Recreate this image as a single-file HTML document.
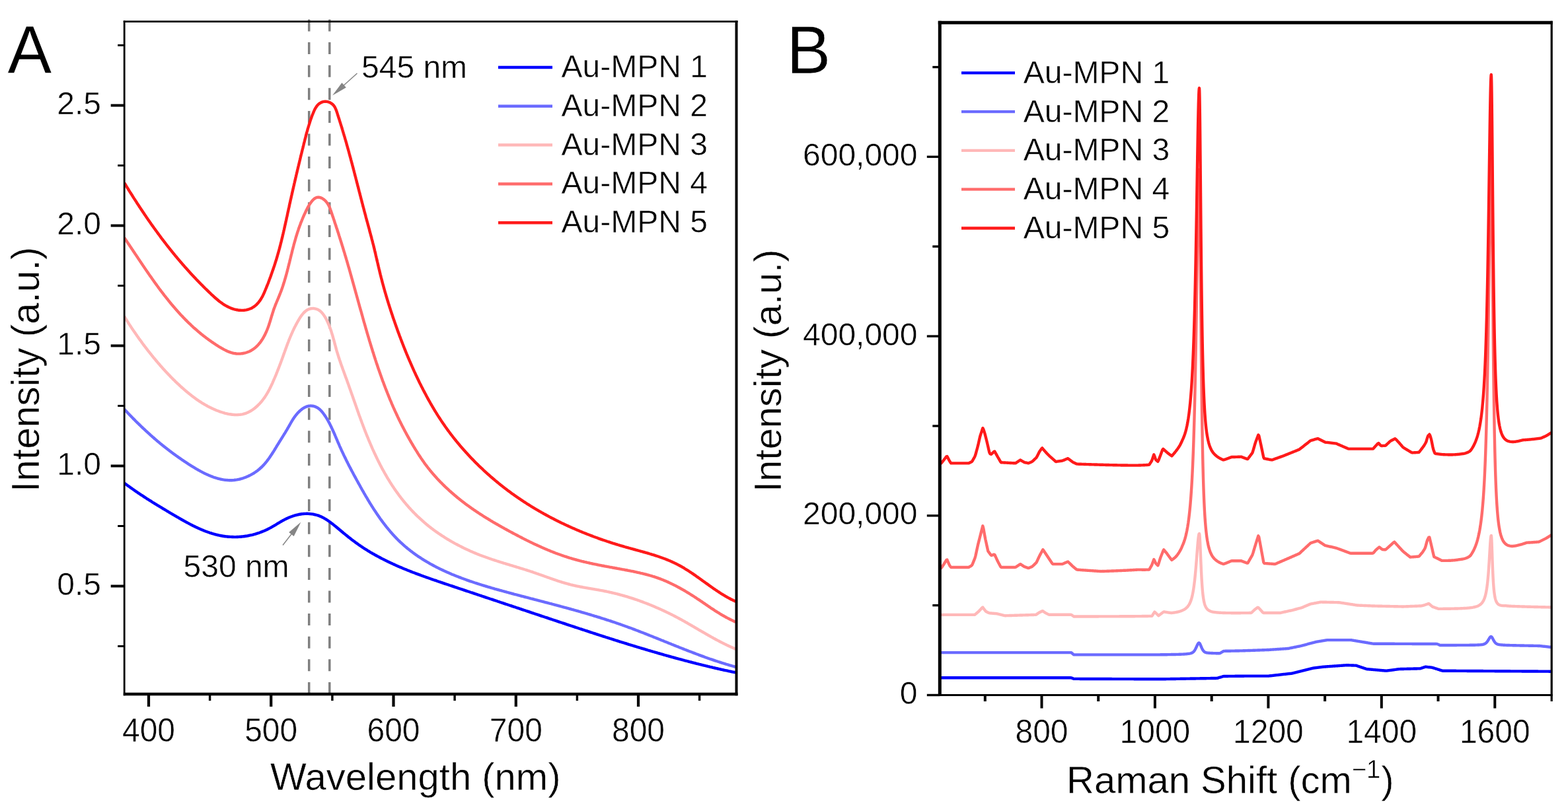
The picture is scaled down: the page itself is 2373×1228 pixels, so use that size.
<!DOCTYPE html>
<html><head><meta charset="utf-8"><title>Au-MPN spectra</title>
<style>html,body{margin:0;padding:0;background:#fff;}svg{display:block;}</style></head><body>
<svg width="2373" height="1228" viewBox="0 0 2373 1228" font-family="&apos;Liberation Sans&apos;, sans-serif">
<rect width="2373" height="1228" fill="#fff"/>
<style>text{stroke:#fff;stroke-width:0.5;stroke-linejoin:round;}</style>
<defs><clipPath id="ca"><rect x="188" y="32.5" width="926.5" height="1018.5"/></clipPath><clipPath id="cb"><rect x="1422.3" y="34" width="925.9" height="1018.5"/></clipPath></defs>
<g stroke="#808080" stroke-width="3.5" stroke-dasharray="18 16.6" fill="none">
<line x1="467.7" y1="29.5" x2="467.7" y2="1051"/>
<line x1="498.8" y1="29.5" x2="498.8" y2="1051"/>
</g>
<g clip-path="url(#ca)" fill="none" stroke-width="4.4" stroke-linejoin="round">
<path d="M188.0,731.3 L189.2,732.2 L190.5,733.2 L191.7,734.1 L193.0,735.0 L194.2,735.9 L195.5,736.8 L196.7,737.7 L198.0,738.6 L199.2,739.4 L200.4,740.3 L201.7,741.2 L202.9,742.1 L204.2,742.9 L205.4,743.8 L206.6,744.6 L207.9,745.5 L209.1,746.3 L210.3,747.1 L211.6,748.0 L212.8,748.8 L214.0,749.6 L215.3,750.4 L216.5,751.2 L217.8,752.1 L219.0,752.9 L220.2,753.7 L221.5,754.5 L222.7,755.3 L223.9,756.0 L225.2,756.8 L226.4,757.6 L227.7,758.4 L228.9,759.2 L230.1,760.0 L231.4,760.8 L232.6,761.5 L233.9,762.3 L235.1,763.1 L236.4,763.8 L237.6,764.6 L238.9,765.4 L240.1,766.1 L241.4,766.9 L242.7,767.7 L243.9,768.4 L245.2,769.2 L246.4,770.0 L247.7,770.7 L249.0,771.5 L250.2,772.2 L251.5,773.0 L252.8,773.8 L254.1,774.5 L255.4,775.3 L256.6,776.0 L257.9,776.8 L259.2,777.6 L260.5,778.3 L261.8,779.1 L263.1,779.9 L264.4,780.6 L265.7,781.4 L267.0,782.2 L268.3,782.9 L269.7,783.7 L271.0,784.5 L272.3,785.2 L273.6,786.0 L274.9,786.7 L276.3,787.5 L277.6,788.2 L278.9,789.0 L280.3,789.7 L281.6,790.5 L283.0,791.2 L284.3,791.9 L285.7,792.6 L287.0,793.4 L288.4,794.1 L289.7,794.8 L291.1,795.5 L292.5,796.2 L293.8,796.8 L295.2,797.5 L296.6,798.2 L298.0,798.8 L299.4,799.5 L300.7,800.1 L302.1,800.7 L303.5,801.3 L304.9,801.9 L306.3,802.5 L307.7,803.1 L309.1,803.7 L310.5,804.2 L311.9,804.7 L313.4,805.3 L314.8,805.8 L316.2,806.3 L317.6,806.8 L319.0,807.2 L320.5,807.7 L321.9,808.1 L323.3,808.5 L324.8,808.9 L326.2,809.3 L327.7,809.7 L329.1,810.0 L330.6,810.4 L332.0,810.7 L333.5,811.0 L334.9,811.3 L336.4,811.5 L337.9,811.8 L339.3,812.0 L340.8,812.2 L342.3,812.4 L343.7,812.5 L345.2,812.7 L346.7,812.8 L348.2,812.9 L349.7,812.9 L351.1,813.0 L352.6,813.0 L354.1,813.1 L355.6,813.1 L357.1,813.1 L358.6,813.0 L360.0,813.0 L361.5,812.9 L363.0,812.8 L364.5,812.7 L366.0,812.5 L367.5,812.4 L368.9,812.2 L370.4,812.0 L371.9,811.8 L373.4,811.6 L374.8,811.3 L376.3,811.0 L377.8,810.7 L379.2,810.4 L380.7,810.1 L382.1,809.8 L383.6,809.4 L385.0,809.0 L386.5,808.6 L387.9,808.2 L389.4,807.7 L390.8,807.2 L392.2,806.8 L393.6,806.3 L395.0,805.7 L396.5,805.2 L397.9,804.6 L399.3,804.0 L400.7,803.4 L402.0,802.8 L403.4,802.2 L404.8,801.5 L406.2,800.8 L407.5,800.1 L408.9,799.4 L410.2,798.7 L411.6,797.9 L412.9,797.1 L414.2,796.4 L415.5,795.6 L416.9,794.8 L418.2,794.0 L419.5,793.2 L420.8,792.4 L422.1,791.6 L423.5,790.8 L424.8,790.0 L426.1,789.3 L427.4,788.5 L428.8,787.8 L430.1,787.1 L431.4,786.4 L432.8,785.7 L434.2,785.0 L435.5,784.4 L436.9,783.8 L438.3,783.2 L439.6,782.7 L441.0,782.2 L442.4,781.7 L443.8,781.2 L445.2,780.8 L446.6,780.3 L448.1,780.0 L449.5,779.6 L450.9,779.3 L452.3,779.0 L453.8,778.7 L455.2,778.5 L456.7,778.3 L458.1,778.1 L459.6,778.0 L461.0,777.9 L462.5,777.9 L463.9,777.8 L465.4,777.8 L466.8,777.9 L468.3,778.0 L469.7,778.1 L471.1,778.3 L472.6,778.4 L474.0,778.7 L475.4,779.0 L476.8,779.3 L478.2,779.6 L479.6,780.0 L481.0,780.4 L482.4,780.9 L483.7,781.4 L485.1,782.0 L486.4,782.6 L487.7,783.2 L489.1,783.9 L490.4,784.6 L491.7,785.4 L493.0,786.1 L494.2,786.9 L495.5,787.7 L496.8,788.6 L498.0,789.5 L499.3,790.4 L500.5,791.3 L501.7,792.2 L503.0,793.1 L504.2,794.1 L505.4,795.1 L506.6,796.1 L507.8,797.0 L509.0,798.0 L510.2,799.0 L511.4,800.0 L512.6,801.0 L513.8,802.0 L515.0,803.0 L516.2,804.0 L517.4,805.0 L518.6,806.0 L519.7,807.0 L520.9,807.9 L522.1,808.9 L523.3,809.9 L524.5,810.8 L525.7,811.8 L526.8,812.7 L528.0,813.7 L529.2,814.6 L530.4,815.5 L531.6,816.5 L532.8,817.4 L534.0,818.3 L535.2,819.2 L536.4,820.1 L537.6,821.0 L538.8,821.9 L540.0,822.7 L541.2,823.6 L542.4,824.5 L543.7,825.3 L544.9,826.2 L546.1,827.0 L547.4,827.8 L548.6,828.7 L549.8,829.5 L551.1,830.3 L552.3,831.1 L553.6,831.9 L554.9,832.7 L556.1,833.5 L557.4,834.3 L558.7,835.0 L559.9,835.8 L561.2,836.6 L562.5,837.3 L563.8,838.1 L565.1,838.8 L566.4,839.5 L567.7,840.3 L569.0,841.0 L570.3,841.7 L571.6,842.4 L572.9,843.1 L574.2,843.8 L575.5,844.5 L576.8,845.2 L578.1,845.9 L579.5,846.6 L580.8,847.2 L582.1,847.9 L583.4,848.6 L584.8,849.2 L586.1,849.9 L587.5,850.5 L588.8,851.2 L590.2,851.8 L591.5,852.5 L592.9,853.1 L594.2,853.7 L595.6,854.3 L596.9,855.0 L598.3,855.6 L599.6,856.2 L601.0,856.8 L602.4,857.4 L603.7,858.0 L605.1,858.6 L606.5,859.1 L607.9,859.7 L609.2,860.3 L610.6,860.9 L612.0,861.5 L613.4,862.0 L614.8,862.6 L616.2,863.2 L617.6,863.7 L618.9,864.3 L620.3,864.8 L621.7,865.4 L623.1,865.9 L624.5,866.5 L625.9,867.0 L627.3,867.5 L628.7,868.1 L630.1,868.6 L631.5,869.1 L632.9,869.6 L634.3,870.2 L635.8,870.7 L637.2,871.2 L638.6,871.7 L640.0,872.2 L641.4,872.8 L642.8,873.3 L644.2,873.8 L645.7,874.3 L647.1,874.8 L648.5,875.3 L649.9,875.8 L651.3,876.3 L652.7,876.8 L654.2,877.3 L655.6,877.8 L657.0,878.3 L658.4,878.7 L659.9,879.2 L661.3,879.7 L662.7,880.2 L664.1,880.7 L665.6,881.2 L667.0,881.7 L668.4,882.1 L669.8,882.6 L671.3,883.1 L672.7,883.6 L674.1,884.1 L675.5,884.5 L677.0,885.0 L678.4,885.5 L679.8,886.0 L681.3,886.5 L682.7,886.9 L684.1,887.4 L685.5,887.9 L687.0,888.4 L688.4,888.9 L689.8,889.3 L691.2,889.8 L692.7,890.3 L694.1,890.8 L695.5,891.2 L696.9,891.7 L698.4,892.2 L699.8,892.7 L701.2,893.1 L702.6,893.6 L704.1,894.1 L705.5,894.6 L706.9,895.1 L708.3,895.5 L709.8,896.0 L711.2,896.5 L712.6,897.0 L714.0,897.4 L715.5,897.9 L716.9,898.4 L718.3,898.9 L719.7,899.3 L721.1,899.8 L722.6,900.3 L724.0,900.8 L725.4,901.2 L726.8,901.7 L728.3,902.2 L729.7,902.7 L731.1,903.2 L732.5,903.6 L733.9,904.1 L735.4,904.6 L736.8,905.1 L738.2,905.5 L739.6,906.0 L741.0,906.5 L742.5,907.0 L743.9,907.4 L745.3,907.9 L746.7,908.4 L748.2,908.9 L749.6,909.3 L751.0,909.8 L752.4,910.3 L753.8,910.8 L755.3,911.2 L756.7,911.7 L758.1,912.2 L759.5,912.7 L760.9,913.1 L762.4,913.6 L763.8,914.1 L765.2,914.6 L766.6,915.0 L768.0,915.5 L769.5,916.0 L770.9,916.5 L772.3,916.9 L773.7,917.4 L775.1,917.9 L776.6,918.4 L778.0,918.8 L779.4,919.3 L780.8,919.8 L782.2,920.3 L783.6,920.7 L785.1,921.2 L786.5,921.7 L787.9,922.1 L789.3,922.6 L790.7,923.1 L792.2,923.6 L793.6,924.0 L795.0,924.5 L796.4,925.0 L797.8,925.5 L799.3,925.9 L800.7,926.4 L802.1,926.9 L803.5,927.4 L804.9,927.8 L806.4,928.3 L807.8,928.8 L809.2,929.3 L810.6,929.7 L812.0,930.2 L813.5,930.7 L814.9,931.2 L816.3,931.6 L817.7,932.1 L819.1,932.6 L820.6,933.1 L822.0,933.5 L823.4,934.0 L824.8,934.5 L826.2,934.9 L827.7,935.4 L829.1,935.9 L830.5,936.4 L831.9,936.8 L833.4,937.3 L834.8,937.8 L836.2,938.3 L837.6,938.7 L839.0,939.2 L840.5,939.7 L841.9,940.2 L843.3,940.6 L844.7,941.1 L846.1,941.6 L847.6,942.1 L849.0,942.5 L850.4,943.0 L851.8,943.5 L853.3,943.9 L854.7,944.4 L856.1,944.9 L857.5,945.4 L858.9,945.8 L860.4,946.3 L861.8,946.8 L863.2,947.2 L864.6,947.7 L866.1,948.2 L867.5,948.7 L868.9,949.1 L870.3,949.6 L871.8,950.1 L873.2,950.5 L874.6,951.0 L876.0,951.5 L877.5,952.0 L878.9,952.4 L880.3,952.9 L881.7,953.4 L883.2,953.8 L884.6,954.3 L886.0,954.8 L887.4,955.2 L888.9,955.7 L890.3,956.2 L891.7,956.6 L893.1,957.1 L894.6,957.6 L896.0,958.0 L897.4,958.5 L898.8,959.0 L900.3,959.4 L901.7,959.9 L903.1,960.3 L904.6,960.8 L906.0,961.3 L907.4,961.7 L908.8,962.2 L910.3,962.7 L911.7,963.1 L913.1,963.6 L914.6,964.0 L916.0,964.5 L917.4,965.0 L918.8,965.4 L920.3,965.9 L921.7,966.3 L923.1,966.8 L924.6,967.2 L926.0,967.7 L927.4,968.1 L928.8,968.6 L930.3,969.1 L931.7,969.5 L933.1,970.0 L934.6,970.4 L936.0,970.9 L937.4,971.3 L938.9,971.8 L940.3,972.2 L941.7,972.7 L943.2,973.1 L944.6,973.5 L946.0,974.0 L947.5,974.4 L948.9,974.9 L950.3,975.3 L951.8,975.8 L953.2,976.2 L954.6,976.7 L956.1,977.1 L957.5,977.5 L958.9,978.0 L960.4,978.4 L961.8,978.8 L963.2,979.3 L964.7,979.7 L966.1,980.2 L967.6,980.6 L969.0,981.0 L970.4,981.5 L971.9,981.9 L973.3,982.3 L974.7,982.7 L976.2,983.2 L977.6,983.6 L979.1,984.0 L980.5,984.5 L981.9,984.9 L983.4,985.3 L984.8,985.7 L986.2,986.2 L987.7,986.6 L989.1,987.0 L990.6,987.4 L992.0,987.8 L993.4,988.2 L994.9,988.7 L996.3,989.1 L997.8,989.5 L999.2,989.9 L1000.7,990.3 L1002.1,990.7 L1003.5,991.1 L1005.0,991.6 L1006.4,992.0 L1007.9,992.4 L1009.3,992.8 L1010.8,993.2 L1012.2,993.6 L1013.7,994.0 L1015.1,994.4 L1016.5,994.8 L1018.0,995.2 L1019.4,995.6 L1020.9,996.0 L1022.3,996.4 L1023.8,996.8 L1025.2,997.2 L1026.7,997.6 L1028.1,997.9 L1029.6,998.3 L1031.0,998.7 L1032.5,999.1 L1033.9,999.5 L1035.4,999.9 L1036.8,1000.3 L1038.3,1000.6 L1039.7,1001.0 L1041.2,1001.4 L1042.6,1001.8 L1044.1,1002.2 L1045.5,1002.5 L1047.0,1002.9 L1048.4,1003.3 L1049.9,1003.7 L1051.3,1004.0 L1052.8,1004.4 L1054.2,1004.8 L1055.7,1005.1 L1057.1,1005.5 L1058.6,1005.9 L1060.0,1006.2 L1061.5,1006.6 L1063.0,1006.9 L1064.4,1007.3 L1065.9,1007.6 L1067.3,1008.0 L1068.8,1008.4 L1070.2,1008.7 L1071.7,1009.1 L1073.2,1009.4 L1074.6,1009.8 L1076.1,1010.1 L1077.5,1010.4 L1079.0,1010.8 L1080.4,1011.1 L1081.9,1011.5 L1083.4,1011.8 L1084.8,1012.1 L1086.3,1012.5 L1087.7,1012.8 L1089.2,1013.1 L1090.7,1013.5 L1092.1,1013.8 L1093.6,1014.1 L1095.1,1014.5 L1096.5,1014.8 L1098.0,1015.1 L1099.5,1015.4 L1100.9,1015.7 L1102.4,1016.1 L1103.8,1016.4 L1105.3,1016.7 L1106.8,1017.0 L1108.2,1017.3 L1109.7,1017.6 L1111.2,1017.9 L1112.6,1018.2 L1114.0,1018.5" stroke="#0000ff"/>
<path d="M188.0,619.5 L189.1,620.6 L190.1,621.8 L191.2,622.9 L192.3,624.0 L193.3,625.2 L194.4,626.3 L195.5,627.4 L196.5,628.5 L197.6,629.6 L198.7,630.7 L199.7,631.8 L200.8,632.9 L201.8,634.0 L202.9,635.0 L204.0,636.1 L205.0,637.2 L206.1,638.3 L207.2,639.3 L208.2,640.4 L209.3,641.4 L210.4,642.5 L211.5,643.5 L212.5,644.5 L213.6,645.6 L214.7,646.6 L215.7,647.6 L216.8,648.7 L217.9,649.7 L219.0,650.7 L220.1,651.7 L221.1,652.7 L222.2,653.7 L223.3,654.7 L224.4,655.7 L225.5,656.7 L226.6,657.7 L227.7,658.7 L228.8,659.6 L229.9,660.6 L231.0,661.6 L232.1,662.5 L233.2,663.5 L234.3,664.5 L235.4,665.4 L236.5,666.4 L237.6,667.3 L238.7,668.3 L239.9,669.2 L241.0,670.1 L242.1,671.1 L243.2,672.0 L244.4,672.9 L245.5,673.9 L246.7,674.8 L247.8,675.7 L248.9,676.6 L250.1,677.5 L251.3,678.4 L252.4,679.3 L253.6,680.2 L254.7,681.1 L255.9,682.0 L257.1,682.9 L258.3,683.8 L259.5,684.7 L260.6,685.6 L261.8,686.5 L263.0,687.4 L264.2,688.2 L265.4,689.1 L266.6,690.0 L267.9,690.8 L269.1,691.7 L270.3,692.6 L271.5,693.4 L272.8,694.3 L274.0,695.2 L275.3,696.0 L276.5,696.9 L277.8,697.7 L279.0,698.6 L280.3,699.4 L281.6,700.2 L282.9,701.1 L284.2,701.9 L285.4,702.8 L286.7,703.6 L288.0,704.4 L289.4,705.3 L290.7,706.1 L292.0,706.9 L293.3,707.7 L294.7,708.5 L296.0,709.3 L297.3,710.1 L298.7,710.9 L300.0,711.7 L301.4,712.4 L302.8,713.2 L304.1,713.9 L305.5,714.6 L306.9,715.4 L308.3,716.1 L309.6,716.8 L311.0,717.4 L312.4,718.1 L313.8,718.7 L315.2,719.3 L316.6,719.9 L318.0,720.5 L319.4,721.1 L320.9,721.6 L322.3,722.2 L323.7,722.7 L325.1,723.2 L326.6,723.6 L328.0,724.0 L329.4,724.5 L330.9,724.8 L332.3,725.2 L333.7,725.5 L335.2,725.8 L336.6,726.1 L338.1,726.4 L339.5,726.6 L341.0,726.8 L342.4,726.9 L343.9,727.0 L345.4,727.1 L346.8,727.2 L348.3,727.2 L349.7,727.2 L351.2,727.2 L352.7,727.1 L354.1,727.0 L355.6,726.8 L357.1,726.6 L358.5,726.4 L360.0,726.1 L361.5,725.8 L362.9,725.5 L364.4,725.1 L365.8,724.7 L367.3,724.3 L368.7,723.8 L370.1,723.3 L371.5,722.8 L372.9,722.2 L374.3,721.6 L375.7,721.0 L377.1,720.3 L378.5,719.6 L379.8,718.9 L381.1,718.2 L382.5,717.4 L383.8,716.7 L385.0,715.8 L386.3,715.0 L387.5,714.2 L388.8,713.3 L390.0,712.4 L391.1,711.4 L392.3,710.5 L393.4,709.5 L394.5,708.5 L395.6,707.5 L396.7,706.5 L397.7,705.4 L398.7,704.4 L399.7,703.3 L400.7,702.2 L401.7,701.0 L402.6,699.9 L403.5,698.8 L404.4,697.6 L405.3,696.4 L406.2,695.2 L407.1,694.0 L408.0,692.8 L408.8,691.5 L409.6,690.3 L410.5,689.0 L411.3,687.8 L412.1,686.5 L412.9,685.2 L413.8,683.9 L414.6,682.6 L415.4,681.3 L416.2,680.0 L417.0,678.7 L417.8,677.4 L418.6,676.0 L419.4,674.7 L420.2,673.4 L421.1,672.0 L421.9,670.7 L422.7,669.3 L423.5,668.0 L424.4,666.7 L425.2,665.3 L426.1,664.0 L426.9,662.6 L427.7,661.3 L428.6,659.9 L429.4,658.6 L430.2,657.2 L431.1,655.9 L431.9,654.6 L432.7,653.2 L433.5,651.9 L434.3,650.6 L435.1,649.2 L435.8,647.9 L436.6,646.6 L437.3,645.3 L438.1,644.0 L438.8,642.7 L439.5,641.5 L440.2,640.2 L441.0,638.9 L441.7,637.7 L442.5,636.4 L443.2,635.2 L444.0,634.0 L444.8,632.8 L445.6,631.6 L446.5,630.4 L447.4,629.2 L448.3,628.0 L449.3,626.9 L450.2,625.7 L451.3,624.6 L452.4,623.5 L453.5,622.5 L454.6,621.4 L455.8,620.5 L457.0,619.5 L458.2,618.7 L459.5,617.9 L460.8,617.1 L462.1,616.5 L463.4,615.9 L464.8,615.4 L466.1,615.0 L467.5,614.8 L468.9,614.6 L470.3,614.5 L471.7,614.6 L473.2,614.8 L474.6,615.0 L476.0,615.4 L477.4,615.9 L478.7,616.5 L480.0,617.2 L481.2,617.9 L482.3,618.7 L483.5,619.6 L484.5,620.5 L485.5,621.5 L486.5,622.6 L487.5,623.7 L488.4,624.8 L489.3,626.0 L490.2,627.2 L491.0,628.4 L491.9,629.6 L492.7,630.9 L493.5,632.1 L494.3,633.4 L495.1,634.7 L495.9,636.1 L496.7,637.4 L497.4,638.8 L498.2,640.2 L498.9,641.6 L499.6,643.0 L500.3,644.4 L501.0,645.8 L501.7,647.3 L502.4,648.7 L503.0,650.2 L503.7,651.6 L504.4,653.1 L505.0,654.6 L505.7,656.0 L506.3,657.5 L507.0,659.0 L507.6,660.5 L508.2,661.9 L508.8,663.4 L509.5,664.9 L510.1,666.3 L510.7,667.8 L511.3,669.2 L511.9,670.7 L512.6,672.1 L513.2,673.5 L513.8,675.0 L514.4,676.4 L515.1,677.8 L515.7,679.2 L516.3,680.5 L516.9,681.9 L517.6,683.3 L518.2,684.6 L518.8,686.0 L519.5,687.3 L520.1,688.7 L520.7,690.0 L521.4,691.3 L522.0,692.6 L522.7,693.9 L523.3,695.2 L523.9,696.6 L524.6,697.8 L525.2,699.1 L525.9,700.4 L526.5,701.7 L527.2,703.0 L527.8,704.3 L528.5,705.6 L529.2,706.8 L529.8,708.1 L530.5,709.4 L531.2,710.7 L531.8,711.9 L532.5,713.2 L533.2,714.5 L533.9,715.7 L534.5,717.0 L535.2,718.3 L535.9,719.6 L536.6,720.8 L537.3,722.1 L538.0,723.4 L538.7,724.7 L539.4,726.0 L540.1,727.3 L540.8,728.5 L541.5,729.8 L542.2,731.1 L542.9,732.4 L543.7,733.7 L544.4,735.0 L545.1,736.3 L545.8,737.6 L546.6,739.0 L547.3,740.3 L548.0,741.6 L548.8,742.9 L549.5,744.2 L550.3,745.5 L551.0,746.8 L551.8,748.1 L552.6,749.5 L553.3,750.8 L554.1,752.1 L554.9,753.4 L555.7,754.7 L556.4,756.0 L557.2,757.3 L558.0,758.6 L558.8,760.0 L559.6,761.3 L560.4,762.6 L561.2,763.9 L562.0,765.2 L562.8,766.5 L563.7,767.8 L564.5,769.1 L565.3,770.4 L566.2,771.7 L567.0,773.0 L567.9,774.2 L568.7,775.5 L569.6,776.8 L570.4,778.1 L571.3,779.4 L572.2,780.6 L573.0,781.9 L573.9,783.1 L574.8,784.4 L575.7,785.7 L576.6,786.9 L577.5,788.1 L578.4,789.4 L579.3,790.6 L580.2,791.8 L581.2,793.0 L582.1,794.3 L583.0,795.5 L584.0,796.7 L584.9,797.9 L585.9,799.1 L586.8,800.2 L587.8,801.4 L588.8,802.6 L589.7,803.7 L590.7,804.9 L591.7,806.0 L592.7,807.2 L593.7,808.3 L594.7,809.4 L595.7,810.5 L596.7,811.6 L597.8,812.7 L598.8,813.8 L599.8,814.9 L600.9,816.0 L601.9,817.0 L603.0,818.1 L604.1,819.1 L605.1,820.1 L606.2,821.2 L607.3,822.2 L608.4,823.2 L609.5,824.2 L610.6,825.2 L611.7,826.1 L612.8,827.1 L614.0,828.1 L615.1,829.0 L616.2,830.0 L617.4,830.9 L618.5,831.8 L619.7,832.7 L620.8,833.7 L622.0,834.6 L623.2,835.4 L624.3,836.3 L625.5,837.2 L626.7,838.1 L627.9,838.9 L629.1,839.8 L630.3,840.6 L631.5,841.5 L632.7,842.3 L633.9,843.1 L635.2,843.9 L636.4,844.7 L637.6,845.5 L638.9,846.3 L640.1,847.1 L641.3,847.9 L642.6,848.7 L643.9,849.4 L645.1,850.2 L646.4,850.9 L647.7,851.7 L648.9,852.4 L650.2,853.2 L651.5,853.9 L652.8,854.6 L654.1,855.3 L655.4,856.0 L656.7,856.7 L658.0,857.4 L659.3,858.1 L660.6,858.8 L661.9,859.4 L663.3,860.1 L664.6,860.8 L665.9,861.4 L667.3,862.1 L668.6,862.7 L669.9,863.3 L671.3,864.0 L672.6,864.6 L674.0,865.2 L675.3,865.8 L676.7,866.4 L678.1,867.0 L679.4,867.6 L680.8,868.2 L682.2,868.8 L683.5,869.4 L684.9,870.0 L686.3,870.5 L687.7,871.1 L689.1,871.7 L690.5,872.2 L691.9,872.8 L693.3,873.3 L694.7,873.9 L696.1,874.4 L697.5,874.9 L698.9,875.5 L700.3,876.0 L701.7,876.5 L703.1,877.0 L704.5,877.5 L705.9,878.1 L707.4,878.6 L708.8,879.1 L710.2,879.6 L711.6,880.1 L713.1,880.5 L714.5,881.0 L715.9,881.5 L717.4,882.0 L718.8,882.5 L720.2,882.9 L721.7,883.4 L723.1,883.9 L724.6,884.3 L726.0,884.8 L727.5,885.2 L728.9,885.7 L730.4,886.2 L731.8,886.6 L733.3,887.0 L734.7,887.5 L736.2,887.9 L737.6,888.4 L739.1,888.8 L740.5,889.2 L742.0,889.6 L743.5,890.1 L744.9,890.5 L746.4,890.9 L747.8,891.3 L749.3,891.8 L750.8,892.2 L752.2,892.6 L753.7,893.0 L755.2,893.4 L756.6,893.8 L758.1,894.2 L759.6,894.6 L761.0,895.0 L762.5,895.4 L763.9,895.8 L765.4,896.2 L766.9,896.6 L768.3,897.0 L769.8,897.4 L771.3,897.8 L772.7,898.2 L774.2,898.6 L775.7,899.0 L777.1,899.4 L778.6,899.8 L780.1,900.1 L781.5,900.5 L783.0,900.9 L784.5,901.3 L785.9,901.7 L787.4,902.1 L788.9,902.5 L790.3,902.8 L791.8,903.2 L793.2,903.6 L794.7,904.0 L796.2,904.4 L797.6,904.7 L799.1,905.1 L800.5,905.5 L802.0,905.9 L803.4,906.3 L804.9,906.6 L806.4,907.0 L807.8,907.4 L809.3,907.8 L810.7,908.2 L812.2,908.5 L813.6,908.9 L815.1,909.3 L816.5,909.7 L818.0,910.1 L819.4,910.4 L820.9,910.8 L822.3,911.2 L823.8,911.6 L825.2,912.0 L826.7,912.3 L828.1,912.7 L829.6,913.1 L831.0,913.5 L832.5,913.9 L833.9,914.2 L835.4,914.6 L836.8,915.0 L838.3,915.4 L839.7,915.8 L841.2,916.2 L842.6,916.5 L844.0,916.9 L845.5,917.3 L846.9,917.7 L848.4,918.1 L849.8,918.5 L851.3,918.9 L852.7,919.3 L854.1,919.7 L855.6,920.0 L857.0,920.4 L858.5,920.8 L859.9,921.2 L861.3,921.6 L862.8,922.0 L864.2,922.4 L865.6,922.8 L867.1,923.2 L868.5,923.6 L869.9,924.0 L871.4,924.4 L872.8,924.8 L874.3,925.2 L875.7,925.6 L877.1,926.0 L878.5,926.4 L880.0,926.9 L881.4,927.3 L882.8,927.7 L884.3,928.1 L885.7,928.5 L887.1,928.9 L888.6,929.3 L890.0,929.8 L891.4,930.2 L892.8,930.6 L894.3,931.0 L895.7,931.5 L897.1,931.9 L898.5,932.3 L900.0,932.8 L901.4,933.2 L902.8,933.6 L904.2,934.1 L905.7,934.5 L907.1,934.9 L908.5,935.4 L909.9,935.8 L911.4,936.3 L912.8,936.7 L914.2,937.2 L915.6,937.6 L917.0,938.1 L918.4,938.6 L919.9,939.0 L921.3,939.5 L922.7,939.9 L924.1,940.4 L925.5,940.9 L926.9,941.4 L928.4,941.8 L929.8,942.3 L931.2,942.8 L932.6,943.3 L934.0,943.7 L935.4,944.2 L936.8,944.7 L938.3,945.2 L939.7,945.7 L941.1,946.2 L942.5,946.7 L943.9,947.2 L945.3,947.7 L946.7,948.2 L948.1,948.7 L949.5,949.2 L950.9,949.8 L952.4,950.3 L953.8,950.8 L955.2,951.3 L956.6,951.8 L958.0,952.4 L959.4,952.9 L960.8,953.4 L962.2,954.0 L963.6,954.5 L965.0,955.0 L966.4,955.6 L967.8,956.1 L969.2,956.7 L970.6,957.2 L972.0,957.7 L973.4,958.3 L974.8,958.8 L976.2,959.4 L977.6,959.9 L979.0,960.5 L980.4,961.1 L981.8,961.6 L983.2,962.2 L984.6,962.7 L986.0,963.3 L987.4,963.8 L988.8,964.4 L990.2,965.0 L991.6,965.5 L993.0,966.1 L994.4,966.6 L995.8,967.2 L997.2,967.8 L998.6,968.3 L1000.0,968.9 L1001.4,969.5 L1002.8,970.0 L1004.2,970.6 L1005.6,971.2 L1007.0,971.7 L1008.4,972.3 L1009.8,972.8 L1011.2,973.4 L1012.6,974.0 L1014.0,974.5 L1015.4,975.1 L1016.8,975.7 L1018.2,976.2 L1019.6,976.8 L1021.0,977.4 L1022.4,977.9 L1023.8,978.5 L1025.2,979.0 L1026.6,979.6 L1028.0,980.2 L1029.4,980.7 L1030.8,981.3 L1032.2,981.8 L1033.6,982.4 L1035.0,982.9 L1036.4,983.5 L1037.8,984.0 L1039.2,984.6 L1040.6,985.1 L1042.1,985.7 L1043.5,986.2 L1044.9,986.8 L1046.3,987.3 L1047.7,987.8 L1049.1,988.4 L1050.5,988.9 L1051.9,989.4 L1053.3,990.0 L1054.7,990.5 L1056.1,991.0 L1057.5,991.6 L1058.9,992.1 L1060.3,992.6 L1061.7,993.1 L1063.1,993.6 L1064.6,994.1 L1066.0,994.7 L1067.4,995.2 L1068.8,995.7 L1070.2,996.2 L1071.6,996.7 L1073.0,997.2 L1074.4,997.7 L1075.8,998.2 L1077.3,998.6 L1078.7,999.1 L1080.1,999.6 L1081.5,1000.1 L1082.9,1000.6 L1084.3,1001.0 L1085.8,1001.5 L1087.2,1002.0 L1088.6,1002.4 L1090.0,1002.9 L1091.4,1003.3 L1092.9,1003.8 L1094.3,1004.2 L1095.7,1004.7 L1097.1,1005.1 L1098.6,1005.6 L1100.0,1006.0 L1101.4,1006.4 L1102.8,1006.8 L1104.3,1007.3 L1105.7,1007.7 L1107.1,1008.1 L1108.5,1008.5 L1110.0,1008.9 L1111.4,1009.3 L1112.8,1009.7 L1114.0,1010.0" stroke="#6b6bff"/>
<path d="M188.0,479.0 L188.8,480.3 L189.6,481.5 L190.4,482.8 L191.2,484.1 L192.0,485.3 L192.8,486.6 L193.6,487.8 L194.4,489.1 L195.2,490.4 L196.0,491.6 L196.9,492.9 L197.7,494.1 L198.5,495.4 L199.3,496.6 L200.2,497.9 L201.0,499.1 L201.9,500.4 L202.7,501.6 L203.5,502.8 L204.4,504.1 L205.2,505.3 L206.1,506.5 L207.0,507.8 L207.8,509.0 L208.7,510.2 L209.6,511.5 L210.4,512.7 L211.3,513.9 L212.2,515.1 L213.1,516.3 L214.0,517.5 L214.8,518.8 L215.7,520.0 L216.6,521.2 L217.5,522.4 L218.4,523.6 L219.3,524.8 L220.2,526.0 L221.2,527.2 L222.1,528.4 L223.0,529.6 L223.9,530.8 L224.8,531.9 L225.8,533.1 L226.7,534.3 L227.6,535.5 L228.6,536.6 L229.5,537.8 L230.4,539.0 L231.4,540.2 L232.3,541.3 L233.3,542.5 L234.3,543.6 L235.2,544.8 L236.2,545.9 L237.1,547.1 L238.1,548.2 L239.1,549.4 L240.1,550.5 L241.1,551.6 L242.0,552.8 L243.0,553.9 L244.0,555.0 L245.0,556.1 L246.0,557.3 L247.0,558.4 L248.0,559.5 L249.0,560.6 L250.0,561.7 L251.0,562.8 L252.1,563.9 L253.1,565.0 L254.1,566.1 L255.1,567.2 L256.2,568.2 L257.2,569.3 L258.2,570.4 L259.3,571.5 L260.3,572.5 L261.4,573.6 L262.4,574.6 L263.5,575.7 L264.6,576.7 L265.6,577.8 L266.7,578.8 L267.8,579.9 L268.9,580.9 L270.0,581.9 L271.1,582.9 L272.1,583.9 L273.3,585.0 L274.4,586.0 L275.5,587.0 L276.6,587.9 L277.7,588.9 L278.8,589.9 L280.0,590.9 L281.1,591.9 L282.3,592.8 L283.4,593.8 L284.6,594.7 L285.7,595.7 L286.9,596.6 L288.1,597.6 L289.3,598.5 L290.4,599.4 L291.6,600.3 L292.8,601.2 L294.0,602.1 L295.3,603.0 L296.5,603.9 L297.7,604.8 L298.9,605.6 L300.2,606.5 L301.4,607.3 L302.7,608.1 L303.9,608.9 L305.2,609.8 L306.5,610.6 L307.8,611.3 L309.1,612.1 L310.4,612.9 L311.7,613.6 L313.0,614.3 L314.3,615.1 L315.6,615.8 L317.0,616.5 L318.3,617.1 L319.7,617.8 L321.0,618.5 L322.4,619.1 L323.8,619.7 L325.2,620.3 L326.6,620.9 L328.0,621.5 L329.4,622.0 L330.8,622.5 L332.2,623.1 L333.7,623.6 L335.1,624.0 L336.6,624.5 L338.0,624.9 L339.5,625.4 L341.0,625.8 L342.5,626.1 L343.9,626.5 L345.4,626.8 L346.9,627.1 L348.4,627.3 L349.9,627.5 L351.4,627.7 L352.9,627.9 L354.4,628.0 L355.9,628.1 L357.4,628.1 L358.8,628.1 L360.3,628.0 L361.8,627.9 L363.3,627.8 L364.7,627.6 L366.2,627.4 L367.6,627.1 L369.0,626.7 L370.4,626.3 L371.8,625.9 L373.2,625.3 L374.6,624.8 L375.9,624.1 L377.3,623.5 L378.6,622.7 L379.9,622.0 L381.2,621.2 L382.5,620.3 L383.7,619.4 L385.0,618.5 L386.2,617.5 L387.3,616.5 L388.5,615.5 L389.6,614.5 L390.7,613.4 L391.8,612.3 L392.9,611.2 L393.9,610.1 L394.9,609.0 L395.9,607.8 L396.8,606.7 L397.7,605.5 L398.6,604.3 L399.5,603.1 L400.4,601.9 L401.2,600.7 L402.0,599.4 L402.8,598.2 L403.6,596.9 L404.3,595.7 L405.1,594.4 L405.8,593.1 L406.5,591.8 L407.2,590.5 L407.9,589.2 L408.6,587.8 L409.2,586.5 L409.9,585.2 L410.5,583.8 L411.2,582.5 L411.8,581.1 L412.4,579.8 L413.0,578.4 L413.6,577.0 L414.2,575.6 L414.8,574.2 L415.4,572.9 L416.0,571.5 L416.6,570.1 L417.2,568.7 L417.8,567.3 L418.3,565.9 L418.9,564.4 L419.5,563.0 L420.0,561.6 L420.6,560.2 L421.1,558.8 L421.7,557.4 L422.2,556.0 L422.8,554.5 L423.3,553.1 L423.9,551.7 L424.4,550.3 L424.9,548.9 L425.4,547.5 L426.0,546.0 L426.5,544.6 L427.0,543.2 L427.5,541.8 L428.0,540.4 L428.5,539.0 L429.0,537.6 L429.5,536.2 L430.0,534.8 L430.5,533.5 L431.0,532.1 L431.5,530.7 L432.0,529.3 L432.5,527.9 L433.0,526.6 L433.5,525.2 L434.0,523.8 L434.5,522.4 L435.0,521.1 L435.5,519.7 L436.1,518.3 L436.6,517.0 L437.1,515.6 L437.7,514.2 L438.2,512.9 L438.8,511.5 L439.3,510.1 L439.9,508.8 L440.5,507.4 L441.1,506.0 L441.7,504.7 L442.3,503.3 L442.9,501.9 L443.5,500.6 L444.2,499.2 L444.8,497.8 L445.5,496.4 L446.2,495.0 L446.9,493.7 L447.6,492.3 L448.4,490.9 L449.1,489.5 L449.9,488.1 L450.7,486.7 L451.5,485.3 L452.3,483.9 L453.2,482.5 L454.0,481.1 L454.9,479.8 L455.8,478.4 L456.8,477.1 L457.8,475.9 L458.8,474.7 L459.8,473.5 L460.9,472.5 L462.0,471.5 L463.1,470.6 L464.3,469.7 L465.6,469.0 L466.8,468.4 L468.2,467.9 L469.5,467.5 L470.9,467.2 L472.3,467.1 L473.7,467.0 L475.1,467.1 L476.4,467.3 L477.8,467.6 L479.1,468.0 L480.4,468.5 L481.7,469.1 L482.9,469.8 L484.0,470.6 L485.2,471.5 L486.2,472.5 L487.3,473.6 L488.3,474.8 L489.2,476.0 L490.2,477.3 L491.0,478.6 L491.9,480.0 L492.7,481.4 L493.5,482.8 L494.3,484.3 L495.0,485.8 L495.7,487.3 L496.4,488.8 L497.0,490.4 L497.7,491.9 L498.3,493.4 L498.9,494.9 L499.4,496.4 L500.0,497.9 L500.5,499.3 L501.0,500.8 L501.5,502.3 L501.9,503.8 L502.4,505.2 L502.8,506.7 L503.3,508.1 L503.7,509.6 L504.1,511.0 L504.5,512.5 L504.9,513.9 L505.3,515.4 L505.7,516.8 L506.1,518.2 L506.4,519.6 L506.8,521.1 L507.2,522.5 L507.6,523.9 L508.0,525.3 L508.3,526.7 L508.7,528.1 L509.1,529.6 L509.5,531.0 L509.9,532.4 L510.4,533.8 L510.8,535.2 L511.2,536.6 L511.7,538.0 L512.1,539.4 L512.5,540.8 L513.0,542.2 L513.5,543.6 L513.9,544.9 L514.4,546.3 L514.9,547.7 L515.3,549.1 L515.8,550.5 L516.3,551.9 L516.8,553.3 L517.3,554.7 L517.8,556.1 L518.3,557.5 L518.8,558.9 L519.3,560.3 L519.8,561.6 L520.3,563.0 L520.8,564.4 L521.3,565.8 L521.8,567.2 L522.3,568.6 L522.8,570.0 L523.3,571.4 L523.9,572.8 L524.4,574.2 L524.9,575.6 L525.4,577.0 L525.9,578.4 L526.4,579.8 L526.9,581.2 L527.4,582.6 L527.9,584.0 L528.4,585.4 L528.9,586.9 L529.4,588.3 L529.9,589.7 L530.4,591.1 L530.9,592.5 L531.4,593.9 L531.9,595.4 L532.4,596.8 L532.9,598.2 L533.4,599.6 L533.9,601.0 L534.4,602.5 L534.9,603.9 L535.4,605.3 L535.9,606.7 L536.4,608.2 L536.9,609.6 L537.4,611.0 L537.9,612.4 L538.4,613.9 L538.9,615.3 L539.4,616.7 L539.9,618.2 L540.4,619.6 L540.9,621.0 L541.4,622.4 L541.9,623.9 L542.4,625.3 L542.9,626.7 L543.4,628.2 L543.9,629.6 L544.5,631.0 L545.0,632.4 L545.5,633.9 L546.0,635.3 L546.5,636.7 L547.1,638.1 L547.6,639.6 L548.1,641.0 L548.7,642.4 L549.2,643.8 L549.7,645.3 L550.3,646.7 L550.8,648.1 L551.3,649.5 L551.9,650.9 L552.4,652.4 L553.0,653.8 L553.6,655.2 L554.1,656.6 L554.7,658.0 L555.2,659.4 L555.8,660.8 L556.4,662.2 L557.0,663.6 L557.5,665.0 L558.1,666.4 L558.7,667.8 L559.3,669.2 L559.9,670.6 L560.5,672.0 L561.1,673.4 L561.7,674.8 L562.3,676.2 L562.9,677.6 L563.5,679.0 L564.1,680.4 L564.7,681.7 L565.4,683.1 L566.0,684.5 L566.6,685.9 L567.3,687.2 L567.9,688.6 L568.6,690.0 L569.2,691.3 L569.9,692.7 L570.5,694.0 L571.2,695.4 L571.8,696.7 L572.5,698.1 L573.2,699.4 L573.9,700.8 L574.5,702.1 L575.2,703.5 L575.9,704.8 L576.6,706.1 L577.3,707.4 L578.0,708.8 L578.7,710.1 L579.4,711.4 L580.2,712.7 L580.9,714.0 L581.6,715.3 L582.3,716.6 L583.1,717.9 L583.8,719.2 L584.6,720.5 L585.3,721.8 L586.1,723.1 L586.8,724.4 L587.6,725.6 L588.4,726.9 L589.2,728.2 L589.9,729.4 L590.7,730.7 L591.5,731.9 L592.3,733.2 L593.1,734.4 L593.9,735.7 L594.8,736.9 L595.6,738.1 L596.4,739.4 L597.2,740.6 L598.1,741.8 L598.9,743.0 L599.8,744.2 L600.6,745.4 L601.5,746.6 L602.4,747.8 L603.2,749.0 L604.1,750.2 L605.0,751.4 L605.9,752.5 L606.8,753.7 L607.7,754.9 L608.6,756.0 L609.5,757.2 L610.4,758.3 L611.4,759.5 L612.3,760.6 L613.2,761.7 L614.2,762.9 L615.1,764.0 L616.1,765.1 L617.1,766.2 L618.0,767.3 L619.0,768.4 L620.0,769.5 L621.0,770.6 L622.0,771.7 L623.0,772.7 L624.0,773.8 L625.0,774.9 L626.0,775.9 L627.1,777.0 L628.1,778.0 L629.2,779.1 L630.2,780.1 L631.3,781.2 L632.3,782.2 L633.4,783.2 L634.5,784.2 L635.6,785.2 L636.7,786.2 L637.8,787.2 L638.9,788.2 L640.0,789.2 L641.1,790.2 L642.2,791.2 L643.4,792.1 L644.5,793.1 L645.6,794.1 L646.8,795.0 L648.0,796.0 L649.1,796.9 L650.3,797.8 L651.5,798.7 L652.7,799.7 L653.9,800.6 L655.1,801.5 L656.3,802.4 L657.5,803.3 L658.8,804.2 L660.0,805.1 L661.2,805.9 L662.5,806.8 L663.7,807.7 L665.0,808.5 L666.3,809.4 L667.5,810.2 L668.8,811.1 L670.1,811.9 L671.4,812.7 L672.6,813.5 L673.9,814.4 L675.2,815.2 L676.5,816.0 L677.9,816.8 L679.2,817.5 L680.5,818.3 L681.8,819.1 L683.1,819.9 L684.5,820.6 L685.8,821.4 L687.1,822.1 L688.5,822.9 L689.8,823.6 L691.2,824.3 L692.5,825.0 L693.9,825.7 L695.2,826.4 L696.6,827.1 L698.0,827.8 L699.3,828.5 L700.7,829.2 L702.1,829.9 L703.4,830.5 L704.8,831.2 L706.2,831.8 L707.6,832.5 L709.0,833.1 L710.3,833.7 L711.7,834.4 L713.1,835.0 L714.5,835.6 L715.9,836.2 L717.3,836.8 L718.7,837.4 L720.1,837.9 L721.4,838.5 L722.8,839.1 L724.2,839.6 L725.6,840.2 L727.0,840.7 L728.4,841.2 L729.8,841.8 L731.2,842.3 L732.6,842.8 L734.0,843.3 L735.4,843.8 L736.8,844.3 L738.2,844.8 L739.6,845.3 L741.0,845.8 L742.4,846.2 L743.8,846.7 L745.2,847.2 L746.6,847.7 L748.0,848.1 L749.4,848.6 L750.8,849.0 L752.2,849.5 L753.6,849.9 L755.0,850.4 L756.4,850.8 L757.8,851.3 L759.2,851.7 L760.6,852.1 L762.0,852.6 L763.4,853.0 L764.8,853.4 L766.2,853.9 L767.7,854.3 L769.1,854.7 L770.5,855.1 L771.9,855.6 L773.3,856.0 L774.7,856.4 L776.1,856.8 L777.5,857.3 L779.0,857.7 L780.4,858.1 L781.8,858.6 L783.2,859.0 L784.6,859.4 L786.0,859.8 L787.5,860.3 L788.9,860.7 L790.3,861.2 L791.7,861.6 L793.1,862.0 L794.6,862.5 L796.0,862.9 L797.4,863.4 L798.8,863.9 L800.3,864.3 L801.7,864.8 L803.1,865.3 L804.5,865.7 L806.0,866.2 L807.4,866.7 L808.8,867.2 L810.3,867.7 L811.7,868.2 L813.1,868.7 L814.6,869.2 L816.0,869.7 L817.4,870.2 L818.9,870.7 L820.3,871.2 L821.8,871.7 L823.2,872.2 L824.6,872.7 L826.1,873.3 L827.5,873.8 L829.0,874.3 L830.4,874.8 L831.8,875.3 L833.3,875.8 L834.7,876.3 L836.2,876.8 L837.6,877.3 L839.1,877.8 L840.5,878.3 L841.9,878.8 L843.4,879.3 L844.8,879.8 L846.3,880.2 L847.7,880.7 L849.2,881.1 L850.6,881.6 L852.1,882.0 L853.5,882.5 L855.0,882.9 L856.4,883.3 L857.9,883.7 L859.3,884.1 L860.8,884.5 L862.2,884.9 L863.7,885.3 L865.1,885.6 L866.6,886.0 L868.1,886.3 L869.5,886.6 L871.0,887.0 L872.4,887.3 L873.9,887.6 L875.3,887.9 L876.8,888.2 L878.2,888.5 L879.7,888.7 L881.1,889.0 L882.6,889.3 L884.1,889.6 L885.5,889.8 L887.0,890.1 L888.4,890.3 L889.9,890.6 L891.3,890.8 L892.8,891.1 L894.3,891.3 L895.7,891.6 L897.2,891.8 L898.6,892.1 L900.1,892.3 L901.5,892.6 L903.0,892.8 L904.5,893.1 L905.9,893.3 L907.4,893.6 L908.8,893.9 L910.3,894.1 L911.7,894.4 L913.2,894.7 L914.6,895.0 L916.1,895.3 L917.6,895.5 L919.0,895.9 L920.5,896.2 L921.9,896.5 L923.4,896.8 L924.8,897.1 L926.3,897.5 L927.7,897.8 L929.2,898.2 L930.6,898.5 L932.1,898.9 L933.5,899.2 L935.0,899.6 L936.5,900.0 L937.9,900.4 L939.3,900.8 L940.8,901.2 L942.2,901.6 L943.7,902.0 L945.1,902.4 L946.6,902.8 L948.0,903.2 L949.5,903.7 L950.9,904.1 L952.3,904.6 L953.8,905.0 L955.2,905.5 L956.7,905.9 L958.1,906.4 L959.5,906.9 L961.0,907.4 L962.4,907.8 L963.8,908.3 L965.3,908.8 L966.7,909.3 L968.1,909.8 L969.5,910.4 L971.0,910.9 L972.4,911.4 L973.8,911.9 L975.2,912.5 L976.6,913.0 L978.0,913.5 L979.4,914.1 L980.9,914.6 L982.3,915.2 L983.7,915.8 L985.1,916.3 L986.5,916.9 L987.9,917.5 L989.3,918.1 L990.7,918.7 L992.1,919.3 L993.4,919.9 L994.8,920.5 L996.2,921.1 L997.6,921.7 L999.0,922.3 L1000.4,922.9 L1001.7,923.6 L1003.1,924.2 L1004.5,924.8 L1005.8,925.5 L1007.2,926.1 L1008.6,926.8 L1009.9,927.4 L1011.3,928.1 L1012.6,928.7 L1014.0,929.4 L1015.3,930.1 L1016.7,930.7 L1018.0,931.4 L1019.4,932.1 L1020.7,932.8 L1022.0,933.5 L1023.4,934.2 L1024.7,934.9 L1026.0,935.6 L1027.3,936.3 L1028.6,937.0 L1030.0,937.7 L1031.3,938.4 L1032.6,939.2 L1033.9,939.9 L1035.2,940.6 L1036.5,941.3 L1037.8,942.1 L1039.1,942.8 L1040.4,943.5 L1041.7,944.3 L1042.9,945.0 L1044.2,945.8 L1045.5,946.5 L1046.8,947.3 L1048.1,948.0 L1049.4,948.8 L1050.7,949.5 L1051.9,950.3 L1053.2,951.0 L1054.5,951.8 L1055.8,952.5 L1057.1,953.3 L1058.3,954.0 L1059.6,954.8 L1060.9,955.5 L1062.2,956.3 L1063.5,957.0 L1064.8,957.7 L1066.1,958.5 L1067.3,959.2 L1068.6,960.0 L1069.9,960.7 L1071.2,961.5 L1072.5,962.2 L1073.8,962.9 L1075.1,963.7 L1076.4,964.4 L1077.7,965.1 L1079.0,965.8 L1080.3,966.6 L1081.6,967.3 L1082.9,968.0 L1084.2,968.7 L1085.5,969.4 L1086.9,970.1 L1088.2,970.8 L1089.5,971.5 L1090.9,972.2 L1092.2,972.9 L1093.5,973.6 L1094.9,974.2 L1096.2,974.9 L1097.6,975.6 L1098.9,976.2 L1100.3,976.9 L1101.7,977.5 L1103.0,978.2 L1104.4,978.8 L1105.8,979.5 L1107.2,980.1 L1108.6,980.7 L1110.0,981.3 L1111.4,981.9 L1112.8,982.5 L1114.0,983.0" stroke="#ffb8b8"/>
<path d="M188.0,359.7 L188.8,360.9 L189.7,362.2 L190.5,363.4 L191.3,364.6 L192.2,365.8 L193.0,367.1 L193.8,368.3 L194.6,369.5 L195.5,370.8 L196.3,372.0 L197.1,373.3 L198.0,374.5 L198.8,375.7 L199.6,377.0 L200.5,378.2 L201.3,379.5 L202.1,380.7 L203.0,382.0 L203.8,383.2 L204.6,384.5 L205.5,385.7 L206.3,386.9 L207.1,388.2 L208.0,389.4 L208.8,390.7 L209.6,391.9 L210.5,393.2 L211.3,394.4 L212.1,395.7 L213.0,396.9 L213.8,398.2 L214.7,399.4 L215.5,400.7 L216.3,401.9 L217.2,403.2 L218.0,404.4 L218.9,405.7 L219.7,406.9 L220.6,408.2 L221.4,409.4 L222.3,410.7 L223.1,411.9 L224.0,413.1 L224.9,414.4 L225.7,415.6 L226.6,416.9 L227.4,418.1 L228.3,419.3 L229.2,420.6 L230.0,421.8 L230.9,423.0 L231.8,424.3 L232.7,425.5 L233.5,426.7 L234.4,427.9 L235.3,429.2 L236.2,430.4 L237.1,431.6 L237.9,432.8 L238.8,434.0 L239.7,435.2 L240.6,436.5 L241.5,437.7 L242.4,438.9 L243.3,440.1 L244.2,441.3 L245.1,442.5 L246.1,443.7 L247.0,444.9 L247.9,446.1 L248.8,447.3 L249.7,448.4 L250.7,449.6 L251.6,450.8 L252.5,452.0 L253.5,453.1 L254.4,454.3 L255.3,455.5 L256.3,456.7 L257.2,457.8 L258.2,459.0 L259.1,460.1 L260.1,461.3 L261.1,462.4 L262.0,463.6 L263.0,464.7 L264.0,465.8 L264.9,467.0 L265.9,468.1 L266.9,469.2 L267.9,470.3 L268.9,471.4 L269.9,472.6 L270.9,473.7 L271.9,474.8 L272.9,475.9 L273.9,477.0 L274.9,478.0 L276.0,479.1 L277.0,480.2 L278.0,481.3 L279.1,482.3 L280.1,483.4 L281.1,484.5 L282.2,485.5 L283.2,486.6 L284.3,487.6 L285.4,488.7 L286.4,489.7 L287.5,490.7 L288.6,491.7 L289.7,492.8 L290.8,493.8 L291.8,494.8 L292.9,495.8 L294.0,496.8 L295.2,497.8 L296.3,498.7 L297.4,499.7 L298.5,500.7 L299.6,501.7 L300.8,502.6 L301.9,503.6 L303.1,504.5 L304.2,505.5 L305.4,506.4 L306.6,507.3 L307.7,508.3 L308.9,509.2 L310.1,510.1 L311.3,511.0 L312.5,511.9 L313.7,512.8 L314.9,513.7 L316.1,514.6 L317.4,515.5 L318.6,516.3 L319.8,517.2 L321.1,518.1 L322.3,518.9 L323.6,519.8 L324.9,520.6 L326.1,521.5 L327.4,522.3 L328.7,523.1 L330.0,524.0 L331.3,524.8 L332.6,525.6 L334.0,526.4 L335.3,527.2 L336.6,527.9 L338.0,528.7 L339.3,529.4 L340.7,530.1 L342.1,530.8 L343.4,531.5 L344.8,532.1 L346.2,532.6 L347.6,533.2 L349.1,533.7 L350.5,534.1 L351.9,534.5 L353.4,534.8 L354.8,535.1 L356.3,535.3 L357.7,535.5 L359.2,535.6 L360.7,535.6 L362.2,535.6 L363.6,535.6 L365.1,535.4 L366.6,535.3 L368.0,535.0 L369.5,534.7 L370.9,534.4 L372.3,534.0 L373.8,533.5 L375.1,533.0 L376.5,532.5 L377.9,531.9 L379.2,531.2 L380.5,530.5 L381.8,529.7 L383.0,528.9 L384.3,528.0 L385.5,527.1 L386.6,526.2 L387.7,525.2 L388.8,524.1 L389.9,523.0 L390.9,521.9 L391.9,520.7 L392.9,519.6 L393.9,518.3 L394.8,517.1 L395.7,515.8 L396.5,514.5 L397.4,513.2 L398.2,511.8 L399.0,510.4 L399.7,509.1 L400.5,507.7 L401.2,506.2 L401.9,504.8 L402.5,503.4 L403.2,502.0 L403.8,500.5 L404.4,499.1 L404.9,497.7 L405.5,496.2 L406.0,494.8 L406.5,493.4 L407.0,492.0 L407.5,490.5 L407.9,489.1 L408.4,487.7 L408.8,486.3 L409.2,484.9 L409.7,483.5 L410.1,482.1 L410.5,480.7 L410.9,479.3 L411.3,477.9 L411.8,476.6 L412.2,475.2 L412.6,473.8 L413.1,472.4 L413.5,471.0 L414.0,469.6 L414.4,468.2 L414.9,466.9 L415.4,465.5 L416.0,464.1 L416.5,462.7 L417.0,461.3 L417.6,459.9 L418.2,458.5 L418.7,457.1 L419.3,455.8 L419.9,454.4 L420.5,453.0 L421.1,451.6 L421.7,450.2 L422.2,448.8 L422.8,447.4 L423.4,445.9 L423.9,444.5 L424.5,443.1 L425.0,441.7 L425.6,440.3 L426.1,438.8 L426.6,437.4 L427.1,436.0 L427.6,434.6 L428.1,433.1 L428.5,431.7 L429.0,430.2 L429.5,428.8 L429.9,427.3 L430.4,425.9 L430.8,424.4 L431.2,423.0 L431.7,421.5 L432.1,420.1 L432.5,418.6 L432.9,417.2 L433.3,415.7 L433.7,414.3 L434.1,412.8 L434.5,411.3 L434.9,409.9 L435.2,408.4 L435.6,407.0 L436.0,405.5 L436.3,404.0 L436.7,402.6 L437.1,401.1 L437.4,399.7 L437.8,398.2 L438.2,396.8 L438.5,395.3 L438.9,393.9 L439.2,392.4 L439.6,391.0 L439.9,389.5 L440.3,388.1 L440.6,386.6 L441.0,385.2 L441.4,383.7 L441.7,382.3 L442.1,380.9 L442.4,379.4 L442.8,378.0 L443.2,376.6 L443.5,375.2 L443.9,373.8 L444.3,372.3 L444.6,370.9 L445.0,369.5 L445.4,368.1 L445.8,366.7 L446.2,365.3 L446.6,363.9 L447.0,362.5 L447.4,361.0 L447.8,359.6 L448.2,358.2 L448.7,356.8 L449.1,355.4 L449.5,354.0 L450.0,352.6 L450.4,351.2 L450.9,349.8 L451.4,348.4 L451.8,347.0 L452.3,345.6 L452.8,344.2 L453.3,342.8 L453.8,341.4 L454.4,340.0 L454.9,338.5 L455.4,337.1 L456.0,335.7 L456.6,334.3 L457.1,332.9 L457.7,331.5 L458.3,330.0 L458.9,328.6 L459.5,327.2 L460.2,325.8 L460.8,324.3 L461.5,322.9 L462.2,321.5 L462.8,320.0 L463.5,318.6 L464.3,317.1 L465.0,315.7 L465.7,314.3 L466.5,312.9 L467.3,311.5 L468.1,310.1 L469.0,308.8 L469.9,307.5 L470.8,306.2 L471.7,305.0 L472.7,303.8 L473.7,302.7 L474.7,301.7 L475.8,300.9 L476.9,300.1 L478.1,299.5 L479.3,299.0 L480.6,298.8 L481.9,298.7 L483.2,298.8 L484.6,299.1 L485.9,299.6 L487.3,300.2 L488.6,301.0 L489.8,301.8 L491.0,302.7 L492.1,303.8 L493.2,304.9 L494.2,306.1 L495.2,307.3 L496.0,308.6 L496.8,310.0 L497.6,311.3 L498.3,312.8 L498.9,314.2 L499.5,315.7 L500.0,317.2 L500.6,318.7 L501.1,320.2 L501.6,321.7 L502.1,323.2 L502.6,324.7 L503.1,326.2 L503.6,327.7 L504.1,329.1 L504.6,330.6 L505.1,332.1 L505.6,333.5 L506.1,335.0 L506.5,336.5 L507.0,337.9 L507.5,339.4 L508.0,340.8 L508.5,342.3 L508.9,343.7 L509.4,345.2 L509.9,346.6 L510.4,348.0 L510.8,349.5 L511.3,350.9 L511.8,352.3 L512.2,353.8 L512.7,355.2 L513.1,356.6 L513.6,358.1 L514.0,359.5 L514.5,360.9 L514.9,362.3 L515.4,363.7 L515.8,365.2 L516.3,366.6 L516.7,368.0 L517.2,369.4 L517.6,370.8 L518.0,372.2 L518.5,373.6 L518.9,375.1 L519.3,376.5 L519.8,377.9 L520.2,379.3 L520.6,380.7 L521.1,382.1 L521.5,383.5 L521.9,384.9 L522.3,386.4 L522.8,387.8 L523.2,389.2 L523.6,390.6 L524.0,392.0 L524.4,393.4 L524.9,394.9 L525.3,396.3 L525.7,397.7 L526.1,399.1 L526.5,400.5 L526.9,402.0 L527.3,403.4 L527.8,404.8 L528.2,406.2 L528.6,407.7 L529.0,409.1 L529.4,410.5 L529.8,412.0 L530.2,413.4 L530.6,414.8 L531.0,416.3 L531.4,417.7 L531.8,419.1 L532.2,420.6 L532.6,422.0 L533.0,423.4 L533.4,424.9 L533.8,426.3 L534.2,427.7 L534.6,429.2 L535.0,430.6 L535.4,432.0 L535.8,433.5 L536.2,434.9 L536.6,436.4 L537.0,437.8 L537.4,439.2 L537.8,440.7 L538.2,442.1 L538.6,443.6 L539.0,445.0 L539.4,446.5 L539.8,447.9 L540.2,449.3 L540.6,450.8 L541.0,452.2 L541.4,453.7 L541.8,455.1 L542.2,456.6 L542.6,458.0 L543.0,459.5 L543.4,460.9 L543.8,462.4 L544.2,463.8 L544.6,465.3 L545.0,466.7 L545.4,468.1 L545.8,469.6 L546.3,471.0 L546.7,472.5 L547.1,473.9 L547.5,475.4 L547.9,476.8 L548.3,478.3 L548.7,479.7 L549.1,481.2 L549.5,482.6 L549.9,484.1 L550.3,485.5 L550.7,487.0 L551.1,488.4 L551.6,489.9 L552.0,491.3 L552.4,492.8 L552.8,494.2 L553.2,495.6 L553.6,497.1 L554.0,498.5 L554.5,500.0 L554.9,501.4 L555.3,502.9 L555.7,504.3 L556.1,505.8 L556.6,507.2 L557.0,508.7 L557.4,510.1 L557.9,511.5 L558.3,513.0 L558.7,514.4 L559.1,515.9 L559.6,517.3 L560.0,518.8 L560.5,520.2 L560.9,521.6 L561.3,523.1 L561.8,524.5 L562.2,526.0 L562.7,527.4 L563.1,528.8 L563.6,530.3 L564.0,531.7 L564.5,533.2 L564.9,534.6 L565.4,536.0 L565.8,537.5 L566.3,538.9 L566.7,540.3 L567.2,541.8 L567.7,543.2 L568.1,544.6 L568.6,546.1 L569.1,547.5 L569.5,548.9 L570.0,550.3 L570.5,551.8 L571.0,553.2 L571.4,554.6 L571.9,556.0 L572.4,557.5 L572.9,558.9 L573.4,560.3 L573.9,561.7 L574.4,563.2 L574.9,564.6 L575.4,566.0 L575.9,567.4 L576.4,568.8 L576.9,570.2 L577.4,571.7 L577.9,573.1 L578.4,574.5 L578.9,575.9 L579.4,577.3 L580.0,578.7 L580.5,580.1 L581.0,581.5 L581.5,582.9 L582.1,584.3 L582.6,585.7 L583.1,587.1 L583.7,588.5 L584.2,589.9 L584.8,591.3 L585.3,592.7 L585.9,594.1 L586.4,595.5 L587.0,596.9 L587.6,598.3 L588.1,599.7 L588.7,601.1 L589.3,602.5 L589.8,603.9 L590.4,605.3 L591.0,606.6 L591.6,608.0 L592.2,609.4 L592.7,610.8 L593.3,612.2 L593.9,613.5 L594.5,614.9 L595.1,616.3 L595.7,617.6 L596.3,619.0 L597.0,620.4 L597.6,621.8 L598.2,623.1 L598.8,624.5 L599.5,625.8 L600.1,627.2 L600.7,628.6 L601.4,629.9 L602.0,631.3 L602.6,632.6 L603.3,634.0 L603.9,635.3 L604.6,636.7 L605.3,638.0 L605.9,639.4 L606.6,640.7 L607.3,642.0 L607.9,643.4 L608.6,644.7 L609.3,646.0 L610.0,647.4 L610.7,648.7 L611.4,650.0 L612.1,651.4 L612.8,652.7 L613.5,654.0 L614.2,655.3 L614.9,656.6 L615.6,657.9 L616.4,659.3 L617.1,660.6 L617.8,661.9 L618.5,663.2 L619.3,664.5 L620.0,665.8 L620.8,667.1 L621.5,668.4 L622.2,669.7 L623.0,670.9 L623.7,672.2 L624.5,673.5 L625.3,674.8 L626.0,676.1 L626.8,677.3 L627.6,678.6 L628.3,679.9 L629.1,681.1 L629.9,682.4 L630.7,683.6 L631.5,684.9 L632.2,686.1 L633.0,687.4 L633.8,688.6 L634.6,689.9 L635.5,691.1 L636.3,692.3 L637.1,693.6 L637.9,694.8 L638.8,696.0 L639.6,697.2 L640.5,698.4 L641.3,699.6 L642.2,700.9 L643.0,702.1 L643.9,703.3 L644.8,704.4 L645.7,705.6 L646.6,706.8 L647.5,708.0 L648.4,709.2 L649.4,710.3 L650.3,711.5 L651.2,712.7 L652.2,713.8 L653.1,715.0 L654.1,716.1 L655.1,717.3 L656.1,718.4 L657.1,719.6 L658.1,720.7 L659.1,721.8 L660.1,722.9 L661.1,724.1 L662.1,725.2 L663.2,726.3 L664.2,727.4 L665.3,728.5 L666.3,729.6 L667.4,730.7 L668.5,731.7 L669.5,732.8 L670.6,733.9 L671.7,735.0 L672.8,736.0 L673.9,737.1 L675.0,738.1 L676.1,739.2 L677.2,740.2 L678.3,741.2 L679.5,742.3 L680.6,743.3 L681.7,744.3 L682.9,745.3 L684.0,746.3 L685.2,747.3 L686.3,748.3 L687.5,749.3 L688.6,750.3 L689.8,751.3 L690.9,752.2 L692.1,753.2 L693.3,754.2 L694.5,755.1 L695.6,756.1 L696.8,757.0 L698.0,757.9 L699.2,758.9 L700.4,759.8 L701.6,760.7 L702.8,761.6 L703.9,762.5 L705.1,763.4 L706.3,764.3 L707.5,765.2 L708.8,766.0 L710.0,766.9 L711.2,767.8 L712.4,768.7 L713.6,769.5 L714.8,770.4 L716.0,771.2 L717.2,772.1 L718.5,772.9 L719.7,773.7 L720.9,774.6 L722.2,775.4 L723.4,776.2 L724.6,777.0 L725.9,777.8 L727.1,778.6 L728.3,779.4 L729.6,780.2 L730.8,781.0 L732.1,781.8 L733.3,782.6 L734.6,783.4 L735.8,784.2 L737.1,784.9 L738.4,785.7 L739.6,786.5 L740.9,787.2 L742.1,788.0 L743.4,788.8 L744.7,789.5 L746.0,790.3 L747.2,791.0 L748.5,791.8 L749.8,792.5 L751.1,793.3 L752.4,794.0 L753.6,794.7 L754.9,795.5 L756.2,796.2 L757.5,796.9 L758.8,797.7 L760.1,798.4 L761.4,799.1 L762.7,799.8 L764.0,800.6 L765.3,801.3 L766.6,802.0 L767.9,802.7 L769.2,803.4 L770.5,804.2 L771.9,804.9 L773.2,805.6 L774.5,806.3 L775.8,807.0 L777.1,807.7 L778.5,808.4 L779.8,809.1 L781.1,809.8 L782.5,810.5 L783.8,811.2 L785.1,811.9 L786.5,812.6 L787.8,813.3 L789.2,814.0 L790.5,814.7 L791.8,815.4 L793.2,816.1 L794.5,816.8 L795.9,817.4 L797.2,818.1 L798.6,818.8 L800.0,819.4 L801.3,820.1 L802.7,820.8 L804.0,821.4 L805.4,822.1 L806.8,822.8 L808.1,823.4 L809.5,824.0 L810.9,824.7 L812.3,825.3 L813.6,826.0 L815.0,826.6 L816.4,827.2 L817.8,827.8 L819.2,828.5 L820.5,829.1 L821.9,829.7 L823.3,830.3 L824.7,830.9 L826.1,831.5 L827.5,832.1 L828.9,832.7 L830.3,833.2 L831.7,833.8 L833.1,834.4 L834.5,835.0 L835.9,835.5 L837.3,836.1 L838.7,836.6 L840.1,837.2 L841.5,837.7 L842.9,838.2 L844.4,838.8 L845.8,839.3 L847.2,839.8 L848.6,840.3 L850.0,840.8 L851.5,841.3 L852.9,841.8 L854.3,842.3 L855.7,842.7 L857.2,843.2 L858.6,843.7 L860.0,844.1 L861.5,844.6 L862.9,845.0 L864.4,845.4 L865.8,845.9 L867.2,846.3 L868.7,846.7 L870.1,847.1 L871.6,847.5 L873.0,847.9 L874.5,848.3 L875.9,848.7 L877.4,849.1 L878.8,849.4 L880.3,849.8 L881.7,850.1 L883.2,850.5 L884.6,850.9 L886.1,851.2 L887.6,851.5 L889.0,851.9 L890.5,852.2 L891.9,852.5 L893.4,852.9 L894.9,853.2 L896.3,853.5 L897.8,853.8 L899.3,854.1 L900.7,854.4 L902.2,854.7 L903.7,855.0 L905.1,855.3 L906.6,855.6 L908.1,855.9 L909.5,856.2 L911.0,856.5 L912.5,856.7 L913.9,857.0 L915.4,857.3 L916.9,857.6 L918.3,857.8 L919.8,858.1 L921.3,858.4 L922.7,858.7 L924.2,858.9 L925.7,859.2 L927.2,859.5 L928.6,859.7 L930.1,860.0 L931.6,860.3 L933.0,860.5 L934.5,860.8 L936.0,861.1 L937.4,861.3 L938.9,861.6 L940.4,861.9 L941.8,862.2 L943.3,862.4 L944.8,862.7 L946.2,863.0 L947.7,863.2 L949.2,863.5 L950.6,863.8 L952.1,864.1 L953.5,864.4 L955.0,864.7 L956.5,864.9 L957.9,865.2 L959.4,865.5 L960.8,865.8 L962.3,866.1 L963.7,866.5 L965.2,866.8 L966.6,867.1 L968.1,867.4 L969.5,867.8 L971.0,868.1 L972.4,868.4 L973.9,868.8 L975.3,869.2 L976.7,869.5 L978.2,869.9 L979.6,870.3 L981.1,870.7 L982.5,871.1 L983.9,871.5 L985.4,871.9 L986.8,872.3 L988.2,872.8 L989.6,873.2 L991.1,873.7 L992.5,874.2 L993.9,874.6 L995.3,875.1 L996.7,875.6 L998.1,876.2 L999.6,876.7 L1001.0,877.2 L1002.4,877.8 L1003.8,878.3 L1005.2,878.9 L1006.6,879.5 L1008.0,880.1 L1009.4,880.7 L1010.8,881.3 L1012.1,882.0 L1013.5,882.6 L1014.9,883.3 L1016.3,883.9 L1017.7,884.6 L1019.0,885.3 L1020.4,885.9 L1021.8,886.6 L1023.1,887.3 L1024.5,888.0 L1025.8,888.8 L1027.2,889.5 L1028.5,890.2 L1029.9,891.0 L1031.2,891.7 L1032.5,892.5 L1033.9,893.2 L1035.2,894.0 L1036.5,894.7 L1037.8,895.5 L1039.1,896.3 L1040.4,897.1 L1041.7,897.9 L1043.0,898.7 L1044.3,899.5 L1045.6,900.3 L1046.9,901.1 L1048.1,901.9 L1049.4,902.7 L1050.7,903.5 L1051.9,904.3 L1053.2,905.1 L1054.4,906.0 L1055.6,906.8 L1056.9,907.6 L1058.1,908.4 L1059.3,909.2 L1060.5,910.1 L1061.8,910.9 L1063.0,911.7 L1064.2,912.6 L1065.4,913.4 L1066.6,914.2 L1067.8,915.0 L1069.0,915.9 L1070.2,916.7 L1071.4,917.5 L1072.6,918.3 L1073.8,919.1 L1075.0,920.0 L1076.2,920.8 L1077.5,921.6 L1078.7,922.4 L1079.9,923.2 L1081.1,924.0 L1082.3,924.8 L1083.6,925.6 L1084.8,926.4 L1086.1,927.2 L1087.3,927.9 L1088.6,928.7 L1089.8,929.5 L1091.1,930.3 L1092.4,931.0 L1093.7,931.8 L1095.0,932.5 L1096.3,933.2 L1097.6,934.0 L1098.9,934.7 L1100.2,935.4 L1101.6,936.1 L1102.9,936.8 L1104.3,937.5 L1105.7,938.2 L1107.1,938.9 L1108.5,939.6 L1109.9,940.2 L1111.4,940.9 L1112.8,941.5 L1114.0,942.0" stroke="#ff6b6b"/>
<path d="M188.0,276.6 L188.8,277.9 L189.6,279.2 L190.4,280.5 L191.2,281.8 L192.0,283.1 L192.8,284.4 L193.6,285.7 L194.4,287.0 L195.2,288.3 L196.0,289.6 L196.8,290.9 L197.7,292.2 L198.5,293.5 L199.3,294.7 L200.1,296.0 L200.9,297.3 L201.7,298.6 L202.5,299.9 L203.3,301.1 L204.2,302.4 L205.0,303.7 L205.8,304.9 L206.6,306.2 L207.4,307.5 L208.2,308.7 L209.1,310.0 L209.9,311.2 L210.7,312.5 L211.5,313.8 L212.4,315.0 L213.2,316.3 L214.0,317.5 L214.9,318.8 L215.7,320.0 L216.5,321.2 L217.4,322.5 L218.2,323.7 L219.0,325.0 L219.9,326.2 L220.7,327.4 L221.5,328.7 L222.4,329.9 L223.2,331.1 L224.1,332.4 L224.9,333.6 L225.8,334.8 L226.6,336.0 L227.5,337.2 L228.3,338.5 L229.2,339.7 L230.0,340.9 L230.9,342.1 L231.8,343.3 L232.6,344.5 L233.5,345.7 L234.4,346.9 L235.2,348.1 L236.1,349.3 L237.0,350.5 L237.9,351.7 L238.7,352.9 L239.6,354.1 L240.5,355.3 L241.4,356.5 L242.3,357.7 L243.1,358.9 L244.0,360.1 L244.9,361.3 L245.8,362.4 L246.7,363.6 L247.6,364.8 L248.5,366.0 L249.4,367.1 L250.3,368.3 L251.2,369.5 L252.1,370.7 L253.0,371.8 L253.9,373.0 L254.9,374.2 L255.8,375.3 L256.7,376.5 L257.6,377.6 L258.6,378.8 L259.5,380.0 L260.4,381.1 L261.3,382.3 L262.3,383.4 L263.2,384.6 L264.2,385.7 L265.1,386.9 L266.0,388.0 L267.0,389.1 L267.9,390.3 L268.9,391.4 L269.9,392.6 L270.8,393.7 L271.8,394.8 L272.7,396.0 L273.7,397.1 L274.7,398.2 L275.7,399.4 L276.6,400.5 L277.6,401.6 L278.6,402.7 L279.6,403.9 L280.6,405.0 L281.6,406.1 L282.6,407.2 L283.6,408.3 L284.6,409.4 L285.6,410.5 L286.6,411.7 L287.6,412.8 L288.6,413.9 L289.6,415.0 L290.6,416.1 L291.7,417.2 L292.7,418.3 L293.7,419.4 L294.8,420.5 L295.8,421.6 L296.8,422.7 L297.9,423.8 L298.9,424.9 L300.0,425.9 L301.0,427.0 L302.1,428.1 L303.2,429.2 L304.2,430.3 L305.3,431.4 L306.4,432.4 L307.4,433.5 L308.5,434.6 L309.6,435.7 L310.7,436.8 L311.8,437.8 L312.9,438.9 L314.0,440.0 L315.1,441.0 L316.2,442.1 L317.3,443.2 L318.4,444.2 L319.5,445.3 L320.6,446.3 L321.8,447.4 L322.9,448.4 L324.0,449.5 L325.2,450.5 L326.3,451.5 L327.5,452.5 L328.7,453.5 L329.9,454.5 L331.0,455.5 L332.2,456.4 L333.4,457.3 L334.7,458.2 L335.9,459.1 L337.1,460.0 L338.4,460.8 L339.6,461.6 L340.9,462.4 L342.2,463.1 L343.5,463.8 L344.8,464.5 L346.1,465.1 L347.5,465.8 L348.8,466.3 L350.2,466.9 L351.6,467.4 L353.0,467.8 L354.4,468.3 L355.9,468.6 L357.3,469.0 L358.8,469.2 L360.3,469.5 L361.8,469.7 L363.3,469.8 L364.8,469.9 L366.2,469.9 L367.7,469.9 L369.2,469.8 L370.7,469.6 L372.1,469.4 L373.6,469.1 L375.0,468.7 L376.4,468.3 L377.8,467.8 L379.2,467.3 L380.5,466.7 L381.8,466.0 L383.1,465.2 L384.3,464.4 L385.5,463.5 L386.6,462.6 L387.8,461.6 L388.8,460.6 L389.8,459.5 L390.8,458.4 L391.7,457.3 L392.6,456.1 L393.5,455.0 L394.3,453.7 L395.1,452.5 L395.8,451.2 L396.6,449.9 L397.3,448.6 L398.0,447.2 L398.6,445.9 L399.3,444.5 L399.9,443.1 L400.5,441.7 L401.1,440.2 L401.7,438.8 L402.3,437.3 L402.9,435.9 L403.5,434.4 L404.1,432.9 L404.7,431.4 L405.3,430.0 L405.9,428.5 L406.4,427.0 L407.0,425.5 L407.5,424.0 L408.1,422.5 L408.6,421.1 L409.2,419.6 L409.7,418.2 L410.2,416.7 L410.7,415.3 L411.2,413.9 L411.7,412.4 L412.2,411.0 L412.7,409.6 L413.2,408.2 L413.7,406.8 L414.1,405.4 L414.6,404.0 L415.1,402.7 L415.5,401.3 L416.0,399.9 L416.4,398.5 L416.9,397.1 L417.3,395.7 L417.7,394.4 L418.2,393.0 L418.6,391.6 L419.0,390.2 L419.4,388.8 L419.8,387.4 L420.2,386.0 L420.6,384.6 L421.0,383.2 L421.4,381.8 L421.8,380.4 L422.2,379.0 L422.6,377.5 L423.0,376.1 L423.4,374.7 L423.7,373.2 L424.1,371.8 L424.5,370.4 L424.8,368.9 L425.2,367.4 L425.6,366.0 L425.9,364.5 L426.3,363.1 L426.6,361.6 L427.0,360.1 L427.4,358.7 L427.7,357.2 L428.0,355.7 L428.4,354.3 L428.7,352.8 L429.1,351.3 L429.4,349.8 L429.8,348.3 L430.1,346.9 L430.4,345.4 L430.8,343.9 L431.1,342.4 L431.4,340.9 L431.8,339.4 L432.1,337.9 L432.4,336.5 L432.7,335.0 L433.1,333.5 L433.4,332.0 L433.7,330.5 L434.0,329.0 L434.4,327.5 L434.7,326.1 L435.0,324.6 L435.3,323.1 L435.6,321.6 L436.0,320.1 L436.3,318.7 L436.6,317.2 L436.9,315.7 L437.3,314.2 L437.6,312.8 L437.9,311.3 L438.2,309.8 L438.5,308.4 L438.9,306.9 L439.2,305.4 L439.5,304.0 L439.8,302.5 L440.2,301.1 L440.5,299.6 L440.8,298.2 L441.1,296.7 L441.5,295.2 L441.8,293.8 L442.1,292.3 L442.5,290.9 L442.8,289.5 L443.1,288.0 L443.4,286.6 L443.8,285.1 L444.1,283.7 L444.4,282.2 L444.8,280.8 L445.1,279.3 L445.4,277.9 L445.8,276.5 L446.1,275.0 L446.4,273.6 L446.8,272.1 L447.1,270.7 L447.4,269.2 L447.8,267.8 L448.1,266.4 L448.4,264.9 L448.8,263.5 L449.1,262.0 L449.5,260.6 L449.8,259.1 L450.1,257.7 L450.5,256.3 L450.8,254.8 L451.2,253.4 L451.5,251.9 L451.9,250.5 L452.2,249.0 L452.6,247.6 L452.9,246.1 L453.3,244.7 L453.6,243.2 L454.0,241.8 L454.3,240.3 L454.7,238.9 L455.0,237.4 L455.4,235.9 L455.7,234.5 L456.1,233.0 L456.5,231.6 L456.8,230.1 L457.2,228.6 L457.5,227.2 L457.9,225.7 L458.3,224.2 L458.6,222.7 L459.0,221.3 L459.4,219.8 L459.7,218.3 L460.1,216.8 L460.5,215.3 L460.9,213.8 L461.2,212.4 L461.6,210.9 L462.0,209.4 L462.4,207.9 L462.8,206.4 L463.1,204.9 L463.5,203.4 L463.9,201.9 L464.3,200.4 L464.8,198.9 L465.2,197.4 L465.6,195.9 L466.0,194.4 L466.5,192.9 L466.9,191.4 L467.4,189.9 L467.8,188.5 L468.3,187.0 L468.8,185.5 L469.2,184.0 L469.7,182.5 L470.2,181.0 L470.7,179.6 L471.3,178.1 L471.8,176.6 L472.3,175.2 L472.9,173.7 L473.5,172.3 L474.1,170.8 L474.7,169.4 L475.3,168.0 L475.9,166.6 L476.6,165.2 L477.3,163.9 L478.1,162.7 L478.9,161.5 L479.7,160.3 L480.6,159.2 L481.6,158.2 L482.6,157.3 L483.7,156.5 L484.9,155.8 L486.1,155.1 L487.4,154.6 L488.8,154.2 L490.2,153.9 L491.6,153.8 L493.0,153.8 L494.5,153.9 L495.9,154.1 L497.2,154.5 L498.6,155.0 L499.9,155.6 L501.1,156.3 L502.3,157.1 L503.3,158.0 L504.3,158.9 L505.2,160.0 L506.0,161.1 L506.8,162.3 L507.4,163.6 L508.0,164.9 L508.6,166.3 L509.1,167.7 L509.6,169.1 L510.1,170.6 L510.6,172.2 L511.1,173.8 L511.6,175.3 L512.1,177.0 L512.6,178.6 L513.2,180.2 L513.7,181.8 L514.2,183.5 L514.7,185.1 L515.2,186.7 L515.7,188.3 L516.2,189.9 L516.7,191.4 L517.2,193.0 L517.7,194.5 L518.1,196.1 L518.6,197.6 L519.0,199.1 L519.5,200.6 L519.9,202.1 L520.4,203.6 L520.8,205.1 L521.3,206.6 L521.7,208.0 L522.1,209.5 L522.5,210.9 L523.0,212.4 L523.4,213.8 L523.8,215.3 L524.2,216.7 L524.6,218.1 L525.0,219.6 L525.4,221.0 L525.8,222.4 L526.2,223.8 L526.6,225.3 L527.0,226.7 L527.4,228.1 L527.8,229.5 L528.2,230.9 L528.5,232.3 L528.9,233.8 L529.3,235.2 L529.7,236.6 L530.1,238.0 L530.5,239.4 L530.9,240.9 L531.2,242.3 L531.6,243.7 L532.0,245.1 L532.4,246.6 L532.8,248.0 L533.1,249.4 L533.5,250.8 L533.9,252.2 L534.3,253.7 L534.6,255.1 L535.0,256.5 L535.4,258.0 L535.8,259.4 L536.1,260.8 L536.5,262.2 L536.9,263.7 L537.2,265.1 L537.6,266.5 L538.0,268.0 L538.4,269.4 L538.7,270.8 L539.1,272.3 L539.5,273.7 L539.8,275.1 L540.2,276.6 L540.6,278.0 L540.9,279.4 L541.3,280.9 L541.7,282.3 L542.1,283.7 L542.4,285.2 L542.8,286.6 L543.2,288.1 L543.5,289.5 L543.9,290.9 L544.3,292.4 L544.7,293.8 L545.0,295.3 L545.4,296.7 L545.8,298.1 L546.1,299.6 L546.5,301.0 L546.9,302.5 L547.3,303.9 L547.6,305.4 L548.0,306.8 L548.4,308.3 L548.8,309.7 L549.1,311.1 L549.5,312.6 L549.9,314.0 L550.3,315.5 L550.7,316.9 L551.0,318.4 L551.4,319.8 L551.8,321.3 L552.2,322.7 L552.6,324.2 L553.0,325.6 L553.4,327.1 L553.7,328.5 L554.1,330.0 L554.5,331.4 L554.9,332.9 L555.3,334.3 L555.7,335.8 L556.1,337.3 L556.5,338.7 L556.9,340.2 L557.3,341.6 L557.7,343.1 L558.1,344.5 L558.5,346.0 L558.9,347.4 L559.2,348.9 L559.6,350.4 L560.0,351.8 L560.4,353.3 L560.8,354.7 L561.2,356.2 L561.6,357.6 L562.0,359.1 L562.4,360.6 L562.7,362.0 L563.1,363.5 L563.5,364.9 L563.9,366.4 L564.2,367.8 L564.6,369.3 L565.0,370.8 L565.4,372.2 L565.7,373.7 L566.1,375.1 L566.4,376.6 L566.8,378.1 L567.1,379.5 L567.5,381.0 L567.8,382.4 L568.2,383.9 L568.5,385.4 L568.8,386.8 L569.2,388.3 L569.5,389.7 L569.9,391.2 L570.2,392.7 L570.5,394.1 L570.9,395.6 L571.2,397.0 L571.6,398.5 L571.9,399.9 L572.2,401.4 L572.6,402.9 L572.9,404.3 L573.3,405.8 L573.6,407.2 L574.0,408.7 L574.3,410.1 L574.7,411.6 L575.0,413.1 L575.4,414.5 L575.7,416.0 L576.1,417.4 L576.5,418.9 L576.8,420.3 L577.2,421.8 L577.6,423.2 L578.0,424.7 L578.3,426.1 L578.7,427.6 L579.1,429.0 L579.5,430.5 L579.9,432.0 L580.3,433.4 L580.7,434.9 L581.1,436.3 L581.5,437.8 L581.9,439.2 L582.3,440.6 L582.7,442.1 L583.1,443.5 L583.6,445.0 L584.0,446.4 L584.4,447.9 L584.8,449.3 L585.3,450.8 L585.7,452.2 L586.1,453.7 L586.6,455.1 L587.0,456.5 L587.5,458.0 L587.9,459.4 L588.4,460.9 L588.8,462.3 L589.3,463.7 L589.7,465.2 L590.2,466.6 L590.7,468.1 L591.1,469.5 L591.6,470.9 L592.1,472.4 L592.5,473.8 L593.0,475.2 L593.5,476.6 L594.0,478.1 L594.4,479.5 L594.9,480.9 L595.4,482.4 L595.9,483.8 L596.4,485.2 L596.9,486.6 L597.4,488.1 L597.9,489.5 L598.4,490.9 L598.9,492.3 L599.4,493.8 L599.9,495.2 L600.4,496.6 L600.9,498.0 L601.4,499.4 L601.9,500.8 L602.4,502.3 L602.9,503.7 L603.5,505.1 L604.0,506.5 L604.5,507.9 L605.0,509.3 L605.6,510.7 L606.1,512.1 L606.6,513.5 L607.2,514.9 L607.7,516.3 L608.2,517.7 L608.8,519.1 L609.3,520.5 L609.9,521.9 L610.4,523.3 L611.0,524.7 L611.5,526.1 L612.1,527.5 L612.6,528.9 L613.2,530.3 L613.7,531.7 L614.3,533.1 L614.9,534.5 L615.4,535.8 L616.0,537.2 L616.6,538.6 L617.2,540.0 L617.7,541.4 L618.3,542.7 L618.9,544.1 L619.5,545.5 L620.1,546.9 L620.7,548.2 L621.3,549.6 L621.9,551.0 L622.5,552.3 L623.1,553.7 L623.7,555.1 L624.3,556.4 L624.9,557.8 L625.5,559.2 L626.1,560.5 L626.7,561.9 L627.3,563.2 L628.0,564.6 L628.6,565.9 L629.2,567.3 L629.8,568.6 L630.5,570.0 L631.1,571.3 L631.8,572.7 L632.4,574.0 L633.0,575.3 L633.7,576.7 L634.3,578.0 L635.0,579.4 L635.6,580.7 L636.3,582.0 L637.0,583.3 L637.6,584.7 L638.3,586.0 L639.0,587.3 L639.6,588.6 L640.3,590.0 L641.0,591.3 L641.7,592.6 L642.4,593.9 L643.1,595.2 L643.8,596.5 L644.5,597.8 L645.2,599.2 L645.9,600.5 L646.6,601.8 L647.3,603.1 L648.0,604.4 L648.7,605.7 L649.4,606.9 L650.2,608.2 L650.9,609.5 L651.6,610.8 L652.4,612.1 L653.1,613.4 L653.9,614.7 L654.6,616.0 L655.4,617.2 L656.1,618.5 L656.9,619.8 L657.6,621.0 L658.4,622.3 L659.2,623.6 L660.0,624.9 L660.8,626.1 L661.5,627.4 L662.3,628.6 L663.1,629.9 L663.9,631.1 L664.7,632.4 L665.6,633.6 L666.4,634.9 L667.2,636.1 L668.0,637.4 L668.8,638.6 L669.7,639.8 L670.5,641.1 L671.4,642.3 L672.2,643.5 L673.1,644.8 L673.9,646.0 L674.8,647.2 L675.7,648.4 L676.6,649.7 L677.4,650.9 L678.3,652.1 L679.2,653.3 L680.1,654.5 L681.0,655.7 L681.9,656.9 L682.8,658.1 L683.8,659.3 L684.7,660.5 L685.6,661.7 L686.5,662.9 L687.5,664.1 L688.4,665.3 L689.4,666.4 L690.3,667.6 L691.3,668.8 L692.2,670.0 L693.2,671.1 L694.2,672.3 L695.2,673.4 L696.1,674.6 L697.1,675.8 L698.1,676.9 L699.1,678.1 L700.1,679.2 L701.1,680.3 L702.1,681.5 L703.1,682.6 L704.1,683.7 L705.1,684.9 L706.2,686.0 L707.2,687.1 L708.2,688.2 L709.2,689.3 L710.3,690.5 L711.3,691.6 L712.4,692.7 L713.4,693.8 L714.5,694.8 L715.5,695.9 L716.6,697.0 L717.6,698.1 L718.7,699.2 L719.7,700.3 L720.8,701.3 L721.9,702.4 L723.0,703.4 L724.0,704.5 L725.1,705.6 L726.2,706.6 L727.3,707.6 L728.4,708.7 L729.5,709.7 L730.6,710.7 L731.7,711.8 L732.8,712.8 L733.9,713.8 L735.0,714.8 L736.1,715.8 L737.2,716.8 L738.3,717.8 L739.4,718.8 L740.6,719.8 L741.7,720.8 L742.8,721.8 L743.9,722.8 L745.1,723.8 L746.2,724.7 L747.4,725.7 L748.5,726.7 L749.6,727.6 L750.8,728.6 L751.9,729.5 L753.1,730.5 L754.2,731.4 L755.4,732.4 L756.6,733.3 L757.7,734.3 L758.9,735.2 L760.1,736.1 L761.2,737.0 L762.4,737.9 L763.6,738.9 L764.8,739.8 L766.0,740.7 L767.2,741.6 L768.3,742.5 L769.5,743.4 L770.7,744.2 L771.9,745.1 L773.1,746.0 L774.3,746.9 L775.5,747.8 L776.8,748.6 L778.0,749.5 L779.2,750.4 L780.4,751.2 L781.6,752.1 L782.8,752.9 L784.1,753.8 L785.3,754.6 L786.5,755.4 L787.8,756.3 L789.0,757.1 L790.2,757.9 L791.5,758.8 L792.7,759.6 L794.0,760.4 L795.2,761.2 L796.5,762.0 L797.7,762.8 L799.0,763.6 L800.3,764.4 L801.5,765.2 L802.8,766.0 L804.1,766.8 L805.3,767.5 L806.6,768.3 L807.9,769.1 L809.2,769.9 L810.4,770.6 L811.7,771.4 L813.0,772.1 L814.3,772.9 L815.6,773.7 L816.9,774.4 L818.2,775.1 L819.5,775.9 L820.8,776.6 L822.1,777.3 L823.4,778.1 L824.7,778.8 L826.0,779.5 L827.3,780.2 L828.6,780.9 L830.0,781.7 L831.3,782.4 L832.6,783.1 L833.9,783.8 L835.2,784.5 L836.6,785.1 L837.9,785.8 L839.2,786.5 L840.6,787.2 L841.9,787.9 L843.2,788.5 L844.6,789.2 L845.9,789.9 L847.3,790.5 L848.6,791.2 L850.0,791.9 L851.3,792.5 L852.7,793.1 L854.0,793.8 L855.4,794.4 L856.7,795.1 L858.1,795.7 L859.5,796.3 L860.8,797.0 L862.2,797.6 L863.6,798.2 L864.9,798.8 L866.3,799.4 L867.7,800.0 L869.1,800.6 L870.4,801.2 L871.8,801.8 L873.2,802.4 L874.6,803.0 L876.0,803.6 L877.3,804.2 L878.7,804.7 L880.1,805.3 L881.5,805.9 L882.9,806.5 L884.3,807.0 L885.7,807.6 L887.1,808.1 L888.5,808.7 L889.9,809.2 L891.3,809.8 L892.7,810.3 L894.1,810.9 L895.5,811.4 L896.9,811.9 L898.3,812.5 L899.7,813.0 L901.1,813.5 L902.6,814.0 L904.0,814.5 L905.4,815.1 L906.8,815.6 L908.2,816.1 L909.6,816.6 L911.1,817.1 L912.5,817.6 L913.9,818.0 L915.3,818.5 L916.8,819.0 L918.2,819.5 L919.6,820.0 L921.0,820.4 L922.5,820.9 L923.9,821.4 L925.3,821.8 L926.8,822.3 L928.2,822.8 L929.6,823.2 L931.1,823.7 L932.5,824.1 L934.0,824.5 L935.4,825.0 L936.8,825.4 L938.3,825.9 L939.7,826.3 L941.2,826.7 L942.6,827.1 L944.1,827.5 L945.5,828.0 L946.9,828.4 L948.4,828.8 L949.8,829.2 L951.3,829.6 L952.7,830.0 L954.2,830.4 L955.6,830.8 L957.1,831.2 L958.5,831.6 L960.0,832.0 L961.4,832.4 L962.9,832.8 L964.3,833.2 L965.8,833.6 L967.2,834.0 L968.7,834.4 L970.1,834.8 L971.6,835.2 L973.0,835.6 L974.5,836.0 L975.9,836.4 L977.3,836.8 L978.8,837.2 L980.2,837.6 L981.7,838.0 L983.1,838.5 L984.5,838.9 L985.9,839.3 L987.4,839.8 L988.8,840.2 L990.2,840.6 L991.6,841.1 L993.1,841.6 L994.5,842.0 L995.9,842.5 L997.3,843.0 L998.7,843.5 L1000.1,844.0 L1001.5,844.5 L1002.9,845.0 L1004.3,845.5 L1005.7,846.0 L1007.1,846.5 L1008.4,847.1 L1009.8,847.6 L1011.2,848.2 L1012.6,848.8 L1013.9,849.3 L1015.3,849.9 L1016.7,850.5 L1018.0,851.2 L1019.4,851.8 L1020.7,852.4 L1022.0,853.1 L1023.4,853.7 L1024.7,854.4 L1026.0,855.1 L1027.3,855.8 L1028.7,856.5 L1030.0,857.2 L1031.3,857.9 L1032.6,858.7 L1033.9,859.4 L1035.2,860.2 L1036.4,861.0 L1037.7,861.8 L1039.0,862.6 L1040.3,863.4 L1041.6,864.2 L1042.8,865.0 L1044.1,865.8 L1045.3,866.7 L1046.6,867.5 L1047.9,868.4 L1049.1,869.2 L1050.4,870.1 L1051.6,870.9 L1052.9,871.8 L1054.1,872.7 L1055.4,873.6 L1056.6,874.4 L1057.8,875.3 L1059.1,876.2 L1060.3,877.1 L1061.6,878.0 L1062.8,878.9 L1064.0,879.8 L1065.3,880.7 L1066.5,881.6 L1067.7,882.5 L1069.0,883.4 L1070.2,884.2 L1071.5,885.1 L1072.7,886.0 L1073.9,886.9 L1075.2,887.8 L1076.4,888.7 L1077.7,889.5 L1078.9,890.4 L1080.1,891.3 L1081.4,892.1 L1082.6,893.0 L1083.9,893.8 L1085.1,894.7 L1086.4,895.5 L1087.7,896.4 L1088.9,897.2 L1090.2,898.0 L1091.4,898.8 L1092.7,899.6 L1094.0,900.4 L1095.3,901.2 L1096.5,901.9 L1097.8,902.7 L1099.1,903.4 L1100.4,904.2 L1101.7,904.9 L1103.0,905.6 L1104.3,906.3 L1105.6,907.0 L1106.9,907.7 L1108.3,908.3 L1109.6,909.0 L1110.9,909.6 L1112.3,910.2 L1113.6,910.8 L1114.0,911.0" stroke="#ff1a1a"/>
</g>
<g stroke="#000" fill="none">
<line x1="186.8" y1="32.6" x2="1116.5" y2="32.6" stroke-width="2.8"/>
<line x1="188.2" y1="31.2" x2="188.2" y2="1053.3" stroke-width="2.8"/>
<line x1="1114.5" y1="31.2" x2="1114.5" y2="1053.3" stroke-width="4"/>
<line x1="186.8" y1="1051.0" x2="1116.5" y2="1051.0" stroke-width="4.6"/>
<line x1="178.2" y1="978.5" x2="188.2" y2="978.5" stroke-width="3"/>
<line x1="167.7" y1="887.5" x2="188.2" y2="887.5" stroke-width="4"/>
<line x1="178.2" y1="796.5" x2="188.2" y2="796.5" stroke-width="3"/>
<line x1="167.7" y1="705.5" x2="188.2" y2="705.5" stroke-width="4"/>
<line x1="178.2" y1="614.5" x2="188.2" y2="614.5" stroke-width="3"/>
<line x1="167.7" y1="523.5" x2="188.2" y2="523.5" stroke-width="4"/>
<line x1="178.2" y1="432.6" x2="188.2" y2="432.6" stroke-width="3"/>
<line x1="167.7" y1="341.6" x2="188.2" y2="341.6" stroke-width="4"/>
<line x1="178.2" y1="250.6" x2="188.2" y2="250.6" stroke-width="3"/>
<line x1="167.7" y1="159.6" x2="188.2" y2="159.6" stroke-width="4"/>
<line x1="178.2" y1="68.6" x2="188.2" y2="68.6" stroke-width="3"/>
<line x1="225.0" y1="1051.0" x2="225.0" y2="1070.0" stroke-width="4.2"/>
<line x1="317.6" y1="1051.0" x2="317.6" y2="1061.0" stroke-width="3.4"/>
<line x1="410.2" y1="1051.0" x2="410.2" y2="1070.0" stroke-width="4.2"/>
<line x1="502.9" y1="1051.0" x2="502.9" y2="1061.0" stroke-width="3.4"/>
<line x1="595.5" y1="1051.0" x2="595.5" y2="1070.0" stroke-width="4.2"/>
<line x1="688.1" y1="1051.0" x2="688.1" y2="1061.0" stroke-width="3.4"/>
<line x1="780.8" y1="1051.0" x2="780.8" y2="1070.0" stroke-width="4.2"/>
<line x1="873.4" y1="1051.0" x2="873.4" y2="1061.0" stroke-width="3.4"/>
<line x1="966.0" y1="1051.0" x2="966.0" y2="1070.0" stroke-width="4.2"/>
<line x1="1058.6" y1="1051.0" x2="1058.6" y2="1061.0" stroke-width="3.4"/>
</g>
<g font-size="48" fill="#000">
<text x="153" y="901.0" text-anchor="end">0.5</text>
<text x="153" y="719.0" text-anchor="end">1.0</text>
<text x="153" y="537.0" text-anchor="end">1.5</text>
<text x="153" y="355.1" text-anchor="end">2.0</text>
<text x="153" y="173.1" text-anchor="end">2.5</text>
<g transform="translate(0,1104.6) scale(1,1.055) translate(0,-1104.6)">
<text x="225.0" y="1121.6" text-anchor="middle">400</text>
<text x="410.2" y="1121.6" text-anchor="middle">500</text>
<text x="595.5" y="1121.6" text-anchor="middle">600</text>
<text x="780.8" y="1121.6" text-anchor="middle">700</text>
<text x="966.0" y="1121.6" text-anchor="middle">800</text>
</g>
</g>
<text x="409" y="1195.5" font-size="58">Wavelength (nm)</text>
<text transform="translate(58.5,745) rotate(-90)" font-size="58.6">Intensity (a.u.)</text>
<text x="11.5" y="111.3" font-size="100" transform="translate(0,111.3) scale(1,1.02) translate(0,-111.3)">A</text>
<line x1="754" y1="102.0" x2="836" y2="102.0" stroke="#0000ff" stroke-width="4.5"/>
<text x="849.5" y="117.0" font-size="48">Au-MPN 1</text>
<line x1="754" y1="160.8" x2="836" y2="160.8" stroke="#6b6bff" stroke-width="4.5"/>
<text x="849.5" y="175.8" font-size="48">Au-MPN 2</text>
<line x1="754" y1="219.6" x2="836" y2="219.6" stroke="#ffb8b8" stroke-width="4.5"/>
<text x="849.5" y="234.6" font-size="48">Au-MPN 3</text>
<line x1="754" y1="278.4" x2="836" y2="278.4" stroke="#ff6b6b" stroke-width="4.5"/>
<text x="849.5" y="293.4" font-size="48">Au-MPN 4</text>
<line x1="754" y1="337.2" x2="836" y2="337.2" stroke="#ff1a1a" stroke-width="4.5"/>
<text x="849.5" y="352.2" font-size="48">Au-MPN 5</text>
<text x="547" y="118.4" font-size="48">545 nm</text>
<text x="277.5" y="873.6" font-size="48">530 nm</text>
<line x1="540.5" y1="111.0" x2="519.1" y2="130.2" stroke="#858585" stroke-width="1.5"/><path d="M503.1,144.6 L517.4,125.3 L523.8,132.5 Z" fill="#858585"/>
<line x1="428.0" y1="825.5" x2="442.2" y2="807.3" stroke="#858585" stroke-width="1.5"/><path d="M455.4,790.4 L444.7,811.9 L437.2,806.0 Z" fill="#858585"/>
<g clip-path="url(#cb)" fill="none" stroke-width="4.4" stroke-linejoin="round">
<path d="M1422.30,1026.30 L1423.30,1026.30 L1424.30,1026.30 L1425.30,1026.30 L1426.30,1026.30 L1427.30,1026.30 L1428.30,1026.30 L1429.30,1026.30 L1430.30,1026.30 L1431.30,1026.30 L1432.30,1026.30 L1433.30,1026.30 L1434.30,1026.30 L1435.30,1026.30 L1436.30,1026.30 L1437.30,1026.30 L1438.30,1026.30 L1439.30,1026.30 L1440.30,1026.30 L1441.30,1026.30 L1442.30,1026.30 L1443.30,1026.30 L1444.30,1026.30 L1445.30,1026.30 L1446.30,1026.30 L1447.30,1026.30 L1448.30,1026.30 L1449.30,1026.30 L1450.30,1026.30 L1451.30,1026.30 L1452.30,1026.30 L1453.30,1026.30 L1454.30,1026.30 L1455.30,1026.30 L1456.30,1026.30 L1457.30,1026.30 L1458.30,1026.30 L1459.30,1026.30 L1460.30,1026.30 L1461.30,1026.30 L1462.30,1026.30 L1463.30,1026.30 L1464.30,1026.30 L1465.30,1026.30 L1466.30,1026.30 L1467.30,1026.30 L1468.30,1026.30 L1469.30,1026.30 L1470.30,1026.30 L1471.30,1026.30 L1472.30,1026.30 L1473.30,1026.30 L1474.30,1026.30 L1475.30,1026.30 L1476.30,1026.30 L1477.30,1026.30 L1478.30,1026.30 L1479.30,1026.30 L1480.30,1026.30 L1481.30,1026.30 L1482.30,1026.30 L1483.30,1026.30 L1484.30,1026.30 L1485.30,1026.30 L1486.30,1026.30 L1487.30,1026.30 L1488.30,1026.30 L1489.30,1026.30 L1490.30,1026.30 L1491.30,1026.30 L1492.30,1026.30 L1493.30,1026.30 L1494.30,1026.30 L1495.30,1026.30 L1496.30,1026.30 L1497.30,1026.30 L1498.30,1026.30 L1499.30,1026.30 L1500.30,1026.30 L1501.30,1026.30 L1502.30,1026.30 L1503.30,1026.30 L1504.30,1026.30 L1505.30,1026.30 L1506.30,1026.30 L1507.30,1026.30 L1508.30,1026.30 L1509.30,1026.30 L1510.30,1026.30 L1511.30,1026.30 L1512.30,1026.30 L1513.30,1026.30 L1514.30,1026.30 L1515.30,1026.30 L1516.30,1026.30 L1517.30,1026.30 L1518.30,1026.30 L1519.30,1026.30 L1520.30,1026.30 L1521.30,1026.30 L1522.30,1026.30 L1523.30,1026.30 L1524.30,1026.30 L1525.30,1026.30 L1526.30,1026.30 L1527.30,1026.30 L1528.30,1026.30 L1529.30,1026.30 L1530.30,1026.30 L1531.30,1026.30 L1532.30,1026.30 L1533.30,1026.30 L1534.30,1026.30 L1535.30,1026.30 L1536.30,1026.30 L1537.30,1026.30 L1538.30,1026.30 L1539.30,1026.30 L1540.30,1026.30 L1541.30,1026.30 L1542.30,1026.30 L1543.30,1026.30 L1544.30,1026.30 L1545.30,1026.30 L1546.30,1026.30 L1547.30,1026.30 L1548.30,1026.30 L1549.30,1026.30 L1550.30,1026.30 L1551.30,1026.30 L1552.30,1026.30 L1553.30,1026.30 L1554.30,1026.30 L1555.30,1026.30 L1556.30,1026.30 L1557.30,1026.30 L1558.30,1026.30 L1559.30,1026.30 L1560.30,1026.30 L1561.30,1026.30 L1562.30,1026.30 L1563.30,1026.30 L1564.30,1026.30 L1565.30,1026.30 L1566.30,1026.30 L1567.30,1026.30 L1568.30,1026.30 L1569.30,1026.30 L1570.30,1026.30 L1571.30,1026.30 L1572.30,1026.30 L1573.30,1026.30 L1574.30,1026.30 L1575.30,1026.30 L1576.30,1026.30 L1577.30,1026.30 L1578.30,1026.30 L1579.30,1026.30 L1580.30,1026.30 L1581.30,1026.30 L1582.30,1026.30 L1583.30,1026.30 L1584.30,1026.30 L1585.30,1026.30 L1586.30,1026.30 L1587.30,1026.30 L1588.30,1026.30 L1589.30,1026.30 L1590.30,1026.30 L1591.30,1026.30 L1592.30,1026.30 L1593.30,1026.30 L1594.30,1026.30 L1595.30,1026.30 L1596.30,1026.30 L1597.30,1026.30 L1598.30,1026.30 L1599.30,1026.30 L1600.30,1026.30 L1601.30,1026.30 L1602.30,1026.30 L1603.30,1026.30 L1604.30,1026.30 L1605.30,1026.30 L1606.30,1026.30 L1607.30,1026.30 L1608.30,1026.30 L1609.30,1026.30 L1610.30,1026.30 L1611.30,1026.30 L1612.30,1026.30 L1613.30,1026.30 L1614.30,1026.30 L1615.30,1026.30 L1616.30,1026.30 L1617.30,1026.30 L1618.30,1026.30 L1619.30,1026.30 L1620.30,1026.30 L1621.30,1026.34 L1622.30,1026.75 L1623.30,1027.16 L1624.30,1027.57 L1625.30,1027.90 L1626.30,1027.90 L1627.30,1027.91 L1628.30,1027.91 L1629.30,1027.91 L1630.30,1027.92 L1631.30,1027.92 L1632.30,1027.92 L1633.30,1027.92 L1634.30,1027.93 L1635.30,1027.93 L1636.30,1027.93 L1637.30,1027.94 L1638.30,1027.94 L1639.30,1027.94 L1640.30,1027.95 L1641.30,1027.95 L1642.30,1027.95 L1643.30,1027.96 L1644.30,1027.96 L1645.30,1027.96 L1646.30,1027.96 L1647.30,1027.97 L1648.30,1027.97 L1649.30,1027.97 L1650.30,1027.98 L1651.30,1027.98 L1652.30,1027.98 L1653.30,1027.99 L1654.30,1027.99 L1655.30,1027.99 L1656.30,1027.99 L1657.30,1028.00 L1658.30,1028.00 L1659.30,1028.00 L1660.30,1028.01 L1661.30,1028.01 L1662.30,1028.01 L1663.30,1028.02 L1664.30,1028.02 L1665.30,1028.02 L1666.30,1028.02 L1667.30,1028.03 L1668.30,1028.03 L1669.30,1028.03 L1670.30,1028.04 L1671.30,1028.04 L1672.30,1028.04 L1673.30,1028.05 L1674.30,1028.05 L1675.30,1028.05 L1676.30,1028.06 L1677.30,1028.06 L1678.30,1028.06 L1679.30,1028.06 L1680.30,1028.07 L1681.30,1028.07 L1682.30,1028.07 L1683.30,1028.08 L1684.30,1028.08 L1685.30,1028.08 L1686.30,1028.09 L1687.30,1028.09 L1688.30,1028.09 L1689.30,1028.09 L1690.30,1028.10 L1691.30,1028.10 L1692.30,1028.10 L1693.30,1028.11 L1694.30,1028.11 L1695.30,1028.11 L1696.30,1028.12 L1697.30,1028.12 L1698.30,1028.12 L1699.30,1028.12 L1700.30,1028.13 L1701.30,1028.13 L1702.30,1028.13 L1703.30,1028.14 L1704.30,1028.14 L1705.30,1028.14 L1706.30,1028.15 L1707.30,1028.15 L1708.30,1028.15 L1709.30,1028.15 L1710.30,1028.16 L1711.30,1028.16 L1712.30,1028.16 L1713.30,1028.17 L1714.30,1028.17 L1715.30,1028.17 L1716.30,1028.18 L1717.30,1028.18 L1718.30,1028.18 L1719.30,1028.19 L1720.30,1028.19 L1721.30,1028.19 L1722.30,1028.19 L1723.30,1028.20 L1724.30,1028.20 L1725.30,1028.20 L1726.30,1028.21 L1727.30,1028.21 L1728.30,1028.21 L1729.30,1028.22 L1730.30,1028.22 L1731.30,1028.22 L1732.30,1028.22 L1733.30,1028.23 L1734.30,1028.23 L1735.30,1028.23 L1736.30,1028.24 L1737.30,1028.24 L1738.30,1028.24 L1739.30,1028.25 L1740.30,1028.25 L1741.30,1028.25 L1742.30,1028.25 L1743.30,1028.26 L1744.30,1028.26 L1745.30,1028.26 L1746.30,1028.27 L1747.30,1028.27 L1748.30,1028.27 L1749.30,1028.28 L1750.30,1028.28 L1751.30,1028.28 L1752.30,1028.29 L1753.30,1028.29 L1754.30,1028.29 L1755.30,1028.29 L1756.30,1028.30 L1757.30,1028.30 L1758.30,1028.28 L1759.30,1028.27 L1760.30,1028.25 L1761.30,1028.23 L1762.30,1028.22 L1763.30,1028.20 L1764.30,1028.18 L1765.30,1028.17 L1766.30,1028.15 L1767.30,1028.13 L1768.30,1028.12 L1769.30,1028.10 L1770.30,1028.08 L1771.30,1028.07 L1772.30,1028.05 L1773.30,1028.03 L1774.30,1028.02 L1775.30,1028.00 L1776.30,1027.98 L1777.30,1027.97 L1778.30,1027.95 L1779.30,1027.94 L1780.30,1027.92 L1781.30,1027.90 L1782.30,1027.89 L1783.30,1027.87 L1784.30,1027.85 L1785.30,1027.84 L1786.30,1027.82 L1787.30,1027.80 L1788.30,1027.79 L1789.30,1027.77 L1790.30,1027.75 L1791.30,1027.74 L1792.30,1027.72 L1793.30,1027.70 L1794.30,1027.69 L1795.30,1027.67 L1796.30,1027.65 L1797.30,1027.64 L1798.30,1027.62 L1799.30,1027.60 L1800.30,1027.59 L1801.30,1027.57 L1802.30,1027.56 L1803.30,1027.54 L1804.30,1027.52 L1805.30,1027.51 L1806.30,1027.49 L1807.30,1027.47 L1808.30,1027.46 L1809.30,1027.44 L1810.30,1027.42 L1811.30,1027.41 L1812.30,1027.39 L1813.30,1027.37 L1814.30,1027.36 L1815.30,1027.34 L1816.30,1027.32 L1817.30,1027.31 L1818.30,1027.29 L1819.30,1027.27 L1820.30,1027.26 L1821.30,1027.24 L1822.30,1027.23 L1823.30,1027.21 L1824.30,1027.19 L1825.30,1027.18 L1826.30,1027.16 L1827.30,1027.14 L1828.30,1027.13 L1829.30,1027.11 L1830.30,1027.09 L1831.30,1027.08 L1832.30,1027.06 L1833.30,1027.04 L1834.30,1027.03 L1835.30,1027.01 L1836.30,1026.99 L1837.30,1026.98 L1838.30,1026.96 L1839.30,1026.94 L1840.30,1026.93 L1841.30,1026.91 L1842.30,1026.81 L1843.30,1026.52 L1844.30,1026.23 L1845.30,1025.93 L1846.30,1025.64 L1847.30,1025.35 L1848.30,1025.05 L1849.30,1024.76 L1850.30,1024.47 L1851.30,1024.18 L1852.30,1024.00 L1853.30,1023.99 L1854.30,1023.97 L1855.30,1023.96 L1856.30,1023.95 L1857.30,1023.94 L1858.30,1023.93 L1859.30,1023.92 L1860.30,1023.91 L1861.30,1023.90 L1862.30,1023.89 L1863.30,1023.88 L1864.30,1023.87 L1865.30,1023.86 L1866.30,1023.85 L1867.30,1023.84 L1868.30,1023.83 L1869.30,1023.82 L1870.30,1023.81 L1871.30,1023.80 L1872.30,1023.79 L1873.30,1023.78 L1874.30,1023.76 L1875.30,1023.75 L1876.30,1023.74 L1877.30,1023.73 L1878.30,1023.72 L1879.30,1023.71 L1880.30,1023.70 L1881.30,1023.69 L1882.30,1023.68 L1883.30,1023.67 L1884.30,1023.66 L1885.30,1023.65 L1886.30,1023.64 L1887.30,1023.63 L1888.30,1023.62 L1889.30,1023.61 L1890.30,1023.60 L1891.30,1023.60 L1892.30,1023.60 L1893.30,1023.60 L1894.30,1023.60 L1895.30,1023.60 L1896.30,1023.60 L1897.30,1023.60 L1898.30,1023.60 L1899.30,1023.60 L1900.30,1023.60 L1901.30,1023.60 L1902.30,1023.60 L1903.30,1023.60 L1904.30,1023.60 L1905.30,1023.60 L1906.30,1023.60 L1907.30,1023.60 L1908.30,1023.60 L1909.30,1023.60 L1910.30,1023.60 L1911.30,1023.60 L1912.30,1023.60 L1913.30,1023.60 L1914.30,1023.60 L1915.30,1023.60 L1916.30,1023.60 L1917.30,1023.60 L1918.30,1023.60 L1919.30,1023.60 L1920.30,1023.52 L1921.30,1023.41 L1922.30,1023.30 L1923.30,1023.19 L1924.30,1023.07 L1925.30,1022.96 L1926.30,1022.85 L1927.30,1022.74 L1928.30,1022.63 L1929.30,1022.51 L1930.30,1022.40 L1931.30,1022.29 L1932.30,1022.18 L1933.30,1022.06 L1934.30,1021.95 L1935.30,1021.84 L1936.30,1021.73 L1937.30,1021.62 L1938.30,1021.50 L1939.30,1021.39 L1940.30,1021.28 L1941.30,1021.17 L1942.30,1021.06 L1943.30,1020.94 L1944.30,1020.83 L1945.30,1020.72 L1946.30,1020.61 L1947.30,1020.50 L1948.30,1020.38 L1949.30,1020.27 L1950.30,1020.16 L1951.30,1020.05 L1952.30,1019.94 L1953.30,1019.82 L1954.30,1019.71 L1955.30,1019.60 L1956.30,1019.35 L1957.30,1019.10 L1958.30,1018.85 L1959.30,1018.60 L1960.30,1018.35 L1961.30,1018.10 L1962.30,1017.86 L1963.30,1017.61 L1964.30,1017.36 L1965.30,1017.11 L1966.30,1016.86 L1967.30,1016.61 L1968.30,1016.36 L1969.30,1016.11 L1970.30,1015.86 L1971.30,1015.61 L1972.30,1015.36 L1973.30,1015.11 L1974.30,1014.86 L1975.30,1014.62 L1976.30,1014.37 L1977.30,1014.12 L1978.30,1013.87 L1979.30,1013.62 L1980.30,1013.37 L1981.30,1013.12 L1982.30,1012.87 L1983.30,1012.62 L1984.30,1012.37 L1985.30,1012.12 L1986.30,1011.87 L1987.30,1011.66 L1988.30,1011.54 L1989.30,1011.41 L1990.30,1011.28 L1991.30,1011.16 L1992.30,1011.03 L1993.30,1010.90 L1994.30,1010.78 L1995.30,1010.65 L1996.30,1010.52 L1997.30,1010.40 L1998.30,1010.27 L1999.30,1010.14 L2000.30,1010.02 L2001.30,1009.89 L2002.30,1009.76 L2003.30,1009.66 L2004.30,1009.59 L2005.30,1009.52 L2006.30,1009.45 L2007.30,1009.38 L2008.30,1009.31 L2009.30,1009.24 L2010.30,1009.17 L2011.30,1009.10 L2012.30,1009.03 L2013.30,1008.96 L2014.30,1008.89 L2015.30,1008.82 L2016.30,1008.75 L2017.30,1008.68 L2018.30,1008.61 L2019.30,1008.54 L2020.30,1008.47 L2021.30,1008.40 L2022.30,1008.33 L2023.30,1008.26 L2024.30,1008.19 L2025.30,1008.12 L2026.30,1008.05 L2027.30,1007.98 L2028.30,1007.91 L2029.30,1007.84 L2030.30,1007.77 L2031.30,1007.70 L2032.30,1007.63 L2033.30,1007.56 L2034.30,1007.49 L2035.30,1007.42 L2036.30,1007.35 L2037.30,1007.28 L2038.30,1007.21 L2039.30,1007.23 L2040.30,1007.27 L2041.30,1007.30 L2042.30,1007.34 L2043.30,1007.38 L2044.30,1007.41 L2045.30,1007.45 L2046.30,1007.48 L2047.30,1007.52 L2048.30,1007.56 L2049.30,1007.59 L2050.30,1007.63 L2051.30,1007.66 L2052.30,1007.70 L2053.30,1008.04 L2054.30,1008.38 L2055.30,1008.72 L2056.30,1009.06 L2057.30,1009.40 L2058.30,1009.74 L2059.30,1010.08 L2060.30,1010.42 L2061.30,1010.76 L2062.30,1011.10 L2063.30,1011.44 L2064.30,1011.78 L2065.30,1012.12 L2066.30,1012.45 L2067.30,1012.79 L2068.30,1013.11 L2069.30,1013.20 L2070.30,1013.28 L2071.30,1013.37 L2072.30,1013.46 L2073.30,1013.55 L2074.30,1013.63 L2075.30,1013.72 L2076.30,1013.81 L2077.30,1013.90 L2078.30,1013.98 L2079.30,1014.07 L2080.30,1014.16 L2081.30,1014.25 L2082.30,1014.33 L2083.30,1014.42 L2084.30,1014.51 L2085.30,1014.60 L2086.30,1014.68 L2087.30,1014.77 L2088.30,1014.86 L2089.30,1014.95 L2090.30,1015.03 L2091.30,1015.12 L2092.30,1015.21 L2093.30,1015.30 L2094.30,1015.38 L2095.30,1015.47 L2096.30,1015.56 L2097.30,1015.65 L2098.30,1015.65 L2099.30,1015.52 L2100.30,1015.38 L2101.30,1015.25 L2102.30,1015.12 L2103.30,1014.99 L2104.30,1014.86 L2105.30,1014.73 L2106.30,1014.60 L2107.30,1014.47 L2108.30,1014.33 L2109.30,1014.20 L2110.30,1014.07 L2111.30,1013.94 L2112.30,1013.81 L2113.30,1013.68 L2114.30,1013.55 L2115.30,1013.42 L2116.30,1013.28 L2117.30,1013.15 L2118.30,1013.08 L2119.30,1013.06 L2120.30,1013.03 L2121.30,1013.01 L2122.30,1012.98 L2123.30,1012.96 L2124.30,1012.93 L2125.30,1012.91 L2126.30,1012.88 L2127.30,1012.86 L2128.30,1012.83 L2129.30,1012.81 L2130.30,1012.78 L2131.30,1012.76 L2132.30,1012.73 L2133.30,1012.71 L2134.30,1012.68 L2135.30,1012.66 L2136.30,1012.63 L2137.30,1012.61 L2138.30,1012.58 L2139.30,1012.55 L2140.30,1012.53 L2141.30,1012.50 L2142.30,1012.48 L2143.30,1012.45 L2144.30,1012.43 L2145.30,1012.40 L2146.30,1012.38 L2147.30,1012.35 L2148.30,1012.33 L2149.30,1012.30 L2150.30,1012.00 L2151.30,1011.67 L2152.30,1011.35 L2153.30,1011.02 L2154.30,1010.69 L2155.30,1010.36 L2156.30,1010.03 L2157.30,1009.70 L2158.30,1009.80 L2159.30,1009.90 L2160.30,1010.00 L2161.30,1010.10 L2162.30,1010.21 L2163.30,1010.31 L2164.30,1010.41 L2165.30,1010.51 L2166.30,1010.61 L2167.30,1010.73 L2168.30,1011.05 L2169.30,1011.36 L2170.30,1011.68 L2171.30,1012.00 L2172.30,1012.31 L2173.30,1012.63 L2174.30,1012.95 L2175.30,1013.26 L2176.30,1013.58 L2177.30,1013.90 L2178.30,1014.21 L2179.30,1014.53 L2180.30,1014.85 L2181.30,1015.16 L2182.30,1015.48 L2183.30,1015.70 L2184.30,1015.71 L2185.30,1015.71 L2186.30,1015.72 L2187.30,1015.73 L2188.30,1015.73 L2189.30,1015.74 L2190.30,1015.74 L2191.30,1015.75 L2192.30,1015.76 L2193.30,1015.76 L2194.30,1015.77 L2195.30,1015.77 L2196.30,1015.78 L2197.30,1015.79 L2198.30,1015.79 L2199.30,1015.80 L2200.30,1015.80 L2201.30,1015.81 L2202.30,1015.82 L2203.30,1015.82 L2204.30,1015.83 L2205.30,1015.84 L2206.30,1015.84 L2207.30,1015.85 L2208.30,1015.85 L2209.30,1015.86 L2210.30,1015.87 L2211.30,1015.87 L2212.30,1015.88 L2213.30,1015.88 L2214.30,1015.89 L2215.30,1015.90 L2216.30,1015.90 L2217.30,1015.91 L2218.30,1015.91 L2219.30,1015.92 L2220.30,1015.93 L2221.30,1015.93 L2222.30,1015.94 L2223.30,1015.94 L2224.30,1015.95 L2225.30,1015.96 L2226.30,1015.96 L2227.30,1015.97 L2228.30,1015.97 L2229.30,1015.98 L2230.30,1015.99 L2231.30,1015.99 L2232.30,1016.00 L2233.30,1016.00 L2234.30,1016.01 L2235.30,1016.02 L2236.30,1016.02 L2237.30,1016.03 L2238.30,1016.04 L2239.30,1016.04 L2240.30,1016.05 L2241.30,1016.05 L2242.30,1016.06 L2243.30,1016.07 L2244.30,1016.07 L2245.30,1016.08 L2246.30,1016.08 L2247.30,1016.09 L2248.30,1016.10 L2249.30,1016.10 L2250.30,1016.11 L2251.30,1016.11 L2252.30,1016.12 L2253.30,1016.13 L2254.30,1016.13 L2255.30,1016.14 L2256.30,1016.14 L2257.30,1016.15 L2258.30,1016.16 L2259.30,1016.16 L2260.30,1016.17 L2261.30,1016.17 L2262.30,1016.18 L2263.30,1016.19 L2264.30,1016.19 L2265.30,1016.20 L2266.30,1016.20 L2267.30,1016.21 L2268.30,1016.22 L2269.30,1016.22 L2270.30,1016.23 L2271.30,1016.24 L2272.30,1016.24 L2273.30,1016.25 L2274.30,1016.25 L2275.30,1016.26 L2276.30,1016.27 L2277.30,1016.27 L2278.30,1016.28 L2279.30,1016.28 L2280.30,1016.29 L2281.30,1016.30 L2282.30,1016.30 L2283.30,1016.31 L2284.30,1016.31 L2285.30,1016.32 L2286.30,1016.33 L2287.30,1016.33 L2288.30,1016.34 L2289.30,1016.34 L2290.30,1016.35 L2291.30,1016.36 L2292.30,1016.36 L2293.30,1016.37 L2294.30,1016.37 L2295.30,1016.38 L2296.30,1016.39 L2297.30,1016.39 L2298.30,1016.40 L2299.30,1016.40 L2300.30,1016.41 L2301.30,1016.42 L2302.30,1016.42 L2303.30,1016.43 L2304.30,1016.44 L2305.30,1016.44 L2306.30,1016.45 L2307.30,1016.45 L2308.30,1016.46 L2309.30,1016.47 L2310.30,1016.47 L2311.30,1016.48 L2312.30,1016.48 L2313.30,1016.49 L2314.30,1016.50 L2315.30,1016.50 L2316.30,1016.51 L2317.30,1016.51 L2318.30,1016.52 L2319.30,1016.53 L2320.30,1016.53 L2321.30,1016.54 L2322.30,1016.54 L2323.30,1016.55 L2324.30,1016.56 L2325.30,1016.56 L2326.30,1016.57 L2327.30,1016.57 L2328.30,1016.58 L2329.30,1016.59 L2330.30,1016.59 L2331.30,1016.60 L2332.30,1016.60 L2333.30,1016.61 L2334.30,1016.62 L2335.30,1016.62 L2336.30,1016.63 L2337.30,1016.64 L2338.30,1016.64 L2339.30,1016.65 L2340.30,1016.65 L2341.30,1016.66 L2342.30,1016.67 L2343.30,1016.67 L2344.30,1016.68 L2345.30,1016.68 L2346.30,1016.69 L2347.30,1016.70 L2348.20,1016.70" stroke="#0000ff"/>
<path d="M1422.30,988.10 L1423.30,988.10 L1424.30,988.10 L1425.30,988.10 L1426.30,988.10 L1427.30,988.10 L1428.30,988.10 L1429.30,988.10 L1430.30,988.10 L1431.30,988.10 L1432.30,988.10 L1433.30,988.10 L1434.30,988.10 L1435.30,988.10 L1436.30,988.10 L1437.30,988.10 L1438.30,988.10 L1439.30,988.10 L1440.30,988.10 L1441.30,988.10 L1442.30,988.10 L1443.30,988.10 L1444.30,988.10 L1445.30,988.10 L1446.30,988.10 L1447.30,988.10 L1448.30,988.10 L1449.30,988.10 L1450.30,988.10 L1451.30,988.10 L1452.30,988.10 L1453.30,988.10 L1454.30,988.10 L1455.30,988.10 L1456.30,988.10 L1457.30,988.10 L1458.30,988.10 L1459.30,988.10 L1460.30,988.10 L1461.30,988.10 L1462.30,988.10 L1463.30,988.10 L1464.30,988.10 L1465.30,988.10 L1466.30,988.10 L1467.30,988.10 L1468.30,988.10 L1469.30,988.10 L1470.30,988.10 L1471.30,988.10 L1472.30,988.10 L1473.30,988.10 L1474.30,988.10 L1475.30,988.10 L1476.30,988.10 L1477.30,988.10 L1478.30,988.10 L1479.30,988.10 L1480.30,988.10 L1481.30,988.10 L1482.30,988.10 L1483.30,988.10 L1484.30,988.10 L1485.30,988.10 L1486.30,988.10 L1487.30,988.10 L1488.30,988.10 L1489.30,988.10 L1490.30,988.10 L1491.30,988.10 L1492.30,988.10 L1493.30,988.10 L1494.30,988.10 L1495.30,988.10 L1496.30,988.10 L1497.30,988.10 L1498.30,988.10 L1499.30,988.10 L1500.30,988.10 L1501.30,988.10 L1502.30,988.10 L1503.30,988.10 L1504.30,988.10 L1505.30,988.10 L1506.30,988.10 L1507.30,988.10 L1508.30,988.10 L1509.30,988.10 L1510.30,988.10 L1511.30,988.10 L1512.30,988.10 L1513.30,988.10 L1514.30,988.10 L1515.30,988.10 L1516.30,988.10 L1517.30,988.10 L1518.30,988.10 L1519.30,988.10 L1520.30,988.10 L1521.30,988.10 L1522.30,988.10 L1523.30,988.10 L1524.30,988.10 L1525.30,988.10 L1526.30,988.10 L1527.30,988.10 L1528.30,988.10 L1529.30,988.10 L1530.30,988.10 L1531.30,988.10 L1532.30,988.10 L1533.30,988.10 L1534.30,988.10 L1535.30,988.10 L1536.30,988.10 L1537.30,988.10 L1538.30,988.10 L1539.30,988.10 L1540.30,988.10 L1541.30,988.10 L1542.30,988.10 L1543.30,988.10 L1544.30,988.10 L1545.30,988.10 L1546.30,988.10 L1547.30,988.10 L1548.30,988.10 L1549.30,988.10 L1550.30,988.10 L1551.30,988.10 L1552.30,988.10 L1553.30,988.10 L1554.30,988.10 L1555.30,988.10 L1556.30,988.10 L1557.30,988.10 L1558.30,988.10 L1559.30,988.10 L1560.30,988.10 L1561.30,988.10 L1562.30,988.10 L1563.30,988.10 L1564.30,988.10 L1565.30,988.10 L1566.30,988.10 L1567.30,988.10 L1568.30,988.10 L1569.30,988.10 L1570.30,988.10 L1571.30,988.10 L1572.30,988.10 L1573.30,988.10 L1574.30,988.10 L1575.30,988.10 L1576.30,988.10 L1577.30,988.10 L1578.30,988.10 L1579.30,988.09 L1580.30,988.09 L1581.30,988.09 L1582.30,988.09 L1583.30,988.09 L1584.30,988.09 L1585.30,988.09 L1586.30,988.09 L1587.30,988.09 L1588.30,988.09 L1589.30,988.09 L1590.30,988.09 L1591.30,988.09 L1592.30,988.09 L1593.30,988.09 L1594.30,988.09 L1595.30,988.09 L1596.30,988.09 L1597.30,988.09 L1598.30,988.09 L1599.30,988.09 L1600.30,988.09 L1601.30,988.09 L1602.30,988.09 L1603.30,988.09 L1604.30,988.09 L1605.30,988.09 L1606.30,988.09 L1607.30,988.09 L1608.30,988.09 L1609.30,988.09 L1610.30,988.09 L1611.30,988.09 L1612.30,988.09 L1613.30,988.09 L1614.30,988.09 L1615.30,988.09 L1616.30,988.09 L1617.30,988.09 L1618.30,988.09 L1619.30,988.09 L1620.30,988.09 L1621.30,988.18 L1622.30,989.02 L1623.30,989.87 L1624.30,990.72 L1625.30,991.39 L1626.30,991.39 L1627.30,991.39 L1628.30,991.39 L1629.30,991.39 L1630.30,991.39 L1631.30,991.39 L1632.30,991.39 L1633.30,991.39 L1634.30,991.39 L1635.30,991.39 L1636.30,991.39 L1637.30,991.39 L1638.30,991.39 L1639.30,991.39 L1640.30,991.39 L1641.30,991.39 L1642.30,991.39 L1643.30,991.39 L1644.30,991.39 L1645.30,991.39 L1646.30,991.39 L1647.30,991.39 L1648.30,991.39 L1649.30,991.39 L1650.30,991.39 L1651.30,991.39 L1652.30,991.39 L1653.30,991.39 L1654.30,991.39 L1655.30,991.39 L1656.30,991.39 L1657.30,991.39 L1658.30,991.39 L1659.30,991.39 L1660.30,991.39 L1661.30,991.39 L1662.30,991.39 L1663.30,991.39 L1664.30,991.39 L1665.30,991.39 L1666.30,991.39 L1667.30,991.39 L1668.30,991.39 L1669.30,991.39 L1670.30,991.39 L1671.30,991.39 L1672.30,991.39 L1673.30,991.39 L1674.30,991.39 L1675.30,991.39 L1676.30,991.39 L1677.30,991.39 L1678.30,991.39 L1679.30,991.39 L1680.30,991.39 L1681.30,991.39 L1682.30,991.38 L1683.30,991.38 L1684.30,991.38 L1685.30,991.38 L1686.30,991.38 L1687.30,991.38 L1688.30,991.38 L1689.30,991.38 L1690.30,991.38 L1691.30,991.38 L1692.30,991.38 L1693.30,991.38 L1694.30,991.38 L1695.30,991.38 L1696.30,991.38 L1697.30,991.38 L1698.30,991.38 L1699.30,991.38 L1700.30,991.38 L1701.30,991.38 L1702.30,991.38 L1703.30,991.38 L1704.30,991.38 L1705.30,991.38 L1706.30,991.38 L1707.30,991.38 L1708.30,991.38 L1709.30,991.38 L1710.30,991.38 L1711.30,991.38 L1712.30,991.37 L1713.30,991.37 L1714.30,991.37 L1715.30,991.37 L1716.30,991.37 L1717.30,991.37 L1718.30,991.37 L1719.30,991.37 L1720.30,991.37 L1721.30,991.37 L1722.30,991.37 L1723.30,991.37 L1724.30,991.37 L1725.30,991.37 L1726.30,991.37 L1727.30,991.37 L1728.30,991.37 L1729.30,991.36 L1730.30,991.36 L1731.30,991.36 L1732.30,991.36 L1733.30,991.36 L1734.30,991.36 L1735.30,991.36 L1736.30,991.36 L1737.30,991.36 L1738.30,991.36 L1739.30,991.35 L1740.30,991.35 L1741.30,991.35 L1742.30,991.35 L1743.30,991.35 L1744.30,991.35 L1745.30,991.35 L1746.30,991.34 L1747.30,991.34 L1748.30,991.34 L1749.30,991.34 L1750.30,991.34 L1751.30,991.34 L1752.30,991.33 L1753.30,991.33 L1754.30,991.33 L1755.30,991.33 L1756.30,991.32 L1757.30,991.32 L1758.30,991.31 L1759.30,991.29 L1760.30,991.28 L1761.30,991.26 L1762.30,991.24 L1763.30,991.23 L1764.30,991.21 L1765.30,991.20 L1766.30,991.18 L1767.30,991.16 L1768.30,991.15 L1769.30,991.13 L1770.30,991.11 L1771.30,991.09 L1772.30,991.07 L1773.30,991.05 L1774.30,991.04 L1775.30,991.02 L1776.30,990.99 L1777.30,990.97 L1778.30,990.95 L1779.30,990.93 L1780.30,990.90 L1781.30,990.88 L1782.30,990.85 L1783.30,990.83 L1784.30,990.80 L1785.30,990.77 L1786.30,990.73 L1787.30,990.70 L1788.30,990.66 L1789.30,990.62 L1790.30,990.58 L1791.30,990.52 L1792.30,990.46 L1793.30,990.39 L1794.30,990.32 L1795.30,990.24 L1796.30,990.15 L1797.30,990.05 L1798.30,989.93 L1799.30,989.80 L1800.30,989.63 L1801.30,989.43 L1802.30,989.17 L1802.50,989.10 L1802.75,989.02 L1803.00,988.93 L1803.25,988.84 L1803.30,988.82 L1803.50,988.73 L1803.75,988.62 L1804.00,988.50 L1804.25,988.37 L1804.30,988.35 L1804.50,988.23 L1804.75,988.08 L1805.00,987.92 L1805.25,987.74 L1805.30,987.70 L1805.50,987.55 L1805.75,987.35 L1806.00,987.13 L1806.25,986.89 L1806.30,986.84 L1806.50,986.64 L1806.75,986.37 L1807.00,986.08 L1807.25,985.77 L1807.30,985.70 L1807.50,985.44 L1807.75,985.09 L1808.00,984.72 L1808.25,984.34 L1808.30,984.26 L1808.50,983.93 L1808.75,983.50 L1809.00,983.05 L1809.25,982.58 L1809.30,982.48 L1809.50,982.09 L1809.75,981.59 L1810.00,981.07 L1810.25,980.53 L1810.30,980.43 L1810.50,979.99 L1810.75,979.43 L1811.00,978.87 L1811.25,978.31 L1811.30,978.20 L1811.50,977.75 L1811.75,977.20 L1812.00,976.66 L1812.25,976.14 L1812.30,976.04 L1812.50,975.65 L1812.75,975.19 L1813.00,974.77 L1813.25,974.40 L1813.30,974.34 L1813.50,974.09 L1813.75,973.83 L1814.00,973.65 L1814.25,973.52 L1814.30,973.50 L1814.50,973.47 L1814.75,973.50 L1815.00,973.62 L1815.25,973.83 L1815.30,973.88 L1815.50,974.12 L1815.75,974.48 L1816.00,974.90 L1816.25,975.38 L1816.30,975.48 L1816.50,975.90 L1816.75,976.45 L1817.00,977.03 L1817.25,977.62 L1817.30,977.74 L1817.50,978.22 L1817.75,978.83 L1818.00,979.43 L1818.25,980.01 L1818.30,980.13 L1818.50,980.59 L1818.75,981.15 L1819.00,981.69 L1819.25,982.21 L1819.30,982.31 L1819.50,982.71 L1819.75,983.18 L1820.00,983.62 L1820.25,984.05 L1820.30,984.13 L1820.50,984.44 L1820.75,984.81 L1821.00,985.16 L1821.25,985.48 L1821.30,985.55 L1821.50,985.78 L1821.75,986.06 L1822.00,986.31 L1822.25,986.55 L1822.30,986.59 L1822.50,986.76 L1822.75,986.96 L1823.00,987.14 L1823.25,987.30 L1823.30,987.33 L1823.50,987.45 L1823.75,987.58 L1824.00,987.70 L1824.25,987.81 L1824.30,987.83 L1824.50,987.91 L1824.75,988.00 L1825.00,988.08 L1825.25,988.15 L1825.30,988.17 L1825.50,988.22 L1825.75,988.28 L1826.00,988.33 L1826.25,988.38 L1826.30,988.39 L1827.30,988.53 L1828.30,988.63 L1829.30,988.69 L1830.30,988.73 L1831.30,988.82 L1832.30,988.89 L1833.30,988.95 L1834.30,989.00 L1835.30,989.04 L1836.30,989.08 L1837.30,989.12 L1838.30,989.15 L1839.30,989.17 L1840.30,989.20 L1841.30,989.22 L1842.30,989.24 L1843.30,989.26 L1844.30,989.27 L1845.30,989.29 L1846.30,989.12 L1847.30,988.54 L1848.30,987.96 L1849.30,987.37 L1850.30,986.79 L1851.30,986.20 L1852.30,985.85 L1853.30,985.83 L1854.30,985.82 L1855.30,985.80 L1856.30,985.79 L1857.30,985.77 L1858.30,985.76 L1859.30,985.74 L1860.30,985.72 L1861.30,985.70 L1862.30,985.69 L1863.30,985.67 L1864.30,985.65 L1865.30,985.63 L1866.30,985.61 L1867.30,985.60 L1868.30,985.58 L1869.30,985.56 L1870.30,985.54 L1871.30,985.52 L1872.30,985.50 L1873.30,985.48 L1874.30,985.46 L1875.30,985.44 L1876.30,985.42 L1877.30,985.40 L1878.30,985.38 L1879.30,985.36 L1880.30,985.34 L1881.30,985.31 L1882.30,985.27 L1883.30,985.24 L1884.30,985.20 L1885.30,985.17 L1886.30,985.14 L1887.30,985.10 L1888.30,985.07 L1889.30,985.03 L1890.30,985.00 L1891.30,984.96 L1892.30,984.93 L1893.30,984.90 L1894.30,984.86 L1895.30,984.83 L1896.30,984.79 L1897.30,984.76 L1898.30,984.72 L1899.30,984.69 L1900.30,984.65 L1901.30,984.62 L1902.30,984.58 L1903.30,984.55 L1904.30,984.51 L1905.30,984.48 L1906.30,984.44 L1907.30,984.41 L1908.30,984.37 L1909.30,984.34 L1910.30,984.30 L1911.30,984.27 L1912.30,984.23 L1913.30,984.20 L1914.30,984.17 L1915.30,984.13 L1916.30,984.10 L1917.30,984.06 L1918.30,984.03 L1919.30,983.99 L1920.30,983.93 L1921.30,983.87 L1922.30,983.80 L1923.30,983.73 L1924.30,983.66 L1925.30,983.60 L1926.30,983.53 L1927.30,983.46 L1928.30,983.40 L1929.30,983.33 L1930.30,983.26 L1931.30,983.20 L1932.30,983.13 L1933.30,983.06 L1934.30,982.99 L1935.30,982.93 L1936.30,982.86 L1937.30,982.79 L1938.30,982.73 L1939.30,982.66 L1940.30,982.59 L1941.30,982.52 L1942.30,982.46 L1943.30,982.39 L1944.30,982.32 L1945.30,982.26 L1946.30,982.19 L1947.30,982.12 L1948.30,982.05 L1949.30,981.99 L1950.30,981.78 L1951.30,981.58 L1952.30,981.38 L1953.30,981.18 L1954.30,980.98 L1955.30,980.78 L1956.30,980.57 L1957.30,980.37 L1958.30,980.17 L1959.30,979.97 L1960.30,979.77 L1961.30,979.56 L1962.30,979.36 L1963.30,979.16 L1964.30,978.96 L1965.30,978.76 L1966.30,978.55 L1967.30,978.35 L1968.30,978.15 L1969.30,977.93 L1970.30,977.66 L1971.30,977.39 L1972.30,977.12 L1973.30,976.85 L1974.30,976.58 L1975.30,976.31 L1976.30,976.04 L1977.30,975.77 L1978.30,975.50 L1979.30,975.23 L1980.30,974.96 L1981.30,974.69 L1982.30,974.42 L1983.30,974.15 L1984.30,973.88 L1985.30,973.61 L1986.30,973.34 L1987.30,973.06 L1988.30,972.79 L1989.30,972.52 L1990.30,972.25 L1991.30,972.02 L1992.30,971.85 L1993.30,971.69 L1994.30,971.52 L1995.30,971.35 L1996.30,971.18 L1997.30,971.01 L1998.30,970.84 L1999.30,970.68 L2000.30,970.51 L2001.30,970.34 L2002.30,970.17 L2003.30,970.00 L2004.30,969.83 L2005.30,969.66 L2006.30,969.50 L2007.30,969.33 L2008.30,969.16 L2009.30,969.09 L2010.30,969.09 L2011.30,969.09 L2012.30,969.09 L2013.30,969.09 L2014.30,969.09 L2015.30,969.09 L2016.30,969.09 L2017.30,969.09 L2018.30,969.09 L2019.30,969.09 L2020.30,969.09 L2021.30,969.09 L2022.30,969.09 L2023.30,969.09 L2024.30,969.09 L2025.30,969.09 L2026.30,969.09 L2027.30,969.09 L2028.30,969.09 L2029.30,969.09 L2030.30,969.09 L2031.30,969.09 L2032.30,969.09 L2033.30,969.09 L2034.30,969.09 L2035.30,969.09 L2036.30,969.09 L2037.30,969.09 L2038.30,969.09 L2039.30,969.09 L2040.30,969.09 L2041.30,969.09 L2042.30,969.09 L2043.30,969.09 L2044.30,969.09 L2045.30,969.24 L2046.30,969.41 L2047.30,969.57 L2048.30,969.74 L2049.30,969.90 L2050.30,970.07 L2051.30,970.23 L2052.30,970.40 L2053.30,970.56 L2054.30,970.73 L2055.30,970.89 L2056.30,971.06 L2057.30,971.22 L2058.30,971.39 L2059.30,971.55 L2060.30,971.72 L2061.30,971.88 L2062.30,972.05 L2063.30,972.21 L2064.30,972.38 L2065.30,972.54 L2066.30,972.71 L2067.30,972.88 L2068.30,973.04 L2069.30,973.21 L2070.30,973.38 L2071.30,973.55 L2072.30,973.72 L2073.30,973.88 L2074.30,974.05 L2075.30,974.22 L2076.30,974.39 L2077.30,974.56 L2078.30,974.69 L2079.30,974.70 L2080.30,974.70 L2081.30,974.70 L2082.30,974.71 L2083.30,974.71 L2084.30,974.72 L2085.30,974.72 L2086.30,974.72 L2087.30,974.73 L2088.30,974.73 L2089.30,974.74 L2090.30,974.74 L2091.30,974.74 L2092.30,974.75 L2093.30,974.75 L2094.30,974.76 L2095.30,974.76 L2096.30,974.76 L2097.30,974.77 L2098.30,974.77 L2099.30,974.78 L2100.30,974.78 L2101.30,974.79 L2102.30,974.79 L2103.30,974.79 L2104.30,974.80 L2105.30,974.80 L2106.30,974.81 L2107.30,974.81 L2108.30,974.81 L2109.30,974.82 L2110.30,974.82 L2111.30,974.83 L2112.30,974.83 L2113.30,974.83 L2114.30,974.84 L2115.30,974.84 L2116.30,974.85 L2117.30,974.85 L2118.30,974.85 L2119.30,974.86 L2120.30,974.86 L2121.30,974.87 L2122.30,974.87 L2123.30,974.87 L2124.30,974.88 L2125.30,974.88 L2126.30,974.89 L2127.30,974.89 L2128.30,974.89 L2129.30,974.90 L2130.30,974.90 L2131.30,974.90 L2132.30,974.91 L2133.30,974.91 L2134.30,974.92 L2135.30,974.92 L2136.30,974.92 L2137.30,974.93 L2138.30,974.93 L2139.30,974.94 L2140.30,974.94 L2141.30,974.94 L2142.30,974.95 L2143.30,974.95 L2144.30,974.96 L2145.30,974.96 L2146.30,974.96 L2147.30,974.97 L2148.30,974.97 L2149.30,974.97 L2150.30,974.98 L2151.30,974.98 L2152.30,974.99 L2153.30,974.99 L2154.30,974.99 L2155.30,975.00 L2156.30,975.00 L2157.30,975.01 L2158.30,975.01 L2159.30,975.01 L2160.30,975.02 L2161.30,975.02 L2162.30,975.02 L2163.30,975.03 L2164.30,975.03 L2165.30,975.03 L2166.30,975.04 L2167.30,975.04 L2168.30,975.05 L2169.30,975.05 L2170.30,975.05 L2171.30,975.06 L2172.30,975.06 L2173.30,975.06 L2174.30,975.07 L2175.30,975.16 L2176.30,975.64 L2177.30,976.11 L2178.30,976.59 L2179.30,976.97 L2180.30,976.97 L2181.30,976.96 L2182.30,976.96 L2183.30,976.96 L2184.30,976.96 L2185.30,976.96 L2186.30,976.96 L2187.30,976.96 L2188.30,976.96 L2189.30,976.96 L2190.30,976.95 L2191.30,976.95 L2192.30,976.95 L2193.30,976.95 L2194.30,976.95 L2195.30,976.95 L2196.30,976.95 L2197.30,976.94 L2198.30,976.94 L2199.30,976.94 L2200.30,976.94 L2201.30,976.94 L2202.30,976.93 L2203.30,976.93 L2204.30,976.93 L2205.30,976.92 L2206.30,976.92 L2207.30,976.92 L2208.30,976.92 L2209.30,976.91 L2210.30,976.91 L2211.30,976.90 L2212.30,976.90 L2213.30,976.90 L2214.30,976.89 L2215.30,976.89 L2216.30,976.88 L2217.30,976.87 L2218.30,976.87 L2219.30,976.86 L2220.30,976.85 L2221.30,976.84 L2222.30,976.84 L2223.30,976.83 L2224.30,976.82 L2225.30,976.80 L2226.30,976.79 L2227.30,976.78 L2228.30,976.76 L2229.30,976.74 L2230.30,976.72 L2231.30,976.70 L2232.30,976.68 L2233.30,976.65 L2234.30,976.62 L2235.30,976.59 L2236.30,976.55 L2237.30,976.50 L2238.30,976.45 L2239.30,976.39 L2240.30,976.32 L2241.30,976.23 L2242.30,976.12 L2243.30,975.98 L2244.30,975.79 L2244.50,975.75 L2244.75,975.69 L2245.00,975.63 L2245.25,975.56 L2245.30,975.54 L2245.50,975.48 L2245.75,975.40 L2246.00,975.31 L2246.25,975.22 L2246.30,975.20 L2246.50,975.11 L2246.75,975.00 L2247.00,974.88 L2247.25,974.75 L2247.30,974.72 L2247.50,974.61 L2247.75,974.46 L2248.00,974.29 L2248.25,974.12 L2248.30,974.08 L2248.50,973.93 L2248.75,973.72 L2249.00,973.51 L2249.25,973.27 L2249.30,973.23 L2249.50,973.03 L2249.75,972.77 L2250.00,972.49 L2250.25,972.19 L2250.30,972.13 L2250.50,971.89 L2250.75,971.56 L2251.00,971.22 L2251.25,970.87 L2251.30,970.79 L2251.50,970.50 L2251.75,970.12 L2252.00,969.72 L2252.25,969.32 L2252.30,969.24 L2252.50,968.91 L2252.75,968.49 L2253.00,968.06 L2253.25,967.64 L2253.30,967.55 L2253.50,967.21 L2253.75,966.79 L2254.00,966.39 L2254.25,965.99 L2254.30,965.92 L2254.50,965.62 L2254.75,965.27 L2255.00,964.96 L2255.25,964.68 L2255.30,964.63 L2255.50,964.44 L2255.75,964.25 L2256.00,964.11 L2256.25,964.03 L2256.30,964.02 L2256.50,964.00 L2256.75,964.03 L2257.00,964.14 L2257.25,964.31 L2257.30,964.35 L2257.50,964.54 L2257.75,964.83 L2258.00,965.16 L2258.25,965.54 L2258.30,965.62 L2258.50,965.95 L2258.75,966.39 L2259.00,966.84 L2259.25,967.31 L2259.30,967.40 L2259.50,967.78 L2259.75,968.25 L2260.00,968.72 L2260.25,969.18 L2260.30,969.27 L2260.50,969.63 L2260.75,970.07 L2261.00,970.50 L2261.25,970.91 L2261.30,970.99 L2261.50,971.30 L2261.75,971.67 L2262.00,972.02 L2262.25,972.36 L2262.30,972.42 L2262.50,972.67 L2262.75,972.97 L2263.00,973.25 L2263.25,973.51 L2263.30,973.56 L2263.50,973.75 L2263.75,973.97 L2264.00,974.18 L2264.25,974.37 L2264.30,974.40 L2264.50,974.54 L2264.75,974.70 L2265.00,974.85 L2265.25,974.99 L2265.30,975.02 L2265.50,975.11 L2265.75,975.23 L2266.00,975.33 L2266.25,975.43 L2266.30,975.45 L2266.50,975.52 L2266.75,975.60 L2267.00,975.67 L2267.25,975.74 L2267.30,975.75 L2267.50,975.80 L2267.75,975.85 L2268.00,975.91 L2268.25,975.96 L2268.30,975.97 L2269.30,976.14 L2270.30,976.28 L2271.30,976.39 L2272.30,976.48 L2273.30,976.56 L2274.30,976.63 L2275.30,976.69 L2276.30,976.75 L2277.30,976.80 L2278.30,976.84 L2279.30,976.89 L2280.30,976.93 L2281.30,976.96 L2282.30,977.00 L2283.30,977.03 L2284.30,977.06 L2285.30,977.09 L2286.30,977.12 L2287.30,977.15 L2288.30,977.17 L2289.30,977.20 L2290.30,977.22 L2291.30,977.25 L2292.30,977.27 L2293.30,977.29 L2294.30,977.32 L2295.30,977.34 L2296.30,977.36 L2297.30,977.38 L2298.30,977.40 L2299.30,977.42 L2300.30,977.44 L2301.30,977.46 L2302.30,977.48 L2303.30,977.50 L2304.30,977.52 L2305.30,977.54 L2306.30,977.56 L2307.30,977.58 L2308.30,977.59 L2309.30,977.61 L2310.30,977.63 L2311.30,977.65 L2312.30,977.67 L2313.30,977.69 L2314.30,977.70 L2315.30,977.72 L2316.30,977.74 L2317.30,977.76 L2318.30,977.77 L2319.30,977.79 L2320.30,977.81 L2321.30,977.83 L2322.30,977.84 L2323.30,977.86 L2324.30,977.88 L2325.30,977.90 L2326.30,977.91 L2327.30,977.93 L2328.30,977.95 L2329.30,977.96 L2330.30,978.05 L2331.30,978.16 L2332.30,978.27 L2333.30,978.37 L2334.30,978.48 L2335.30,978.59 L2336.30,978.70 L2337.30,978.81 L2338.30,978.92 L2339.30,979.03 L2340.30,979.14 L2341.30,979.25 L2342.30,979.36 L2343.30,979.47 L2344.30,979.58 L2345.30,979.69 L2346.30,979.79 L2347.30,979.90 L2348.20,979.98" stroke="#6b6bff"/>
<path d="M1422.30,930.87 L1423.30,930.87 L1424.30,930.87 L1425.30,930.87 L1426.30,930.87 L1427.30,930.87 L1428.30,930.87 L1429.30,930.87 L1430.30,930.87 L1431.30,930.87 L1432.30,930.87 L1433.30,930.87 L1434.30,930.87 L1435.30,930.87 L1436.30,930.87 L1437.30,930.87 L1438.30,930.87 L1439.30,930.87 L1440.30,930.87 L1441.30,930.87 L1442.30,930.87 L1443.30,930.87 L1444.30,930.87 L1445.30,930.87 L1446.30,930.87 L1447.30,930.87 L1448.30,930.87 L1449.30,930.87 L1450.30,930.87 L1451.30,930.87 L1452.30,930.87 L1453.30,930.87 L1454.30,930.87 L1455.30,930.87 L1456.30,930.87 L1457.30,930.87 L1458.30,930.87 L1459.30,930.87 L1460.30,930.87 L1461.30,930.87 L1462.30,930.87 L1463.30,930.86 L1464.30,930.86 L1465.30,930.86 L1466.30,930.86 L1467.30,930.86 L1468.30,930.86 L1469.30,930.86 L1470.30,930.86 L1471.30,930.86 L1472.30,930.86 L1473.30,930.86 L1474.30,930.86 L1475.30,930.78 L1476.30,929.93 L1477.30,929.09 L1478.30,928.24 L1479.30,927.40 L1480.30,926.55 L1481.30,925.64 L1482.30,924.55 L1483.30,923.47 L1484.30,922.39 L1485.30,921.31 L1486.30,920.23 L1487.30,919.63 L1488.30,920.98 L1489.30,922.32 L1490.30,923.67 L1491.30,925.02 L1492.30,926.10 L1493.30,926.56 L1494.30,927.02 L1495.30,927.48 L1496.30,927.94 L1497.30,928.28 L1498.30,928.37 L1499.30,928.45 L1500.30,928.54 L1501.30,928.62 L1502.30,928.71 L1503.30,928.79 L1504.30,928.87 L1505.30,928.96 L1506.30,929.04 L1507.30,929.13 L1508.30,929.21 L1509.30,929.38 L1510.30,929.64 L1511.30,929.89 L1512.30,930.14 L1513.30,930.40 L1514.30,930.65 L1515.30,930.90 L1516.30,931.16 L1517.30,931.41 L1518.30,931.67 L1519.30,931.92 L1520.30,932.17 L1521.30,932.23 L1522.30,932.20 L1523.30,932.17 L1524.30,932.14 L1525.30,932.11 L1526.30,932.08 L1527.30,932.05 L1528.30,932.02 L1529.30,931.99 L1530.30,931.96 L1531.30,931.93 L1532.30,931.90 L1533.30,931.87 L1534.30,931.84 L1535.30,931.81 L1536.30,931.78 L1537.30,931.75 L1538.30,931.72 L1539.30,931.69 L1540.30,931.66 L1541.30,931.63 L1542.30,931.60 L1543.30,931.57 L1544.30,931.54 L1545.30,931.51 L1546.30,931.48 L1547.30,931.45 L1548.30,931.42 L1549.30,931.39 L1550.30,931.36 L1551.30,931.33 L1552.30,931.30 L1553.30,931.27 L1554.30,931.24 L1555.30,931.21 L1556.30,931.18 L1557.30,931.15 L1558.30,931.12 L1559.30,931.09 L1560.30,931.06 L1561.30,931.03 L1562.30,931.00 L1563.30,930.97 L1564.30,930.94 L1565.30,930.91 L1566.30,930.88 L1567.30,930.85 L1568.30,930.55 L1569.30,929.84 L1570.30,929.13 L1571.30,928.42 L1572.30,927.77 L1573.30,927.26 L1574.30,926.74 L1575.30,926.22 L1576.30,925.70 L1577.30,925.18 L1578.30,925.28 L1579.30,926.00 L1580.30,926.71 L1581.30,927.42 L1582.30,928.08 L1583.30,928.60 L1584.30,929.11 L1585.30,929.63 L1586.30,930.15 L1587.30,930.66 L1588.30,930.82 L1589.30,930.82 L1590.30,930.82 L1591.30,930.82 L1592.30,930.82 L1593.30,930.82 L1594.30,930.81 L1595.30,930.81 L1596.30,930.81 L1597.30,930.81 L1598.30,930.81 L1599.30,930.81 L1600.30,930.81 L1601.30,930.81 L1602.30,930.81 L1603.30,930.81 L1604.30,930.81 L1605.30,930.81 L1606.30,930.80 L1607.30,930.80 L1608.30,930.80 L1609.30,930.80 L1610.30,930.80 L1611.30,930.80 L1612.30,930.80 L1613.30,930.80 L1614.30,930.80 L1615.30,930.80 L1616.30,930.80 L1617.30,930.79 L1618.30,930.79 L1619.30,930.79 L1620.30,930.79 L1621.30,930.86 L1622.30,931.55 L1623.30,932.24 L1624.30,932.93 L1625.30,933.49 L1626.30,933.48 L1627.30,933.48 L1628.30,933.48 L1629.30,933.48 L1630.30,933.48 L1631.30,933.48 L1632.30,933.48 L1633.30,933.48 L1634.30,933.47 L1635.30,933.47 L1636.30,933.47 L1637.30,933.47 L1638.30,933.47 L1639.30,933.47 L1640.30,933.47 L1641.30,933.46 L1642.30,933.46 L1643.30,933.46 L1644.30,933.46 L1645.30,933.46 L1646.30,933.46 L1647.30,933.45 L1648.30,933.45 L1649.30,933.45 L1650.30,933.45 L1651.30,933.45 L1652.30,933.45 L1653.30,933.44 L1654.30,933.44 L1655.30,933.44 L1656.30,933.44 L1657.30,933.44 L1658.30,933.43 L1659.30,933.43 L1660.30,933.43 L1661.30,933.43 L1662.30,933.43 L1663.30,933.42 L1664.30,933.42 L1665.30,933.42 L1666.30,933.42 L1667.30,933.41 L1668.30,933.41 L1669.30,933.41 L1670.30,933.41 L1671.30,933.40 L1672.30,933.40 L1673.30,933.40 L1674.30,933.39 L1675.30,933.39 L1676.30,933.39 L1677.30,933.39 L1678.30,933.38 L1679.30,933.38 L1680.30,933.38 L1681.30,933.37 L1682.30,933.37 L1683.30,933.37 L1684.30,933.36 L1685.30,933.36 L1686.30,933.36 L1687.30,933.35 L1688.30,933.35 L1689.30,933.34 L1690.30,933.34 L1691.30,933.34 L1692.30,933.33 L1693.30,933.33 L1694.30,933.32 L1695.30,933.32 L1696.30,933.31 L1697.30,933.31 L1698.30,933.30 L1699.30,933.30 L1700.30,933.29 L1701.30,933.29 L1702.30,933.28 L1703.30,933.28 L1704.30,933.27 L1705.30,933.27 L1706.30,933.26 L1707.30,933.25 L1708.30,933.25 L1709.30,933.24 L1710.30,933.23 L1711.30,933.23 L1712.30,933.22 L1713.30,933.21 L1714.30,933.20 L1715.30,933.20 L1716.30,933.19 L1717.30,933.18 L1718.30,933.17 L1719.30,933.16 L1720.30,933.15 L1721.30,933.14 L1722.30,933.14 L1723.30,933.13 L1724.30,933.11 L1725.30,933.10 L1726.30,933.09 L1727.30,933.08 L1728.30,933.07 L1729.30,933.06 L1730.30,933.04 L1731.30,933.03 L1732.30,933.02 L1733.30,933.00 L1734.30,932.99 L1735.30,932.97 L1736.30,932.96 L1737.30,932.94 L1738.30,932.92 L1739.30,932.91 L1740.30,932.89 L1741.30,932.87 L1742.30,932.85 L1743.30,932.83 L1744.30,931.39 L1745.30,929.79 L1746.30,928.19 L1747.30,926.59 L1748.30,927.31 L1749.30,928.28 L1750.30,929.26 L1751.30,930.23 L1752.30,931.20 L1753.30,932.16 L1754.30,931.43 L1755.30,930.70 L1756.30,929.97 L1757.30,929.23 L1758.30,928.50 L1759.30,927.76 L1760.30,927.01 L1761.30,926.36 L1762.30,926.53 L1763.30,926.70 L1764.30,926.86 L1765.30,927.02 L1766.30,927.17 L1767.30,927.33 L1768.30,927.47 L1769.30,927.62 L1770.30,927.75 L1771.30,927.89 L1772.30,928.01 L1773.30,928.06 L1774.30,927.93 L1775.30,927.80 L1776.30,927.66 L1777.30,927.50 L1778.30,927.34 L1779.30,927.16 L1780.30,926.98 L1781.30,926.77 L1782.30,926.55 L1783.30,926.31 L1784.30,926.05 L1785.30,925.77 L1786.30,925.46 L1787.30,925.12 L1788.30,924.74 L1789.30,924.33 L1790.30,923.87 L1791.30,923.38 L1792.30,922.82 L1793.30,922.19 L1794.30,921.48 L1795.30,920.66 L1796.30,919.73 L1797.30,918.64 L1798.30,917.38 L1799.30,915.89 L1800.30,914.12 L1801.30,911.99 L1802.30,909.41 L1803.00,907.27 L1803.25,906.43 L1803.30,906.25 L1803.50,905.54 L1803.75,904.61 L1804.00,903.63 L1804.25,902.59 L1804.30,902.38 L1804.50,901.50 L1804.75,900.36 L1805.00,899.15 L1805.25,897.87 L1805.30,897.61 L1805.50,896.53 L1805.75,895.12 L1806.00,893.64 L1806.25,892.08 L1806.30,891.76 L1806.50,890.44 L1806.75,888.72 L1807.00,886.90 L1807.25,885.00 L1807.30,884.61 L1807.50,883.01 L1807.75,880.92 L1808.00,878.74 L1808.25,876.45 L1808.30,875.98 L1808.50,874.07 L1808.75,871.58 L1809.00,868.99 L1809.25,866.30 L1809.30,865.75 L1809.50,863.51 L1809.75,860.63 L1810.00,857.65 L1810.25,854.59 L1810.30,853.97 L1810.50,851.46 L1810.75,848.26 L1811.00,845.01 L1811.25,841.73 L1811.30,841.07 L1811.50,838.43 L1811.75,835.14 L1812.00,831.89 L1812.25,828.70 L1812.30,828.08 L1812.50,825.62 L1812.75,822.66 L1813.00,819.87 L1813.25,817.30 L1813.30,816.81 L1813.50,814.97 L1813.75,812.92 L1814.00,811.19 L1814.25,809.81 L1814.30,809.58 L1814.50,808.81 L1814.75,808.19 L1815.00,807.99 L1815.25,808.70 L1815.30,809.01 L1815.50,810.79 L1815.75,814.13 L1816.00,818.52 L1816.25,823.70 L1816.30,824.81 L1816.50,829.43 L1816.75,835.48 L1817.00,841.65 L1817.25,847.76 L1817.30,848.97 L1817.50,853.71 L1817.75,859.41 L1818.00,864.80 L1818.25,869.84 L1818.30,870.81 L1818.50,874.53 L1818.75,878.87 L1819.00,882.85 L1819.25,886.50 L1819.30,887.19 L1819.50,889.84 L1819.75,892.87 L1820.00,895.64 L1820.25,898.15 L1820.30,898.62 L1820.50,900.43 L1820.75,902.49 L1821.00,904.37 L1821.25,906.07 L1821.30,906.39 L1821.50,907.61 L1821.75,909.01 L1822.00,910.29 L1822.25,911.45 L1822.30,911.67 L1822.50,912.51 L1822.75,913.48 L1823.00,914.36 L1823.25,915.18 L1823.30,915.33 L1823.50,915.93 L1823.75,916.62 L1824.00,917.26 L1824.25,917.85 L1824.30,917.96 L1824.50,918.39 L1824.75,918.90 L1825.00,919.38 L1825.25,919.82 L1825.30,919.90 L1825.50,920.23 L1825.75,920.62 L1826.00,920.98 L1826.25,921.32 L1826.30,921.38 L1826.50,921.64 L1826.75,921.94 L1827.30,922.54 L1828.30,923.45 L1829.30,924.18 L1830.30,924.78 L1831.30,925.26 L1832.30,925.66 L1833.30,926.00 L1834.30,926.28 L1835.30,926.51 L1836.30,926.71 L1837.30,926.88 L1838.30,927.02 L1839.30,927.15 L1840.30,927.26 L1841.30,927.37 L1842.30,927.47 L1843.30,927.56 L1844.30,927.63 L1845.30,927.70 L1846.30,927.76 L1847.30,927.82 L1848.30,927.87 L1849.30,927.91 L1850.30,927.95 L1851.30,927.98 L1852.30,928.01 L1853.30,928.04 L1854.30,928.06 L1855.30,928.09 L1856.30,928.10 L1857.30,928.12 L1858.30,928.14 L1859.30,928.15 L1860.30,928.16 L1861.30,928.17 L1862.30,928.17 L1863.30,928.18 L1864.30,928.19 L1865.30,928.19 L1866.30,928.19 L1867.30,928.20 L1868.30,928.20 L1869.30,928.20 L1870.30,928.20 L1871.30,928.20 L1872.30,928.19 L1873.30,928.19 L1874.30,928.19 L1875.30,928.18 L1876.30,928.18 L1877.30,928.18 L1878.30,928.17 L1879.30,928.16 L1880.30,928.16 L1881.30,928.15 L1882.30,928.15 L1883.30,928.14 L1884.30,928.13 L1885.30,928.12 L1886.30,928.12 L1887.30,928.11 L1888.30,928.10 L1889.30,928.09 L1890.30,928.07 L1891.30,928.03 L1892.30,927.98 L1893.30,927.93 L1894.30,927.51 L1895.30,926.51 L1896.30,925.52 L1897.30,924.52 L1898.30,923.60 L1899.30,922.84 L1900.30,922.09 L1901.30,921.33 L1902.30,920.58 L1903.30,919.82 L1904.30,919.97 L1905.30,921.02 L1906.30,922.07 L1907.30,923.12 L1908.30,924.19 L1909.30,925.30 L1910.30,926.41 L1911.30,927.52 L1912.30,927.96 L1913.30,927.97 L1914.30,927.97 L1915.30,927.97 L1916.30,927.97 L1917.30,927.98 L1918.30,927.98 L1919.30,927.98 L1920.30,927.98 L1921.30,927.98 L1922.30,927.98 L1923.30,927.99 L1924.30,927.99 L1925.30,927.99 L1926.30,927.99 L1927.30,927.99 L1928.30,927.99 L1929.30,928.00 L1930.30,928.00 L1931.30,928.00 L1932.30,928.00 L1933.30,928.00 L1934.30,928.00 L1935.30,928.00 L1936.30,928.00 L1937.30,928.01 L1938.30,927.81 L1939.30,927.59 L1940.30,927.37 L1941.30,927.15 L1942.30,926.93 L1943.30,926.71 L1944.30,926.49 L1945.30,926.27 L1946.30,926.06 L1947.30,925.84 L1948.30,925.62 L1949.30,925.40 L1950.30,925.18 L1951.30,924.96 L1952.30,924.74 L1953.30,924.52 L1954.30,924.27 L1955.30,924.02 L1956.30,923.76 L1957.30,923.51 L1958.30,923.26 L1959.30,923.00 L1960.30,922.75 L1961.30,922.50 L1962.30,922.25 L1963.30,921.99 L1964.30,921.74 L1965.30,921.49 L1966.30,921.24 L1967.30,920.98 L1968.30,920.73 L1969.30,920.44 L1970.30,920.02 L1971.30,919.60 L1972.30,919.17 L1973.30,918.75 L1974.30,918.32 L1975.30,917.90 L1976.30,917.48 L1977.30,917.05 L1978.30,916.63 L1979.30,916.20 L1980.30,915.78 L1981.30,915.36 L1982.30,914.93 L1983.30,914.58 L1984.30,914.39 L1985.30,914.20 L1986.30,914.01 L1987.30,913.82 L1988.30,913.63 L1989.30,913.44 L1990.30,913.25 L1991.30,913.06 L1992.30,912.87 L1993.30,912.68 L1994.30,912.49 L1995.30,912.30 L1996.30,912.11 L1997.30,911.92 L1998.30,911.73 L1999.30,911.65 L2000.30,911.67 L2001.30,911.69 L2002.30,911.71 L2003.30,911.73 L2004.30,911.76 L2005.30,911.78 L2006.30,911.80 L2007.30,911.82 L2008.30,911.84 L2009.30,911.86 L2010.30,911.89 L2011.30,911.91 L2012.30,911.93 L2013.30,911.95 L2014.30,911.97 L2015.30,911.99 L2016.30,912.02 L2017.30,912.04 L2018.30,912.06 L2019.30,912.08 L2020.30,912.10 L2021.30,912.12 L2022.30,912.15 L2023.30,912.17 L2024.30,912.19 L2025.30,912.21 L2026.30,912.23 L2027.30,912.35 L2028.30,912.50 L2029.30,912.66 L2030.30,912.81 L2031.30,912.97 L2032.30,913.12 L2033.30,913.28 L2034.30,913.43 L2035.30,913.59 L2036.30,913.74 L2037.30,913.90 L2038.30,914.05 L2039.30,914.21 L2040.30,914.36 L2041.30,914.52 L2042.30,914.67 L2043.30,914.83 L2044.30,914.98 L2045.30,915.14 L2046.30,915.29 L2047.30,915.45 L2048.30,915.60 L2049.30,915.76 L2050.30,915.91 L2051.30,916.07 L2052.30,916.22 L2053.30,916.38 L2054.30,916.53 L2055.30,916.57 L2056.30,916.62 L2057.30,916.66 L2058.30,916.70 L2059.30,916.74 L2060.30,916.78 L2061.30,916.82 L2062.30,916.87 L2063.30,916.91 L2064.30,916.95 L2065.30,916.99 L2066.30,917.03 L2067.30,917.07 L2068.30,917.12 L2069.30,917.16 L2070.30,917.20 L2071.30,917.24 L2072.30,917.28 L2073.30,917.32 L2074.30,917.36 L2075.30,917.41 L2076.30,917.45 L2077.30,917.49 L2078.30,917.53 L2079.30,917.55 L2080.30,917.57 L2081.30,917.59 L2082.30,917.61 L2083.30,917.63 L2084.30,917.65 L2085.30,917.68 L2086.30,917.70 L2087.30,917.72 L2088.30,917.74 L2089.30,917.76 L2090.30,917.78 L2091.30,917.80 L2092.30,917.83 L2093.30,917.85 L2094.30,917.87 L2095.30,917.89 L2096.30,917.91 L2097.30,917.93 L2098.30,917.95 L2099.30,917.97 L2100.30,917.99 L2101.30,918.02 L2102.30,918.04 L2103.30,918.06 L2104.30,918.08 L2105.30,918.10 L2106.30,918.12 L2107.30,918.14 L2108.30,918.16 L2109.30,918.18 L2110.30,918.20 L2111.30,918.22 L2112.30,918.25 L2113.30,918.27 L2114.30,918.29 L2115.30,918.31 L2116.30,918.33 L2117.30,918.35 L2118.30,918.37 L2119.30,918.39 L2120.30,918.41 L2121.30,918.43 L2122.30,918.45 L2123.30,918.47 L2124.30,918.45 L2125.30,918.41 L2126.30,918.38 L2127.30,918.34 L2128.30,918.30 L2129.30,918.26 L2130.30,918.22 L2131.30,918.19 L2132.30,918.15 L2133.30,918.11 L2134.30,918.07 L2135.30,918.03 L2136.30,918.00 L2137.30,917.96 L2138.30,917.92 L2139.30,917.88 L2140.30,917.84 L2141.30,917.80 L2142.30,917.77 L2143.30,917.73 L2144.30,917.69 L2145.30,917.65 L2146.30,917.61 L2147.30,917.57 L2148.30,917.53 L2149.30,917.49 L2150.30,917.45 L2151.30,917.41 L2152.30,917.13 L2153.30,916.85 L2154.30,916.56 L2155.30,916.28 L2156.30,915.99 L2157.30,915.68 L2158.30,915.31 L2159.30,914.94 L2160.30,914.57 L2161.30,914.21 L2162.30,913.96 L2163.30,914.80 L2164.30,915.64 L2165.30,916.48 L2166.30,917.32 L2167.30,918.16 L2168.30,918.85 L2169.30,919.19 L2170.30,919.54 L2171.30,919.88 L2172.30,920.23 L2173.30,920.57 L2174.30,920.92 L2175.30,921.26 L2176.30,921.61 L2177.30,921.88 L2178.30,921.87 L2179.30,921.87 L2180.30,921.86 L2181.30,921.85 L2182.30,921.84 L2183.30,921.83 L2184.30,921.82 L2185.30,921.81 L2186.30,921.80 L2187.30,921.79 L2188.30,921.78 L2189.30,921.76 L2190.30,921.75 L2191.30,921.74 L2192.30,921.72 L2193.30,921.71 L2194.30,921.69 L2195.30,921.68 L2196.30,921.66 L2197.30,921.64 L2198.30,921.62 L2199.30,921.60 L2200.30,921.58 L2201.30,921.56 L2202.30,921.54 L2203.30,921.51 L2204.30,921.49 L2205.30,921.46 L2206.30,921.43 L2207.30,921.40 L2208.30,921.37 L2209.30,921.33 L2210.30,921.29 L2211.30,921.26 L2212.30,921.21 L2213.30,921.17 L2214.30,921.12 L2215.30,921.07 L2216.30,921.01 L2217.30,920.95 L2218.30,920.89 L2219.30,920.82 L2220.30,920.74 L2221.30,920.66 L2222.30,920.57 L2223.30,920.48 L2224.30,920.37 L2225.30,920.25 L2226.30,920.13 L2227.30,919.99 L2228.30,919.83 L2229.30,919.66 L2230.30,919.46 L2231.30,919.24 L2232.30,919.00 L2233.30,918.72 L2234.30,918.42 L2235.30,918.07 L2236.30,917.67 L2237.30,917.21 L2238.30,916.68 L2239.30,916.07 L2240.30,915.36 L2241.30,914.51 L2242.30,913.50 L2243.30,912.29 L2244.30,910.82 L2244.80,909.97 L2245.05,909.50 L2245.30,909.01 L2245.55,908.50 L2245.80,907.95 L2246.05,907.37 L2246.30,906.76 L2246.55,906.11 L2246.80,905.42 L2247.05,904.69 L2247.30,903.91 L2247.55,903.09 L2247.80,902.21 L2248.05,901.27 L2248.30,900.27 L2248.55,899.21 L2248.80,898.07 L2249.05,896.85 L2249.30,895.55 L2249.55,894.15 L2249.80,892.66 L2250.05,891.06 L2250.30,889.35 L2250.55,887.51 L2250.80,885.53 L2251.05,883.42 L2251.30,881.15 L2251.55,878.71 L2251.80,876.11 L2252.05,873.32 L2252.30,870.35 L2252.55,867.18 L2252.80,863.82 L2253.05,860.26 L2253.30,856.51 L2253.55,852.59 L2253.80,848.52 L2254.05,844.32 L2254.30,840.05 L2254.55,835.76 L2254.80,831.53 L2255.05,827.43 L2255.30,823.56 L2255.55,820.04 L2255.80,816.96 L2256.05,814.43 L2256.30,812.55 L2256.55,811.39 L2256.80,810.99 L2257.05,812.15 L2257.30,815.53 L2257.55,820.75 L2257.80,827.25 L2258.05,834.48 L2258.30,841.93 L2258.55,849.24 L2258.80,856.16 L2259.05,862.55 L2259.30,868.35 L2259.55,873.56 L2259.80,878.19 L2260.05,882.30 L2260.30,885.93 L2260.55,889.13 L2260.80,891.96 L2261.05,894.47 L2261.30,896.68 L2261.55,898.65 L2261.80,900.40 L2262.05,901.96 L2262.30,903.35 L2262.55,904.59 L2262.80,905.71 L2263.05,906.72 L2263.30,907.62 L2263.55,908.44 L2263.80,909.18 L2264.05,909.86 L2264.30,910.47 L2264.55,911.03 L2264.80,911.53 L2265.05,912.00 L2265.30,912.42 L2265.55,912.81 L2265.80,913.17 L2266.05,913.49 L2266.30,913.80 L2266.55,914.07 L2266.80,914.33 L2267.05,914.56 L2267.30,914.78 L2267.55,914.98 L2267.80,915.17 L2268.05,915.34 L2268.30,915.50 L2268.55,915.65 L2269.30,916.02 L2270.30,916.41 L2271.30,916.69 L2272.30,916.88 L2273.30,917.02 L2274.30,917.11 L2275.30,917.16 L2276.30,917.18 L2277.30,917.17 L2278.30,917.14 L2279.30,917.25 L2280.30,917.36 L2281.30,917.46 L2282.30,917.54 L2283.30,917.62 L2284.30,917.69 L2285.30,917.75 L2286.30,917.81 L2287.30,917.86 L2288.30,917.91 L2289.30,917.96 L2290.30,918.00 L2291.30,918.03 L2292.30,918.07 L2293.30,918.10 L2294.30,918.13 L2295.30,918.16 L2296.30,918.19 L2297.30,918.23 L2298.30,918.27 L2299.30,918.31 L2300.30,918.34 L2301.30,918.38 L2302.30,918.41 L2303.30,918.44 L2304.30,918.47 L2305.30,918.50 L2306.30,918.53 L2307.30,918.56 L2308.30,918.59 L2309.30,918.62 L2310.30,918.65 L2311.30,918.68 L2312.30,918.70 L2313.30,918.73 L2314.30,918.76 L2315.30,918.78 L2316.30,918.81 L2317.30,918.83 L2318.30,918.86 L2319.30,918.88 L2320.30,918.91 L2321.30,918.93 L2322.30,918.95 L2323.30,918.98 L2324.30,919.00 L2325.30,919.02 L2326.30,919.05 L2327.30,919.07 L2328.30,919.09 L2329.30,919.12 L2330.30,919.14 L2331.30,919.16 L2332.30,919.18 L2333.30,919.20 L2334.30,919.23 L2335.30,919.25 L2336.30,919.27 L2337.30,919.29 L2338.30,919.31 L2339.30,919.34 L2340.30,919.36 L2341.30,919.38 L2342.30,919.40 L2343.30,919.42 L2344.30,919.44 L2345.30,919.46 L2346.30,919.48 L2347.30,919.50 L2348.20,919.52" stroke="#ffb8b8"/>
<path d="M1422.30,860.46 L1423.30,860.34 L1424.30,860.21 L1425.30,858.90 L1426.30,857.46 L1427.30,856.01 L1428.30,854.51 L1429.30,852.87 L1430.30,851.23 L1431.30,849.59 L1432.30,847.95 L1433.30,847.49 L1434.30,849.79 L1435.30,852.09 L1436.30,854.39 L1437.30,856.43 L1438.30,857.86 L1439.30,859.00 L1440.30,859.00 L1441.30,859.00 L1442.30,859.00 L1443.30,859.00 L1444.30,859.00 L1445.30,859.00 L1446.30,859.00 L1447.30,859.00 L1448.30,859.00 L1449.30,859.00 L1450.30,859.00 L1451.30,859.00 L1452.30,859.00 L1453.30,859.00 L1454.30,859.00 L1455.30,859.00 L1456.30,859.00 L1457.30,859.00 L1458.30,859.00 L1459.30,859.00 L1460.30,859.00 L1461.30,859.00 L1462.30,859.00 L1463.30,859.00 L1464.30,859.00 L1465.30,859.00 L1466.30,858.82 L1467.30,858.22 L1468.30,857.62 L1469.30,857.02 L1470.30,856.42 L1471.30,855.27 L1472.30,852.83 L1473.30,850.39 L1474.30,847.96 L1475.30,845.52 L1476.30,842.00 L1477.30,837.41 L1478.30,832.81 L1479.30,828.22 L1480.30,823.82 L1481.30,819.89 L1482.30,815.95 L1483.30,812.02 L1484.30,808.09 L1485.30,804.15 L1486.30,800.22 L1487.30,796.29 L1488.30,799.96 L1489.30,805.53 L1490.30,811.10 L1491.30,816.36 L1492.30,820.90 L1493.30,825.43 L1494.30,829.97 L1495.30,834.50 L1496.30,835.88 L1497.30,837.27 L1498.30,838.65 L1499.30,840.03 L1500.30,840.91 L1501.30,840.59 L1502.30,840.28 L1503.30,839.96 L1504.30,839.65 L1505.30,839.83 L1506.30,842.00 L1507.30,844.16 L1508.30,846.32 L1509.30,848.49 L1510.30,850.56 L1511.30,852.44 L1512.30,854.31 L1513.30,856.19 L1514.30,858.06 L1515.30,859.00 L1516.30,859.00 L1517.30,859.00 L1518.30,859.00 L1519.30,859.00 L1520.30,859.00 L1521.30,859.00 L1522.30,859.00 L1523.30,859.00 L1524.30,859.00 L1525.30,859.00 L1526.30,859.00 L1527.30,859.00 L1528.30,859.00 L1529.30,859.00 L1530.30,859.00 L1531.30,859.00 L1532.30,859.00 L1533.30,859.00 L1534.30,859.00 L1535.30,859.00 L1536.30,859.00 L1537.30,858.67 L1538.30,858.01 L1539.30,857.34 L1540.30,856.68 L1541.30,856.02 L1542.30,855.36 L1543.30,854.70 L1544.30,854.17 L1545.30,854.84 L1546.30,855.51 L1547.30,856.18 L1548.30,856.86 L1549.30,857.53 L1550.30,858.10 L1551.30,858.45 L1552.30,858.79 L1553.30,859.13 L1554.30,859.48 L1555.30,859.82 L1556.30,860.17 L1557.30,859.85 L1558.30,859.45 L1559.30,859.06 L1560.30,858.67 L1561.30,858.28 L1562.30,857.71 L1563.30,856.76 L1564.30,855.80 L1565.30,854.85 L1566.30,853.90 L1567.30,852.94 L1568.30,851.99 L1569.30,850.16 L1570.30,847.95 L1571.30,845.75 L1572.30,843.54 L1573.30,841.45 L1574.30,839.62 L1575.30,837.78 L1576.30,835.95 L1577.30,834.12 L1578.30,832.28 L1579.30,833.45 L1580.30,834.95 L1581.30,836.45 L1582.30,837.95 L1583.30,839.45 L1584.30,840.95 L1585.30,842.45 L1586.30,843.97 L1587.30,845.48 L1588.30,846.99 L1589.30,848.50 L1590.30,850.02 L1591.30,851.53 L1592.30,853.04 L1593.30,854.10 L1594.30,854.10 L1595.30,854.10 L1596.30,854.10 L1597.30,854.10 L1598.30,854.10 L1599.30,854.10 L1600.30,854.10 L1601.30,854.10 L1602.30,854.10 L1603.30,854.10 L1604.30,854.10 L1605.30,854.10 L1606.30,854.10 L1607.30,854.10 L1608.30,853.84 L1609.30,853.40 L1610.30,852.97 L1611.30,852.53 L1612.30,852.10 L1613.30,851.66 L1614.30,851.23 L1615.30,850.79 L1616.30,850.50 L1617.30,851.47 L1618.30,852.45 L1619.30,853.42 L1620.30,854.40 L1621.30,855.37 L1622.30,856.34 L1623.30,857.32 L1624.30,858.24 L1625.30,859.05 L1626.30,859.86 L1627.30,860.66 L1628.30,861.47 L1629.30,862.28 L1630.30,862.64 L1631.30,862.71 L1632.30,862.78 L1633.30,862.85 L1634.30,862.92 L1635.30,863.00 L1636.30,863.07 L1637.30,863.14 L1638.30,863.21 L1639.30,863.28 L1640.30,863.34 L1641.30,863.41 L1642.30,863.48 L1643.30,863.55 L1644.30,863.62 L1645.30,863.69 L1646.30,863.76 L1647.30,863.83 L1648.30,863.90 L1649.30,863.97 L1650.30,864.03 L1651.30,864.10 L1652.30,864.17 L1653.30,864.24 L1654.30,864.31 L1655.30,864.37 L1656.30,864.44 L1657.30,864.51 L1658.30,864.57 L1659.30,864.64 L1660.30,864.71 L1661.30,864.77 L1662.30,864.84 L1663.30,864.90 L1664.30,864.97 L1665.30,865.03 L1666.30,865.10 L1667.30,865.07 L1668.30,865.04 L1669.30,865.00 L1670.30,864.97 L1671.30,864.94 L1672.30,864.90 L1673.30,864.87 L1674.30,864.84 L1675.30,864.80 L1676.30,864.77 L1677.30,864.73 L1678.30,864.70 L1679.30,864.66 L1680.30,864.63 L1681.30,864.59 L1682.30,864.56 L1683.30,864.52 L1684.30,864.48 L1685.30,864.44 L1686.30,864.41 L1687.30,864.37 L1688.30,864.33 L1689.30,864.29 L1690.30,864.25 L1691.30,864.21 L1692.30,864.17 L1693.30,864.13 L1694.30,864.08 L1695.30,864.04 L1696.30,864.00 L1697.30,863.95 L1698.30,863.91 L1699.30,863.86 L1700.30,863.82 L1701.30,863.77 L1702.30,863.72 L1703.30,863.68 L1704.30,863.63 L1705.30,863.58 L1706.30,863.53 L1707.30,863.48 L1708.30,863.42 L1709.30,863.37 L1710.30,863.32 L1711.30,863.26 L1712.30,863.21 L1713.30,863.15 L1714.30,863.09 L1715.30,863.03 L1716.30,862.97 L1717.30,862.91 L1718.30,862.85 L1719.30,862.78 L1720.30,862.72 L1721.30,862.65 L1722.30,862.61 L1723.30,862.62 L1724.30,862.64 L1725.30,862.65 L1726.30,862.66 L1727.30,862.67 L1728.30,862.68 L1729.30,862.68 L1730.30,862.69 L1731.30,862.69 L1732.30,862.69 L1733.30,862.68 L1734.30,862.67 L1735.30,862.67 L1736.30,862.65 L1737.30,862.64 L1738.30,862.62 L1739.30,862.26 L1740.30,860.58 L1741.30,858.88 L1742.30,857.19 L1743.30,855.19 L1744.30,852.49 L1745.30,849.78 L1746.30,847.07 L1747.30,848.95 L1748.30,851.33 L1749.30,853.30 L1750.30,854.31 L1751.30,855.31 L1752.30,856.30 L1753.30,853.88 L1754.30,850.60 L1755.30,847.31 L1756.30,844.25 L1757.30,841.74 L1758.30,839.22 L1759.30,836.69 L1760.30,834.14 L1761.30,832.35 L1762.30,833.58 L1763.30,834.80 L1764.30,836.00 L1765.30,837.18 L1766.30,838.44 L1767.30,839.88 L1768.30,841.30 L1769.30,842.70 L1770.30,844.07 L1771.30,845.41 L1772.30,846.72 L1773.30,848.00 L1774.30,847.31 L1775.30,846.57 L1776.30,845.79 L1777.30,844.96 L1778.30,844.07 L1779.30,843.12 L1780.30,842.11 L1781.30,840.88 L1782.30,839.55 L1783.30,838.12 L1784.30,836.59 L1785.30,834.94 L1786.30,833.15 L1787.30,831.20 L1788.30,829.07 L1789.30,826.74 L1790.30,824.41 L1791.30,821.90 L1792.30,819.07 L1793.30,815.87 L1794.30,812.24 L1795.30,808.09 L1796.30,803.34 L1797.30,797.85 L1798.30,791.49 L1799.30,784.06 L1800.30,775.32 L1801.30,764.99 L1802.30,752.68 L1803.00,742.63 L1803.25,738.71 L1803.30,737.90 L1803.50,734.60 L1803.75,730.29 L1804.00,725.77 L1804.25,721.02 L1804.30,720.04 L1804.50,716.03 L1804.75,710.80 L1805.00,705.29 L1805.25,699.51 L1805.30,698.32 L1805.50,693.43 L1805.75,687.03 L1806.00,680.30 L1806.25,673.22 L1806.30,671.76 L1806.50,665.77 L1806.75,657.93 L1807.00,649.69 L1807.25,641.01 L1807.30,639.22 L1807.50,631.88 L1807.75,622.29 L1808.00,612.20 L1808.25,601.61 L1808.30,599.43 L1808.50,590.50 L1808.75,578.85 L1809.00,566.65 L1809.25,553.89 L1809.30,551.28 L1809.50,540.58 L1809.75,526.72 L1810.00,512.32 L1810.25,497.40 L1810.30,494.36 L1810.50,482.00 L1810.75,466.16 L1811.00,449.95 L1811.25,433.45 L1811.30,430.12 L1811.50,416.74 L1811.75,399.96 L1812.00,383.24 L1812.25,366.73 L1812.30,363.47 L1812.50,350.62 L1812.75,335.11 L1813.00,320.40 L1813.25,306.71 L1813.30,304.11 L1813.50,294.27 L1813.75,283.30 L1814.00,273.99 L1814.25,266.55 L1814.30,265.30 L1814.50,261.12 L1814.75,257.81 L1815.00,256.71 L1815.25,260.36 L1815.30,261.95 L1815.50,271.03 L1815.75,287.98 L1816.00,310.13 L1816.25,336.19 L1816.30,341.76 L1816.50,364.86 L1816.75,394.91 L1817.00,425.33 L1817.25,455.30 L1817.30,461.18 L1817.50,484.22 L1817.75,511.70 L1818.00,537.49 L1818.25,561.49 L1818.30,566.07 L1818.50,583.66 L1818.75,604.04 L1819.00,622.72 L1819.25,639.79 L1819.30,643.02 L1819.50,655.38 L1819.75,669.59 L1820.00,682.56 L1820.25,694.38 L1820.30,696.62 L1820.50,705.18 L1820.75,715.05 L1821.00,724.07 L1821.25,732.33 L1821.30,733.90 L1821.50,739.91 L1821.75,746.87 L1822.00,753.27 L1822.25,759.16 L1822.30,760.28 L1822.50,764.60 L1822.75,769.62 L1823.00,774.26 L1823.25,778.56 L1823.30,779.39 L1823.50,782.56 L1823.75,786.27 L1824.00,789.72 L1824.25,792.94 L1824.30,793.55 L1824.50,795.94 L1824.75,798.74 L1825.00,801.36 L1825.25,803.82 L1825.30,804.29 L1825.50,806.12 L1825.75,808.29 L1826.00,810.32 L1826.25,812.23 L1826.30,812.60 L1826.50,814.03 L1826.75,815.73 L1827.30,819.15 L1828.30,824.39 L1829.30,828.65 L1830.30,832.15 L1831.30,835.07 L1832.30,837.53 L1833.30,839.61 L1834.30,841.40 L1835.30,842.94 L1836.30,844.29 L1837.30,845.46 L1838.30,846.50 L1839.30,847.42 L1840.30,848.25 L1841.30,849.03 L1842.30,849.74 L1843.30,850.39 L1844.30,850.98 L1845.30,851.52 L1846.30,852.02 L1847.30,852.48 L1848.30,852.91 L1849.30,853.31 L1850.30,853.68 L1851.30,854.03 L1852.30,853.84 L1853.30,853.50 L1854.30,853.14 L1855.30,852.77 L1856.30,852.38 L1857.30,851.98 L1858.30,851.57 L1859.30,851.15 L1860.30,850.72 L1861.30,850.28 L1862.30,849.84 L1863.30,849.38 L1864.30,849.22 L1865.30,849.25 L1866.30,849.27 L1867.30,849.28 L1868.30,849.29 L1869.30,849.30 L1870.30,849.30 L1871.30,849.30 L1872.30,849.30 L1873.30,849.29 L1874.30,849.28 L1875.30,849.26 L1876.30,849.24 L1877.30,849.22 L1878.30,849.20 L1879.30,849.55 L1880.30,849.94 L1881.30,850.32 L1882.30,850.71 L1883.30,851.09 L1884.30,851.47 L1885.30,851.85 L1886.30,852.22 L1887.30,852.60 L1888.30,852.55 L1889.30,850.81 L1890.30,849.07 L1891.30,847.33 L1892.30,845.59 L1893.30,843.84 L1894.30,842.10 L1895.30,840.35 L1896.30,837.33 L1897.30,834.00 L1898.30,830.67 L1899.30,827.33 L1900.30,824.05 L1901.30,820.88 L1902.30,817.71 L1903.30,814.54 L1904.30,811.37 L1905.30,813.35 L1906.30,818.78 L1907.30,824.20 L1908.30,829.62 L1909.30,835.04 L1910.30,840.45 L1911.30,845.86 L1912.30,851.28 L1913.30,852.95 L1914.30,853.02 L1915.30,853.10 L1916.30,853.17 L1917.30,853.24 L1918.30,853.31 L1919.30,853.38 L1920.30,853.45 L1921.30,853.52 L1922.30,853.59 L1923.30,853.66 L1924.30,853.73 L1925.30,853.80 L1926.30,853.87 L1927.30,853.94 L1928.30,854.00 L1929.30,854.07 L1930.30,853.84 L1931.30,853.41 L1932.30,852.98 L1933.30,852.55 L1934.30,852.11 L1935.30,851.68 L1936.30,851.25 L1937.30,850.81 L1938.30,850.38 L1939.30,849.95 L1940.30,849.51 L1941.30,849.08 L1942.30,848.65 L1943.30,848.21 L1944.30,847.78 L1945.30,847.35 L1946.30,846.91 L1947.30,846.48 L1948.30,846.04 L1949.30,845.61 L1950.30,845.17 L1951.30,844.74 L1952.30,844.30 L1953.30,843.87 L1954.30,843.43 L1955.30,843.00 L1956.30,842.56 L1957.30,842.13 L1958.30,841.69 L1959.30,841.25 L1960.30,840.82 L1961.30,840.38 L1962.30,839.95 L1963.30,839.51 L1964.30,839.07 L1965.30,838.64 L1966.30,838.20 L1967.30,837.27 L1968.30,836.34 L1969.30,835.41 L1970.30,834.48 L1971.30,833.55 L1972.30,832.62 L1973.30,831.69 L1974.30,830.76 L1975.30,829.83 L1976.30,828.90 L1977.30,827.97 L1978.30,827.04 L1979.30,826.11 L1980.30,825.18 L1981.30,824.25 L1982.30,823.32 L1983.30,822.39 L1984.30,822.01 L1985.30,821.68 L1986.30,821.35 L1987.30,821.02 L1988.30,820.70 L1989.30,820.37 L1990.30,820.04 L1991.30,819.72 L1992.30,819.39 L1993.30,819.06 L1994.30,818.73 L1995.30,819.30 L1996.30,819.96 L1997.30,820.63 L1998.30,821.29 L1999.30,821.95 L2000.30,822.62 L2001.30,823.28 L2002.30,823.94 L2003.30,824.61 L2004.30,825.27 L2005.30,825.93 L2006.30,826.20 L2007.30,826.42 L2008.30,826.65 L2009.30,826.87 L2010.30,827.09 L2011.30,827.32 L2012.30,827.54 L2013.30,827.76 L2014.30,827.99 L2015.30,828.21 L2016.30,828.43 L2017.30,828.65 L2018.30,828.88 L2019.30,829.10 L2020.30,829.32 L2021.30,829.54 L2022.30,829.81 L2023.30,830.19 L2024.30,830.56 L2025.30,830.94 L2026.30,831.31 L2027.30,831.68 L2028.30,832.06 L2029.30,832.43 L2030.30,832.81 L2031.30,833.18 L2032.30,833.55 L2033.30,833.93 L2034.30,834.30 L2035.30,834.67 L2036.30,835.05 L2037.30,835.42 L2038.30,835.80 L2039.30,836.17 L2040.30,836.54 L2041.30,836.92 L2042.30,837.29 L2043.30,837.66 L2044.30,837.70 L2045.30,837.70 L2046.30,837.70 L2047.30,837.70 L2048.30,837.71 L2049.30,837.71 L2050.30,837.71 L2051.30,837.71 L2052.30,837.71 L2053.30,837.71 L2054.30,837.71 L2055.30,837.71 L2056.30,837.71 L2057.30,837.71 L2058.30,837.71 L2059.30,837.71 L2060.30,837.71 L2061.30,837.71 L2062.30,837.71 L2063.30,837.71 L2064.30,837.71 L2065.30,837.71 L2066.30,837.71 L2067.30,837.71 L2068.30,837.71 L2069.30,837.71 L2070.30,837.71 L2071.30,837.71 L2072.30,837.71 L2073.30,837.71 L2074.30,837.70 L2075.30,837.70 L2076.30,837.70 L2077.30,837.70 L2078.30,837.46 L2079.30,836.25 L2080.30,835.05 L2081.30,833.84 L2082.30,832.74 L2083.30,831.89 L2084.30,831.04 L2085.30,830.19 L2086.30,829.34 L2087.30,828.49 L2088.30,829.10 L2089.30,829.89 L2090.30,830.67 L2091.30,831.45 L2092.30,832.03 L2093.30,832.11 L2094.30,832.19 L2095.30,832.28 L2096.30,832.36 L2097.30,831.96 L2098.30,831.07 L2099.30,830.18 L2100.30,829.29 L2101.30,828.40 L2102.30,827.51 L2103.30,826.62 L2104.30,825.72 L2105.30,824.81 L2106.30,823.89 L2107.30,822.97 L2108.30,822.05 L2109.30,821.13 L2110.30,820.62 L2111.30,821.72 L2112.30,822.82 L2113.30,823.93 L2114.30,825.03 L2115.30,826.13 L2116.30,827.23 L2117.30,828.32 L2118.30,829.40 L2119.30,830.48 L2120.30,831.56 L2121.30,832.63 L2122.30,833.71 L2123.30,834.78 L2124.30,835.64 L2125.30,836.45 L2126.30,837.25 L2127.30,838.06 L2128.30,838.86 L2129.30,839.67 L2130.30,840.47 L2131.30,841.27 L2132.30,842.08 L2133.30,842.88 L2134.30,843.59 L2135.30,843.51 L2136.30,843.43 L2137.30,843.35 L2138.30,843.27 L2139.30,843.19 L2140.30,843.11 L2141.30,843.02 L2142.30,842.94 L2143.30,842.86 L2144.30,842.77 L2145.30,842.69 L2146.30,842.60 L2147.30,842.52 L2148.30,841.56 L2149.30,840.38 L2150.30,839.19 L2151.30,838.01 L2152.30,836.83 L2153.30,835.52 L2154.30,833.90 L2155.30,832.29 L2156.30,830.67 L2157.30,828.19 L2158.30,824.42 L2159.30,820.64 L2160.30,817.43 L2161.30,815.53 L2162.30,813.63 L2163.30,813.57 L2164.30,817.80 L2165.30,822.04 L2166.30,826.29 L2167.30,830.61 L2168.30,834.92 L2169.30,839.22 L2170.30,843.15 L2171.30,843.64 L2172.30,844.13 L2173.30,844.62 L2174.30,845.10 L2175.30,845.59 L2176.30,846.07 L2177.30,846.55 L2178.30,847.02 L2179.30,847.50 L2180.30,847.97 L2181.30,848.43 L2182.30,848.90 L2183.30,848.91 L2184.30,848.91 L2185.30,848.91 L2186.30,848.91 L2187.30,848.90 L2188.30,848.89 L2189.30,848.88 L2190.30,848.86 L2191.30,848.83 L2192.30,848.80 L2193.30,848.77 L2194.30,848.73 L2195.30,848.68 L2196.30,848.63 L2197.30,848.56 L2198.30,848.50 L2199.30,848.42 L2200.30,848.33 L2201.30,848.24 L2202.30,848.13 L2203.30,848.01 L2204.30,847.89 L2205.30,847.75 L2206.30,847.59 L2207.30,847.42 L2208.30,847.24 L2209.30,847.07 L2210.30,846.97 L2211.30,846.85 L2212.30,846.70 L2213.30,846.54 L2214.30,846.34 L2215.30,846.12 L2216.30,845.86 L2217.30,845.57 L2218.30,845.25 L2219.30,844.88 L2220.30,844.46 L2221.30,843.99 L2222.30,843.46 L2223.30,842.87 L2224.30,842.21 L2225.30,841.29 L2226.30,839.87 L2227.30,838.35 L2228.30,836.71 L2229.30,834.94 L2230.30,833.01 L2231.30,830.91 L2232.30,828.60 L2233.30,826.06 L2234.30,823.24 L2235.30,820.10 L2236.30,816.58 L2237.30,812.60 L2238.30,808.08 L2239.30,802.91 L2240.30,796.95 L2241.30,790.02 L2242.30,781.89 L2243.30,772.27 L2244.30,760.79 L2244.80,754.20 L2245.05,750.66 L2245.30,746.94 L2245.55,743.04 L2245.80,738.93 L2246.05,734.62 L2246.30,730.08 L2246.55,725.30 L2246.80,720.26 L2247.05,714.95 L2247.30,709.35 L2247.55,703.44 L2247.80,697.20 L2248.05,690.61 L2248.30,683.64 L2248.55,676.28 L2248.80,668.50 L2249.05,660.27 L2249.30,651.56 L2249.55,642.35 L2249.80,632.62 L2250.05,622.32 L2250.30,611.43 L2250.55,599.94 L2250.80,587.80 L2251.05,575.00 L2251.30,561.52 L2251.55,547.35 L2251.80,532.48 L2252.05,516.91 L2252.30,500.66 L2252.55,483.76 L2252.80,466.26 L2253.05,448.22 L2253.30,429.73 L2253.55,410.92 L2253.80,391.93 L2254.05,372.95 L2254.30,354.18 L2254.55,335.88 L2254.80,318.31 L2255.05,301.78 L2255.30,286.58 L2255.55,273.04 L2255.80,261.46 L2256.05,252.10 L2256.30,245.21 L2256.55,240.96 L2256.80,239.47 L2257.05,242.83 L2257.30,252.88 L2257.55,268.95 L2257.80,290.06 L2258.05,315.03 L2258.30,342.67 L2258.55,371.82 L2258.80,401.50 L2259.05,430.93 L2259.30,459.50 L2259.55,486.79 L2259.80,512.54 L2260.05,536.61 L2260.30,558.95 L2260.55,579.57 L2260.80,598.53 L2261.05,615.92 L2261.30,631.84 L2261.55,646.40 L2261.80,659.70 L2262.05,671.86 L2262.30,682.98 L2262.55,693.15 L2262.80,702.46 L2263.05,710.99 L2263.30,718.82 L2263.55,726.01 L2263.80,732.63 L2264.05,738.72 L2264.30,744.34 L2264.55,749.53 L2264.80,754.32 L2265.05,758.76 L2265.30,762.88 L2265.55,766.70 L2265.80,770.25 L2266.05,773.55 L2266.30,776.63 L2266.55,779.50 L2266.80,782.17 L2267.05,784.68 L2267.30,787.02 L2267.55,789.22 L2267.80,791.27 L2268.05,793.20 L2268.30,795.02 L2268.55,796.72 L2269.30,801.26 L2270.30,806.20 L2271.30,810.14 L2272.30,813.33 L2273.30,815.92 L2274.30,818.04 L2275.30,819.79 L2276.30,821.23 L2277.30,822.41 L2278.30,823.39 L2279.30,824.20 L2280.30,824.87 L2281.30,825.41 L2282.30,825.85 L2283.30,826.20 L2284.30,826.47 L2285.30,826.68 L2286.30,826.83 L2287.30,826.93 L2288.30,826.98 L2289.30,826.99 L2290.30,826.92 L2291.30,826.81 L2292.30,826.68 L2293.30,826.53 L2294.30,826.35 L2295.30,826.15 L2296.30,825.94 L2297.30,825.71 L2298.30,825.46 L2299.30,825.21 L2300.30,824.94 L2301.30,824.66 L2302.30,824.36 L2303.30,824.07 L2304.30,823.76 L2305.30,823.44 L2306.30,823.12 L2307.30,822.79 L2308.30,822.46 L2309.30,822.12 L2310.30,821.77 L2311.30,821.67 L2312.30,821.62 L2313.30,821.57 L2314.30,821.52 L2315.30,821.46 L2316.30,821.40 L2317.30,821.34 L2318.30,821.27 L2319.30,821.20 L2320.30,821.13 L2321.30,821.06 L2322.30,820.98 L2323.30,820.90 L2324.30,820.82 L2325.30,820.74 L2326.30,820.65 L2327.30,820.57 L2328.30,820.48 L2329.30,820.35 L2330.30,819.86 L2331.30,819.36 L2332.30,818.86 L2333.30,818.37 L2334.30,817.87 L2335.30,817.37 L2336.30,816.86 L2337.30,816.36 L2338.30,815.86 L2339.30,815.35 L2340.30,814.81 L2341.30,814.19 L2342.30,813.57 L2343.30,812.94 L2344.30,812.32 L2345.30,811.69 L2346.30,811.07 L2347.30,810.44 L2348.20,810.00" stroke="#ff6b6b"/>
<path d="M1422.30,701.93 L1423.30,701.68 L1424.30,701.43 L1425.30,700.30 L1426.30,699.08 L1427.30,697.86 L1428.30,696.60 L1429.30,695.28 L1430.30,693.96 L1431.30,692.64 L1432.30,691.32 L1433.30,690.97 L1434.30,692.87 L1435.30,694.77 L1436.30,696.67 L1437.30,698.49 L1438.30,700.10 L1439.30,701.40 L1440.30,701.40 L1441.30,701.40 L1442.30,701.40 L1443.30,701.40 L1444.30,701.40 L1445.30,701.40 L1446.30,701.40 L1447.30,701.40 L1448.30,701.40 L1449.30,701.40 L1450.30,701.40 L1451.30,701.40 L1452.30,701.40 L1453.30,701.40 L1454.30,701.40 L1455.30,701.40 L1456.30,701.40 L1457.30,701.40 L1458.30,701.40 L1459.30,701.40 L1460.30,701.40 L1461.30,701.40 L1462.30,701.40 L1463.30,701.40 L1464.30,701.40 L1465.30,701.40 L1466.30,701.26 L1467.30,700.78 L1468.30,700.30 L1469.30,699.82 L1470.30,699.34 L1471.30,698.46 L1472.30,696.67 L1473.30,694.88 L1474.30,693.09 L1475.30,691.30 L1476.30,688.57 L1477.30,684.90 L1478.30,681.23 L1479.30,677.57 L1480.30,673.65 L1481.30,669.17 L1482.30,664.69 L1483.30,660.49 L1484.30,657.42 L1485.30,654.35 L1486.30,651.28 L1487.30,648.21 L1488.30,649.97 L1489.30,652.93 L1490.30,656.14 L1491.30,659.93 L1492.30,663.72 L1493.30,667.73 L1494.30,672.04 L1495.30,676.35 L1496.30,680.66 L1497.30,684.98 L1498.30,687.04 L1499.30,687.60 L1500.30,687.71 L1501.30,686.75 L1502.30,685.79 L1503.30,684.83 L1504.30,683.87 L1505.30,683.46 L1506.30,685.28 L1507.30,687.10 L1508.30,688.91 L1509.30,690.73 L1510.30,692.51 L1511.30,694.22 L1512.30,695.93 L1513.30,697.64 L1514.30,699.35 L1515.30,700.23 L1516.30,700.28 L1517.30,700.34 L1518.30,700.39 L1519.30,700.45 L1520.30,700.50 L1521.30,700.56 L1522.30,700.61 L1523.30,700.66 L1524.30,700.72 L1525.30,700.77 L1526.30,700.83 L1527.30,700.88 L1528.30,700.94 L1529.30,700.99 L1530.30,701.05 L1531.30,701.10 L1532.30,701.16 L1533.30,701.21 L1534.30,701.26 L1535.30,701.32 L1536.30,701.37 L1537.30,701.07 L1538.30,700.41 L1539.30,699.74 L1540.30,699.08 L1541.30,698.42 L1542.30,697.76 L1543.30,697.10 L1544.30,696.56 L1545.30,697.16 L1546.30,697.77 L1547.30,698.37 L1548.30,698.97 L1549.30,699.58 L1550.30,700.07 L1551.30,700.28 L1552.30,700.50 L1553.30,700.72 L1554.30,700.94 L1555.30,701.16 L1556.30,701.38 L1557.30,701.01 L1558.30,700.59 L1559.30,700.16 L1560.30,699.73 L1561.30,699.30 L1562.30,698.72 L1563.30,697.78 L1564.30,696.84 L1565.30,695.90 L1566.30,694.96 L1567.30,694.02 L1568.30,693.08 L1569.30,691.40 L1570.30,689.40 L1571.30,687.40 L1572.30,685.40 L1573.30,683.58 L1574.30,682.16 L1575.30,680.75 L1576.30,679.33 L1577.30,678.44 L1578.30,679.62 L1579.30,680.80 L1580.30,681.99 L1581.30,683.17 L1582.30,684.31 L1583.30,685.36 L1584.30,686.41 L1585.30,687.46 L1586.30,688.51 L1587.30,689.56 L1588.30,690.58 L1589.30,691.45 L1590.30,692.33 L1591.30,693.21 L1592.30,694.09 L1593.30,694.96 L1594.30,695.84 L1595.30,696.72 L1596.30,697.60 L1597.30,698.47 L1598.30,698.95 L1599.30,698.81 L1600.30,698.68 L1601.30,698.55 L1602.30,698.42 L1603.30,698.28 L1604.30,698.15 L1605.30,698.02 L1606.30,697.89 L1607.30,697.75 L1608.30,697.45 L1609.30,697.02 L1610.30,696.60 L1611.30,696.18 L1612.30,695.75 L1613.30,695.33 L1614.30,694.91 L1615.30,694.48 L1616.30,694.18 L1617.30,694.93 L1618.30,695.69 L1619.30,696.45 L1620.30,697.20 L1621.30,697.96 L1622.30,698.71 L1623.30,699.47 L1624.30,700.14 L1625.30,700.59 L1626.30,701.05 L1627.30,701.51 L1628.30,701.96 L1629.30,702.42 L1630.30,702.62 L1631.30,702.65 L1632.30,702.69 L1633.30,702.72 L1634.30,702.75 L1635.30,702.79 L1636.30,702.82 L1637.30,702.85 L1638.30,702.88 L1639.30,702.92 L1640.30,702.95 L1641.30,702.98 L1642.30,703.01 L1643.30,703.04 L1644.30,703.08 L1645.30,703.11 L1646.30,703.14 L1647.30,703.17 L1648.30,703.20 L1649.30,703.23 L1650.30,703.26 L1651.30,703.30 L1652.30,703.33 L1653.30,703.36 L1654.30,703.39 L1655.30,703.42 L1656.30,703.45 L1657.30,703.48 L1658.30,703.51 L1659.30,703.54 L1660.30,703.57 L1661.30,703.59 L1662.30,703.62 L1663.30,703.65 L1664.30,703.68 L1665.30,703.71 L1666.30,703.74 L1667.30,703.76 L1668.30,703.79 L1669.30,703.82 L1670.30,703.85 L1671.30,703.87 L1672.30,703.90 L1673.30,703.93 L1674.30,703.95 L1675.30,703.98 L1676.30,704.00 L1677.30,704.03 L1678.30,704.05 L1679.30,704.08 L1680.30,704.10 L1681.30,704.12 L1682.30,704.15 L1683.30,704.17 L1684.30,704.19 L1685.30,704.22 L1686.30,704.24 L1687.30,704.26 L1688.30,704.28 L1689.30,704.30 L1690.30,704.32 L1691.30,704.34 L1692.30,704.36 L1693.30,704.38 L1694.30,704.40 L1695.30,704.41 L1696.30,704.43 L1697.30,704.45 L1698.30,704.46 L1699.30,704.48 L1700.30,704.49 L1701.30,704.51 L1702.30,704.52 L1703.30,704.53 L1704.30,704.54 L1705.30,704.56 L1706.30,704.57 L1707.30,704.58 L1708.30,704.58 L1709.30,704.59 L1710.30,704.60 L1711.30,704.61 L1712.30,704.61 L1713.30,704.61 L1714.30,704.62 L1715.30,704.62 L1716.30,704.62 L1717.30,704.62 L1718.30,704.62 L1719.30,704.61 L1720.30,704.61 L1721.30,704.60 L1722.30,704.59 L1723.30,704.56 L1724.30,704.53 L1725.30,704.49 L1726.30,704.46 L1727.30,704.42 L1728.30,704.38 L1729.30,704.34 L1730.30,704.29 L1731.30,704.25 L1732.30,704.20 L1733.30,704.15 L1734.30,704.09 L1735.30,704.04 L1736.30,703.98 L1737.30,703.92 L1738.30,703.85 L1739.30,703.50 L1740.30,702.02 L1741.30,700.54 L1742.30,699.05 L1743.30,697.12 L1744.30,694.18 L1745.30,691.24 L1746.30,688.29 L1747.30,690.77 L1748.30,693.85 L1749.30,696.26 L1750.30,697.12 L1751.30,697.98 L1752.30,698.83 L1753.30,696.95 L1754.30,694.38 L1755.30,691.81 L1756.30,689.19 L1757.30,686.48 L1758.30,683.77 L1759.30,681.04 L1760.30,679.77 L1761.30,680.70 L1762.30,681.61 L1763.30,682.51 L1764.30,683.39 L1765.30,684.26 L1766.30,685.11 L1767.30,685.94 L1768.30,686.74 L1769.30,687.53 L1770.30,688.29 L1771.30,689.02 L1772.30,689.73 L1773.30,690.40 L1774.30,689.36 L1775.30,688.28 L1776.30,687.15 L1777.30,685.98 L1778.30,684.76 L1779.30,683.48 L1780.30,682.14 L1781.30,680.85 L1782.30,679.50 L1783.30,678.05 L1784.30,676.51 L1785.30,674.85 L1786.30,673.06 L1787.30,671.13 L1788.30,669.02 L1789.30,666.73 L1790.30,664.55 L1791.30,662.25 L1792.30,659.65 L1793.30,656.71 L1794.30,653.36 L1795.30,649.53 L1796.30,645.13 L1797.30,640.04 L1798.30,634.13 L1799.30,627.21 L1800.30,619.08 L1801.30,609.44 L1802.30,597.95 L1803.00,588.55 L1803.25,584.89 L1803.30,584.14 L1803.50,581.05 L1803.75,577.02 L1804.00,572.79 L1804.25,568.35 L1804.30,567.44 L1804.50,563.69 L1804.75,558.79 L1805.00,553.64 L1805.25,548.23 L1805.30,547.11 L1805.50,542.54 L1805.75,536.55 L1806.00,530.25 L1806.25,523.62 L1806.30,522.25 L1806.50,516.64 L1806.75,509.30 L1807.00,501.58 L1807.25,493.45 L1807.30,491.78 L1807.50,484.90 L1807.75,475.91 L1808.00,466.47 L1808.25,456.54 L1808.30,454.50 L1808.50,446.13 L1808.75,435.21 L1809.00,423.78 L1809.25,411.83 L1809.30,409.37 L1809.50,399.35 L1809.75,386.36 L1810.00,372.86 L1810.25,358.87 L1810.30,356.02 L1810.50,344.44 L1810.75,329.59 L1811.00,314.40 L1811.25,298.92 L1811.30,295.80 L1811.50,283.27 L1811.75,267.53 L1812.00,251.86 L1812.25,236.38 L1812.30,233.33 L1812.50,221.28 L1812.75,206.74 L1813.00,192.95 L1813.25,180.12 L1813.30,177.69 L1813.50,168.46 L1813.75,158.18 L1814.00,149.47 L1814.25,142.50 L1814.30,141.32 L1814.50,137.41 L1814.75,134.33 L1815.00,133.31 L1815.25,136.75 L1815.30,138.24 L1815.50,146.77 L1815.75,162.70 L1816.00,183.49 L1816.25,207.96 L1816.30,213.19 L1816.50,234.87 L1816.75,263.09 L1817.00,291.64 L1817.25,319.78 L1817.30,325.30 L1817.50,346.93 L1817.75,372.73 L1818.00,396.95 L1818.25,419.48 L1818.30,423.78 L1818.50,440.30 L1818.75,459.44 L1819.00,476.98 L1819.25,493.01 L1819.30,496.05 L1819.50,507.65 L1819.75,521.01 L1820.00,533.19 L1820.25,544.30 L1820.30,546.40 L1820.50,554.45 L1820.75,563.72 L1821.00,572.20 L1821.25,579.97 L1821.30,581.44 L1821.50,587.09 L1821.75,593.63 L1822.00,599.65 L1822.25,605.20 L1822.30,606.25 L1822.50,610.31 L1822.75,615.04 L1823.00,619.41 L1823.25,623.46 L1823.30,624.24 L1823.50,627.22 L1823.75,630.72 L1824.00,633.97 L1824.25,637.01 L1824.30,637.59 L1824.50,639.84 L1824.75,642.48 L1825.00,644.96 L1825.25,647.28 L1825.30,647.73 L1825.50,649.46 L1825.75,651.50 L1826.00,653.42 L1826.25,655.23 L1826.30,655.58 L1826.50,656.94 L1826.75,658.55 L1827.30,661.78 L1828.30,666.76 L1829.30,670.81 L1830.30,674.16 L1831.30,676.96 L1832.30,679.32 L1833.30,681.34 L1834.30,683.07 L1835.30,684.58 L1836.30,685.90 L1837.30,687.06 L1838.30,688.09 L1839.30,689.01 L1840.30,689.87 L1841.30,690.70 L1842.30,691.47 L1843.30,692.18 L1844.30,692.83 L1845.30,693.44 L1846.30,694.01 L1847.30,694.55 L1848.30,695.05 L1849.30,695.53 L1850.30,695.98 L1851.30,696.42 L1852.30,696.26 L1853.30,695.95 L1854.30,695.62 L1855.30,695.28 L1856.30,694.93 L1857.30,694.56 L1858.30,694.18 L1859.30,693.80 L1860.30,693.40 L1861.30,693.00 L1862.30,692.59 L1863.30,692.17 L1864.30,692.00 L1865.30,692.00 L1866.30,691.99 L1867.30,691.98 L1868.30,691.96 L1869.30,691.94 L1870.30,691.92 L1871.30,691.89 L1872.30,691.86 L1873.30,691.82 L1874.30,691.78 L1875.30,691.74 L1876.30,691.70 L1877.30,691.65 L1878.30,691.60 L1879.30,691.95 L1880.30,692.34 L1881.30,692.72 L1882.30,693.11 L1883.30,693.49 L1884.30,693.87 L1885.30,694.25 L1886.30,694.62 L1887.30,695.00 L1888.30,695.04 L1889.30,693.71 L1890.30,692.39 L1891.30,691.07 L1892.30,689.74 L1893.30,688.42 L1894.30,687.09 L1895.30,685.77 L1896.30,682.75 L1897.30,679.30 L1898.30,675.86 L1899.30,672.41 L1900.30,669.20 L1901.30,666.52 L1902.30,663.84 L1903.30,661.15 L1904.30,658.47 L1905.30,660.05 L1906.30,664.48 L1907.30,668.90 L1908.30,673.44 L1909.30,678.25 L1910.30,683.05 L1911.30,687.86 L1912.30,692.66 L1913.30,694.24 L1914.30,694.44 L1915.30,694.64 L1916.30,694.83 L1917.30,695.03 L1918.30,695.23 L1919.30,695.42 L1920.30,695.62 L1921.30,695.82 L1922.30,696.01 L1923.30,696.21 L1924.30,696.40 L1925.30,696.32 L1926.30,695.97 L1927.30,695.61 L1928.30,695.26 L1929.30,694.90 L1930.30,694.54 L1931.30,694.19 L1932.30,693.83 L1933.30,693.47 L1934.30,693.12 L1935.30,692.76 L1936.30,692.40 L1937.30,692.05 L1938.30,691.69 L1939.30,691.33 L1940.30,690.97 L1941.30,690.61 L1942.30,690.24 L1943.30,689.84 L1944.30,689.44 L1945.30,689.04 L1946.30,688.64 L1947.30,688.24 L1948.30,687.84 L1949.30,687.43 L1950.30,687.03 L1951.30,686.63 L1952.30,686.23 L1953.30,685.83 L1954.30,685.43 L1955.30,685.03 L1956.30,684.62 L1957.30,684.22 L1958.30,683.82 L1959.30,683.42 L1960.30,683.02 L1961.30,682.61 L1962.30,682.21 L1963.30,681.81 L1964.30,681.41 L1965.30,681.00 L1966.30,680.60 L1967.30,679.82 L1968.30,679.03 L1969.30,678.25 L1970.30,677.47 L1971.30,676.68 L1972.30,675.90 L1973.30,675.12 L1974.30,674.33 L1975.30,673.55 L1976.30,672.77 L1977.30,671.98 L1978.30,671.20 L1979.30,670.41 L1980.30,669.63 L1981.30,668.85 L1982.30,668.06 L1983.30,667.28 L1984.30,666.94 L1985.30,666.65 L1986.30,666.36 L1987.30,666.07 L1988.30,665.78 L1989.30,665.48 L1990.30,665.19 L1991.30,664.90 L1992.30,664.61 L1993.30,664.32 L1994.30,664.03 L1995.30,664.46 L1996.30,664.97 L1997.30,665.48 L1998.30,665.99 L1999.30,666.50 L2000.30,667.00 L2001.30,667.51 L2002.30,668.02 L2003.30,668.53 L2004.30,669.04 L2005.30,669.55 L2006.30,669.70 L2007.30,669.82 L2008.30,669.93 L2009.30,670.05 L2010.30,670.16 L2011.30,670.28 L2012.30,670.39 L2013.30,670.51 L2014.30,670.62 L2015.30,670.73 L2016.30,670.85 L2017.30,670.96 L2018.30,671.08 L2019.30,671.19 L2020.30,671.31 L2021.30,671.42 L2022.30,671.63 L2023.30,672.06 L2024.30,672.50 L2025.30,672.93 L2026.30,673.36 L2027.30,673.80 L2028.30,674.23 L2029.30,674.66 L2030.30,675.10 L2031.30,675.53 L2032.30,675.96 L2033.30,676.40 L2034.30,676.83 L2035.30,677.26 L2036.30,677.70 L2037.30,678.13 L2038.30,678.56 L2039.30,678.99 L2040.30,679.43 L2041.30,679.60 L2042.30,679.60 L2043.30,679.60 L2044.30,679.60 L2045.30,679.61 L2046.30,679.61 L2047.30,679.61 L2048.30,679.61 L2049.30,679.61 L2050.30,679.61 L2051.30,679.61 L2052.30,679.61 L2053.30,679.61 L2054.30,679.61 L2055.30,679.61 L2056.30,679.61 L2057.30,679.61 L2058.30,679.61 L2059.30,679.61 L2060.30,679.61 L2061.30,679.61 L2062.30,679.61 L2063.30,679.61 L2064.30,679.61 L2065.30,679.61 L2066.30,679.61 L2067.30,679.61 L2068.30,679.61 L2069.30,679.61 L2070.30,679.61 L2071.30,679.61 L2072.30,679.61 L2073.30,679.61 L2074.30,679.60 L2075.30,679.60 L2076.30,679.60 L2077.30,679.60 L2078.30,679.36 L2079.30,678.18 L2080.30,677.01 L2081.30,675.83 L2082.30,674.69 L2083.30,673.67 L2084.30,672.64 L2085.30,671.62 L2086.30,671.02 L2087.30,672.09 L2088.30,673.17 L2089.30,674.25 L2090.30,674.99 L2091.30,674.96 L2092.30,674.93 L2093.30,674.90 L2094.30,674.87 L2095.30,674.84 L2096.30,674.81 L2097.30,674.33 L2098.30,673.38 L2099.30,672.44 L2100.30,671.50 L2101.30,670.55 L2102.30,669.61 L2103.30,668.66 L2104.30,667.84 L2105.30,667.32 L2106.30,666.81 L2107.30,666.29 L2108.30,665.77 L2109.30,665.25 L2110.30,664.72 L2111.30,664.20 L2112.30,664.96 L2113.30,666.03 L2114.30,667.10 L2115.30,668.18 L2116.30,669.25 L2117.30,670.35 L2118.30,671.50 L2119.30,672.66 L2120.30,673.81 L2121.30,674.96 L2122.30,676.12 L2123.30,677.27 L2124.30,677.98 L2125.30,678.59 L2126.30,679.19 L2127.30,679.79 L2128.30,680.39 L2129.30,681.00 L2130.30,681.60 L2131.30,682.20 L2132.30,682.80 L2133.30,683.40 L2134.30,684.00 L2135.30,684.60 L2136.30,685.20 L2137.30,685.47 L2138.30,685.42 L2139.30,685.37 L2140.30,685.31 L2141.30,685.26 L2142.30,685.20 L2143.30,685.14 L2144.30,685.09 L2145.30,685.03 L2146.30,684.97 L2147.30,684.91 L2148.30,683.85 L2149.30,682.53 L2150.30,681.21 L2151.30,679.89 L2152.30,678.57 L2153.30,677.25 L2154.30,675.93 L2155.30,674.48 L2156.30,672.73 L2157.30,670.98 L2158.30,669.06 L2159.30,665.71 L2160.30,662.35 L2161.30,659.70 L2162.30,658.70 L2163.30,657.70 L2164.30,659.62 L2165.30,662.78 L2166.30,666.50 L2167.30,671.50 L2168.30,676.50 L2169.30,680.79 L2170.30,683.40 L2171.30,686.02 L2172.30,686.89 L2173.30,687.02 L2174.30,687.15 L2175.30,687.28 L2176.30,687.40 L2177.30,687.53 L2178.30,687.65 L2179.30,687.76 L2180.30,687.88 L2181.30,687.99 L2182.30,688.10 L2183.30,688.15 L2184.30,688.20 L2185.30,688.25 L2186.30,688.29 L2187.30,688.33 L2188.30,688.36 L2189.30,688.40 L2190.30,688.42 L2191.30,688.44 L2192.30,688.46 L2193.30,688.47 L2194.30,688.48 L2195.30,688.48 L2196.30,688.47 L2197.30,688.46 L2198.30,688.44 L2199.30,688.41 L2200.30,688.37 L2201.30,688.33 L2202.30,688.27 L2203.30,688.21 L2204.30,688.13 L2205.30,688.04 L2206.30,687.94 L2207.30,687.83 L2208.30,687.70 L2209.30,687.58 L2210.30,687.50 L2211.30,687.41 L2212.30,687.29 L2213.30,687.15 L2214.30,686.98 L2215.30,686.79 L2216.30,686.57 L2217.30,686.32 L2218.30,686.03 L2219.30,685.70 L2220.30,685.32 L2221.30,684.90 L2222.30,684.42 L2223.30,683.88 L2224.30,683.27 L2225.30,682.41 L2226.30,681.07 L2227.30,679.63 L2228.30,678.08 L2229.30,676.41 L2230.30,674.59 L2231.30,672.60 L2232.30,670.42 L2233.30,668.01 L2234.30,665.35 L2235.30,662.38 L2236.30,659.04 L2237.30,655.28 L2238.30,651.01 L2239.30,646.12 L2240.30,640.47 L2241.30,633.92 L2242.30,626.22 L2243.30,617.13 L2244.30,606.26 L2244.80,600.02 L2245.05,596.67 L2245.30,593.16 L2245.55,589.46 L2245.80,585.58 L2246.05,581.50 L2246.30,577.20 L2246.55,572.67 L2246.80,567.91 L2247.05,562.88 L2247.30,557.58 L2247.55,551.99 L2247.80,546.08 L2248.05,539.85 L2248.30,533.26 L2248.55,526.29 L2248.80,518.93 L2249.05,511.14 L2249.30,502.90 L2249.55,494.18 L2249.80,484.97 L2250.05,475.22 L2250.30,464.92 L2250.55,454.04 L2250.80,442.56 L2251.05,430.45 L2251.30,417.69 L2251.55,404.28 L2251.80,390.20 L2252.05,375.47 L2252.30,360.09 L2252.55,344.10 L2252.80,327.54 L2253.05,310.46 L2253.30,292.97 L2253.55,275.17 L2253.80,257.20 L2254.05,239.23 L2254.30,221.48 L2254.55,204.16 L2254.80,187.53 L2255.05,171.88 L2255.30,157.50 L2255.55,144.69 L2255.80,133.72 L2256.05,124.87 L2256.30,118.35 L2256.55,114.33 L2256.80,112.91 L2257.05,116.10 L2257.30,125.61 L2257.55,140.82 L2257.80,160.79 L2258.05,184.43 L2258.30,210.58 L2258.55,238.17 L2258.80,266.27 L2259.05,294.11 L2259.30,321.15 L2259.55,346.98 L2259.80,371.35 L2260.05,394.13 L2260.30,415.27 L2260.55,434.79 L2260.80,452.73 L2261.05,469.19 L2261.30,484.25 L2261.55,498.03 L2261.80,510.62 L2262.05,522.13 L2262.30,532.65 L2262.55,542.27 L2262.80,551.09 L2263.05,559.16 L2263.30,566.57 L2263.55,573.38 L2263.80,579.64 L2264.05,585.41 L2264.30,590.72 L2264.55,595.63 L2264.80,600.17 L2265.05,604.37 L2265.30,608.27 L2265.55,611.88 L2265.80,615.24 L2266.05,618.37 L2266.30,621.28 L2266.55,624.00 L2266.80,626.53 L2267.05,628.90 L2267.30,631.12 L2267.55,633.20 L2267.80,635.15 L2268.05,636.97 L2268.30,638.69 L2268.55,640.30 L2269.30,644.60 L2270.30,649.27 L2271.30,653.01 L2272.30,656.03 L2273.30,658.48 L2274.30,660.49 L2275.30,662.14 L2276.30,663.50 L2277.30,664.63 L2278.30,665.56 L2279.30,666.33 L2280.30,666.96 L2281.30,667.47 L2282.30,667.89 L2283.30,668.22 L2284.30,668.48 L2285.30,668.68 L2286.30,668.82 L2287.30,668.92 L2288.30,668.97 L2289.30,668.99 L2290.30,668.98 L2291.30,668.93 L2292.30,668.85 L2293.30,668.73 L2294.30,668.59 L2295.30,668.43 L2296.30,668.26 L2297.30,668.07 L2298.30,667.86 L2299.30,667.65 L2300.30,667.42 L2301.30,667.18 L2302.30,666.94 L2303.30,666.68 L2304.30,666.42 L2305.30,666.19 L2306.30,666.14 L2307.30,666.08 L2308.30,666.02 L2309.30,665.95 L2310.30,665.88 L2311.30,665.80 L2312.30,665.72 L2313.30,665.64 L2314.30,665.55 L2315.30,665.46 L2316.30,665.36 L2317.30,665.26 L2318.30,665.16 L2319.30,665.06 L2320.30,664.95 L2321.30,664.85 L2322.30,664.74 L2323.30,664.62 L2324.30,664.51 L2325.30,664.39 L2326.30,664.27 L2327.30,664.15 L2328.30,664.03 L2329.30,663.91 L2330.30,663.79 L2331.30,663.66 L2332.30,663.38 L2333.30,662.95 L2334.30,662.51 L2335.30,662.07 L2336.30,661.63 L2337.30,661.19 L2338.30,660.75 L2339.30,660.31 L2340.30,659.81 L2341.30,659.19 L2342.30,658.57 L2343.30,657.94 L2344.30,657.32 L2345.30,656.69 L2346.30,656.07 L2347.30,655.44 L2348.20,655.00" stroke="#ff1a1a"/>
</g>
<g stroke="#000" fill="none">
<line x1="1419.8" y1="34.2" x2="2349.7" y2="34.2" stroke-width="5"/>
<line x1="1422.3" y1="31.7" x2="1422.3" y2="1054.0" stroke-width="5"/>
<line x1="2348.2" y1="31.7" x2="2348.2" y2="1062.0" stroke-width="3.2"/>
<line x1="1419.8" y1="1052.5" x2="2349.7" y2="1052.5" stroke-width="3.2"/>
<line x1="1402.8" y1="1052.5" x2="1422.3" y2="1052.5" stroke-width="3.4"/>
<line x1="1411.3" y1="916.6" x2="1422.3" y2="916.6" stroke-width="3.4"/>
<line x1="1402.8" y1="780.8" x2="1422.3" y2="780.8" stroke-width="3.4"/>
<line x1="1411.3" y1="645.0" x2="1422.3" y2="645.0" stroke-width="3.4"/>
<line x1="1402.8" y1="509.1" x2="1422.3" y2="509.1" stroke-width="3.4"/>
<line x1="1411.3" y1="373.2" x2="1422.3" y2="373.2" stroke-width="3.4"/>
<line x1="1402.8" y1="237.4" x2="1422.3" y2="237.4" stroke-width="3.4"/>
<line x1="1411.3" y1="101.6" x2="1422.3" y2="101.6" stroke-width="3.4"/>
<line x1="1490.8" y1="1052.5" x2="1490.8" y2="1062.0" stroke-width="4"/>
<line x1="1576.5" y1="1052.5" x2="1576.5" y2="1072.5" stroke-width="4"/>
<line x1="1662.2" y1="1052.5" x2="1662.2" y2="1062.0" stroke-width="4"/>
<line x1="1747.9" y1="1052.5" x2="1747.9" y2="1072.5" stroke-width="4"/>
<line x1="1833.7" y1="1052.5" x2="1833.7" y2="1062.0" stroke-width="4"/>
<line x1="1919.4" y1="1052.5" x2="1919.4" y2="1072.5" stroke-width="4"/>
<line x1="2005.1" y1="1052.5" x2="2005.1" y2="1062.0" stroke-width="4"/>
<line x1="2090.8" y1="1052.5" x2="2090.8" y2="1072.5" stroke-width="4"/>
<line x1="2176.5" y1="1052.5" x2="2176.5" y2="1062.0" stroke-width="4"/>
<line x1="2262.3" y1="1052.5" x2="2262.3" y2="1072.5" stroke-width="4"/>
</g>
<g font-size="48" fill="#000">
<text x="1388.5" y="1065.9" text-anchor="end">0</text>
<text x="1388.5" y="794.2" text-anchor="end">200,000</text>
<text x="1388.5" y="522.5" text-anchor="end">400,000</text>
<text x="1388.5" y="250.8" text-anchor="end">600,000</text>
<g transform="translate(0,1107) scale(1,1.055) translate(0,-1107)">
<text x="1576.5" y="1124" text-anchor="middle">800</text>
<text x="1747.9" y="1124" text-anchor="middle">1000</text>
<text x="1919.4" y="1124" text-anchor="middle">1200</text>
<text x="2090.8" y="1124" text-anchor="middle">1400</text>
<text x="2262.3" y="1124" text-anchor="middle">1600</text>
</g>
</g>
<text x="1614" y="1201.2" font-size="58">Raman Shift (cm<tspan font-size="38" dy="-23.5">−1</tspan><tspan dy="23.5" dx="1">)</tspan></text>
<text transform="translate(1182,745) rotate(-90)" font-size="58">Intensity (a.u.)</text>
<text x="1190.5" y="111.3" font-size="100" transform="translate(0,111.3) scale(1,1.02) translate(0,-111.3)">B</text>
<line x1="1455" y1="110.3" x2="1536" y2="110.3" stroke="#0000ff" stroke-width="4.3"/>
<text x="1548.7" y="125.8" font-size="48">Au-MPN 1</text>
<line x1="1455" y1="169.1" x2="1536" y2="169.1" stroke="#6b6bff" stroke-width="4.3"/>
<text x="1548.7" y="184.6" font-size="48">Au-MPN 2</text>
<line x1="1455" y1="227.9" x2="1536" y2="227.9" stroke="#ffb8b8" stroke-width="4.3"/>
<text x="1548.7" y="243.4" font-size="48">Au-MPN 3</text>
<line x1="1455" y1="286.7" x2="1536" y2="286.7" stroke="#ff6b6b" stroke-width="4.3"/>
<text x="1548.7" y="302.2" font-size="48">Au-MPN 4</text>
<line x1="1455" y1="345.5" x2="1536" y2="345.5" stroke="#ff1a1a" stroke-width="4.3"/>
<text x="1548.7" y="361.0" font-size="48">Au-MPN 5</text>
</svg></body></html>
